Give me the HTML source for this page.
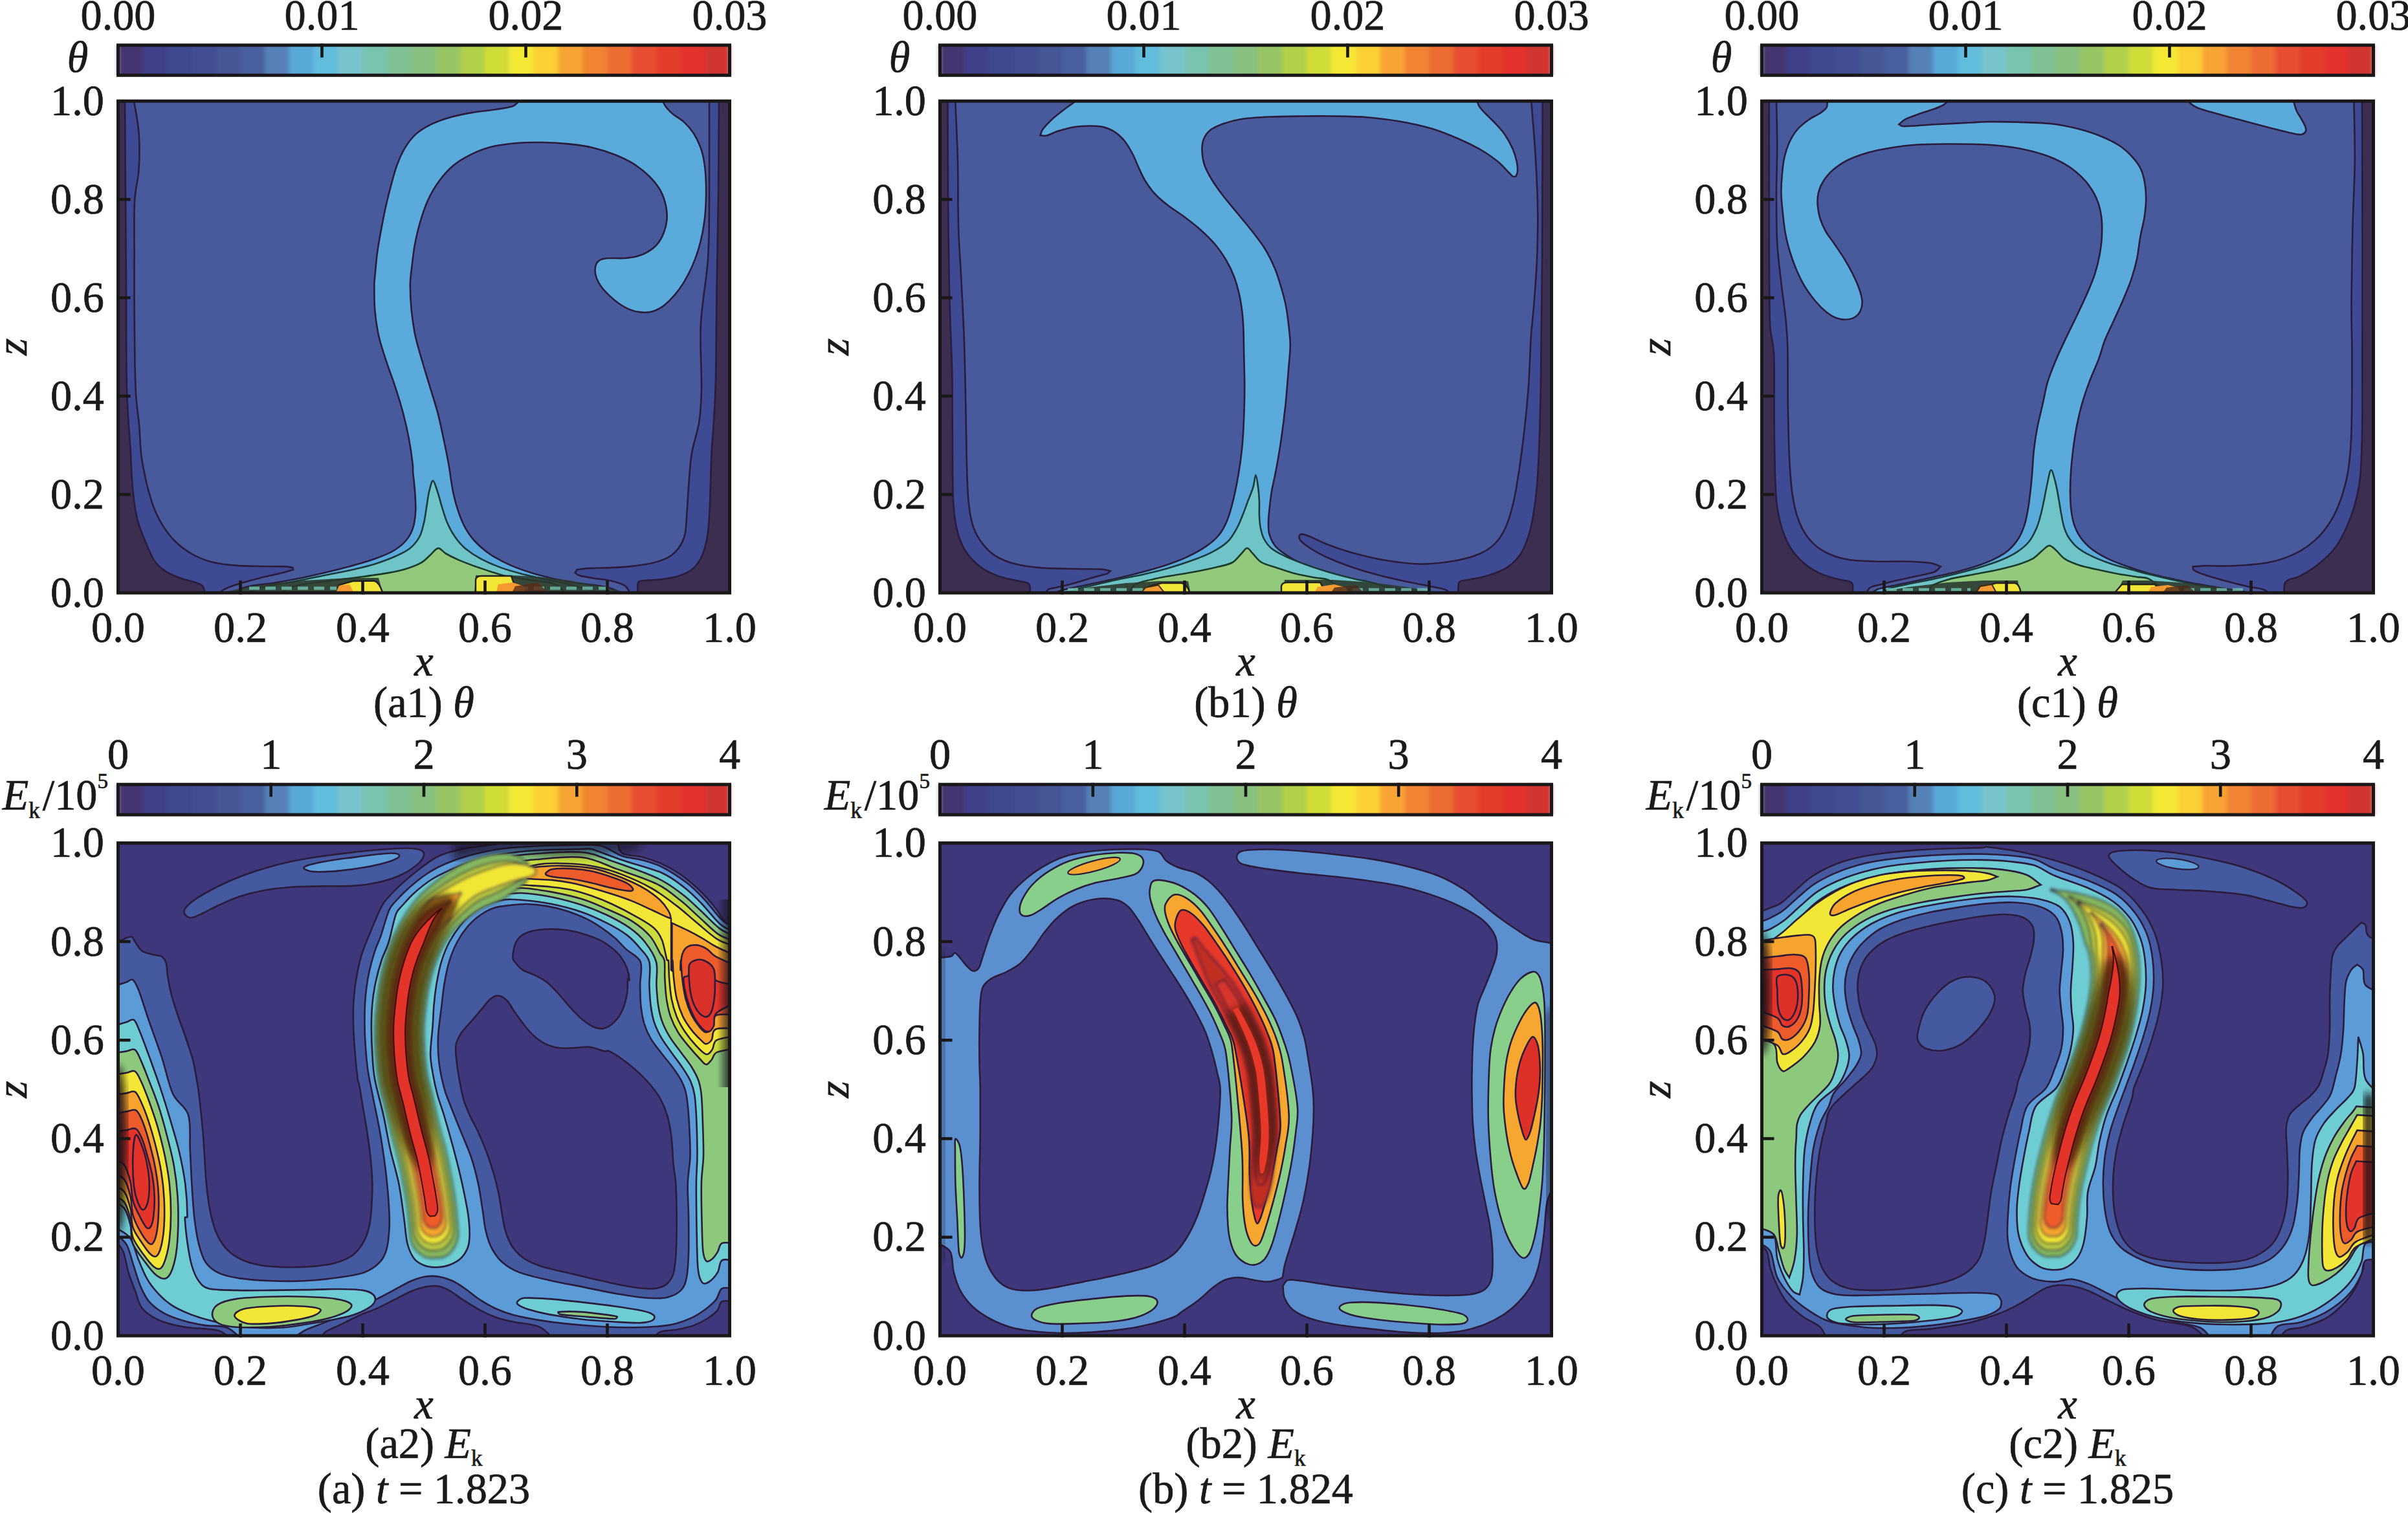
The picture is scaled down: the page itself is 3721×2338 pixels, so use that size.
<!DOCTYPE html><html><head><meta charset="utf-8"><title>figure</title><style>html,body{margin:0;padding:0;background:#fff}svg{display:block}text{font-family:"Liberation Serif",serif;fill:#1a1a1a;stroke:#1a1a1a;stroke-width:.7px}.i{font-style:italic}</style></head><body>
<svg xmlns="http://www.w3.org/2000/svg" width="3721" height="2338" viewBox="0 0 3721 2338">
<rect width="3721" height="2338" fill="#fff"/>
<defs>
<clipPath id="cp00"><rect x="182.5" y="156.2" width="945" height="759.9000000000001"/></clipPath>
<clipPath id="cp01"><rect x="1452.5" y="156.2" width="945" height="759.9000000000001"/></clipPath>
<clipPath id="cp02"><rect x="2722.5" y="156.2" width="945" height="759.9000000000001"/></clipPath>
<clipPath id="cp10"><rect x="182.5" y="1302.7" width="945" height="761.3999999999999"/></clipPath>
<clipPath id="cp11"><rect x="1452.5" y="1302.7" width="945" height="761.3999999999999"/></clipPath>
<clipPath id="cp12"><rect x="2722.5" y="1302.7" width="945" height="761.3999999999999"/></clipPath>
<filter id="bl" x="-5%" y="-5%" width="110%" height="110%"><feGaussianBlur stdDeviation="1.1"/></filter>
<filter id="cbb" x="-2%" y="-20%" width="104%" height="140%"><feGaussianBlur stdDeviation="3 0"/></filter><filter id="bl3" x="-10%" y="-5%" width="120%" height="110%"><feGaussianBlur stdDeviation="6"/></filter><filter id="bl2" x="-5%" y="-5%" width="110%" height="110%"><feGaussianBlur stdDeviation="2"/></filter><linearGradient id="wsh" x1="0" x2="1" y1="0" y2="0"><stop offset="0" stop-color="#15101a" stop-opacity=".9"/><stop offset="1" stop-color="#15101a" stop-opacity="0"/></linearGradient><linearGradient id="wshr" x1="1" x2="0" y1="0" y2="0"><stop offset="0" stop-color="#15101a" stop-opacity=".9"/><stop offset="1" stop-color="#15101a" stop-opacity="0"/></linearGradient>
</defs>
<g filter="url(#cbb)">
<rect x="182.20" y="69.8" width="38.40" height="46.5" fill="#44356f"/>
<rect x="220.00" y="69.8" width="38.40" height="46.5" fill="#3f4088"/>
<rect x="257.80" y="69.8" width="38.40" height="46.5" fill="#404a90"/>
<rect x="295.60" y="69.8" width="38.40" height="46.5" fill="#424e93"/>
<rect x="333.40" y="69.8" width="38.40" height="46.5" fill="#455496"/>
<rect x="371.20" y="69.8" width="38.40" height="46.5" fill="#4a5e9f"/>
<rect x="409.00" y="69.8" width="38.40" height="46.5" fill="#5580b8"/>
<rect x="446.80" y="69.8" width="38.40" height="46.5" fill="#58a8d8"/>
<rect x="484.60" y="69.8" width="38.40" height="46.5" fill="#62bcdc"/>
<rect x="522.40" y="69.8" width="38.40" height="46.5" fill="#78c4cc"/>
<rect x="560.20" y="69.8" width="38.40" height="46.5" fill="#78c4b0"/>
<rect x="598.00" y="69.8" width="38.40" height="46.5" fill="#80c094"/>
<rect x="635.80" y="69.8" width="38.40" height="46.5" fill="#88c080"/>
<rect x="673.60" y="69.8" width="38.40" height="46.5" fill="#98c464"/>
<rect x="711.40" y="69.8" width="38.40" height="46.5" fill="#b0d048"/>
<rect x="749.20" y="69.8" width="38.40" height="46.5" fill="#d0dc38"/>
<rect x="787.00" y="69.8" width="38.40" height="46.5" fill="#f4e834"/>
<rect x="824.80" y="69.8" width="38.40" height="46.5" fill="#fcd034"/>
<rect x="862.60" y="69.8" width="38.40" height="46.5" fill="#f8a434"/>
<rect x="900.40" y="69.8" width="38.40" height="46.5" fill="#f08430"/>
<rect x="938.20" y="69.8" width="38.40" height="46.5" fill="#ec6c30"/>
<rect x="976.00" y="69.8" width="38.40" height="46.5" fill="#e85030"/>
<rect x="1013.80" y="69.8" width="38.40" height="46.5" fill="#e43c2c"/>
<rect x="1051.60" y="69.8" width="38.40" height="46.5" fill="#e4322e"/>
<rect x="1089.40" y="69.8" width="38.40" height="46.5" fill="#d03430"/>
</g>
<rect x="182.5" y="69.8" width="945" height="46.5" fill="none" stroke="#1a1718" stroke-width="5"/>
<rect x="495.2" y="67.3" width="4.6" height="21.5" fill="#1a1718"/>
<rect x="810.2" y="67.3" width="4.6" height="21.5" fill="#1a1718"/>
<g clip-path="url(#cp00)"><rect x="180" y="153.7" width="950" height="770" fill="#3c2e50"/><path d="M193 150C193.3 200 193.7 250 194 300C194.3 350 194.7 400 195 450C195.3 500 194.8 558.3 196 600C197.2 641.7 200.6 676.7 201.9 700C202.9 717.9 202.9 726.6 203.9 739.9C204.9 753.2 206.1 767.8 207.9 779.7C209.7 791.7 211.9 801.7 214.9 811.6C217.9 821.6 222 830.6 225.8 839.5C229.7 848.5 233.2 858.5 237.8 865.4C242.5 872.4 247.4 876.9 253.7 881.4C260.1 885.9 268 889.4 275.7 892.3C283.3 895.3 293.3 897 299.6 899.3C305.9 901.6 310.5 902 313.5 906.3C316.6 910.6 316.5 918.8 318 925C540.5 925 762.9 925 985.4 925C985.4 917.9 985.1 908 985.4 903.6C985.6 901.1 985.8 899.6 987.6 898.5C989.4 897.4 992.4 897.4 996.3 897C1001.4 896.5 1009.7 896.7 1018.1 895.6C1026.6 894.5 1038.7 893 1047.2 890.5C1055.7 887.9 1063.2 884.7 1069 880.3C1074.9 875.9 1078.7 870.1 1082.1 864.3C1085.5 858.5 1087.5 852.2 1089.4 845.4C1091.3 838.6 1092.5 833.3 1093.8 823.6C1095 813.9 1095.9 800.6 1096.7 787.2C1097.4 773.9 1097.6 758.2 1098.1 743.6C1098.6 729.1 1098.6 719.6 1099.6 700C1100.8 676.1 1104.3 641.7 1105.6 600C1106.9 558.3 1106.8 500 1107.5 450C1108.2 400 1109.4 350 1110 300C1110.6 250 1110.7 200 1111 150C805 150 499 150 193 150Z" fill="#3f4a95" stroke="#2a1c3a" stroke-width="2.6" /><path d="M206 150C208.8 168.3 213.1 186.3 214.5 205C215.9 223.7 215.6 244.2 214.5 262C213.4 279.8 209.1 289.3 208 312C206.8 335 207.6 370.5 207.5 400C207.4 429.5 207.3 455.3 207.7 489C208 522.7 208.3 573.7 209.6 602C210.7 627.6 213.8 642.4 215.2 658.7C216.6 675 216.6 688.1 217.9 700C219.1 711.9 220.9 719.9 222.9 729.9C224.8 739.9 227 749.8 229.8 759.8C232.7 769.8 235.8 780.4 239.8 789.7C243.8 799 248.4 807.6 253.7 815.6C259.1 823.6 264.7 830.9 271.7 837.5C278.7 844.2 287 850.5 295.6 855.5C304.2 860.5 312.9 864.4 323.5 867.4C334.1 870.4 346.8 872.1 359.4 873.4C372 874.7 386 874.7 399.3 875C412.5 875.3 430.3 875.1 439.1 875.4C445 875.6 447.8 876.5 452.1 877C452.4 878.1 452.7 879.3 453.1 880.4C448.4 881.7 445.5 882.8 439.1 884.4C431.8 886.2 419.2 888.9 409.2 891.3C399.3 893.8 387.6 897 379.3 899.3C371 901.6 365 903.3 359.4 905.3C353.7 907.3 348.8 909.5 345.4 911.3C342.4 913 341.5 914.6 339.5 916.3C551.1 916.9 762.8 917.5 974.5 918.1C972.1 914.2 970.4 909.4 967.2 906.5C964.1 903.6 960.5 902.4 955.6 900.7C950.8 899 944.7 897.5 938.2 896.3C931.6 895.1 923.6 894.6 916.4 893.4C909.1 892.2 899.1 890.4 894.5 889C891.5 888.1 890.7 886.3 888.7 885C889.7 883.4 890.7 881.9 891.6 880.3C897.4 879.6 901.3 878.6 909.1 878.1C916.8 877.6 928.5 877.8 938.2 877.4C947.9 877 957.6 876.8 967.2 875.9C976.9 875.1 987.8 873.8 996.3 872.3C1004.8 870.9 1011.4 869.5 1018.1 867.2C1024.9 864.9 1031.5 862.6 1037 858.5C1042.6 854.4 1048 848.3 1051.6 842.5C1055.2 836.7 1057.2 832.6 1058.9 823.6C1060.6 814.4 1060.8 800.6 1061.8 787.2C1062.7 773.9 1063.5 758.2 1064.7 743.6C1065.9 729.1 1066.4 715.4 1069 700C1071.7 684.6 1078 667.7 1080.5 651C1083 634.3 1083.6 623 1084 600C1084.4 574.8 1081.3 533.3 1083 500C1084.7 466.7 1091.8 433.3 1094 400C1096.2 366.7 1095.7 341.7 1096 300C1096.3 258.3 1096 200 1096 150C799.3 150 502.7 150 206 150Z" fill="#48599c" stroke="#2a1c3a" stroke-width="2.6" /><path d="M801.3 157.2C798 159.7 796.8 162.8 791.6 164.5C785.6 166.5 775.5 167.7 765.1 169.3C754.6 170.9 740.5 172.1 728.9 174.1C717.2 176.1 705.6 178.3 695.1 181.4C684.6 184.4 675 187.8 666.2 192.2C657.3 196.6 648.9 201.7 642 207.9C635.2 214.1 630 221.6 625.1 229.6C620.3 237.7 616.5 246.9 613.1 256.2C609.7 265.4 607.4 274.6 604.6 285.1C601.8 295.6 598.8 307.2 596.2 318.9C593.6 330.5 591.2 343 589 355.1C586.7 367.1 584.5 379.2 582.9 391.3C581.3 403.3 580.1 419.3 579.3 427.4C578.8 433.1 578.3 434.3 578.3 440C578.3 448.7 578.2 466.4 579.3 479.7C580.5 492.9 582.3 506.1 585.3 519.3C588.2 532.5 592.9 545.8 597.2 559C601.5 572.2 606.7 585.4 611 598.6C615.3 611.9 619.5 625.1 622.9 638.3C626.4 651.5 629.4 664.7 631.9 678C634.3 691.2 636.8 709 637.8 717.6C638.5 723.1 637.8 724.4 638.2 729.9C638.8 736.9 640.5 749.8 641.2 759.8C641.8 769.8 642.7 780.4 642.2 789.7C641.7 799 640.7 808 638.2 815.6C635.7 823.2 632.4 829.6 627.2 835.5C622.1 841.5 615.3 846.8 607.3 851.5C599.3 856.1 590.7 859.5 579.4 863.4C568.1 867.4 552.8 871.7 539.5 875.4C526.2 879.1 512.9 882.2 499.7 885.4C486.4 888.5 473.1 891.7 459.8 894.3C446.5 897 433.4 899.1 419.9 901.3C406.5 903.5 391.5 903.6 379 907.5C366.5 911.4 356.3 919.2 345 925C555 925 765 925 975 925C963.3 919.3 955.8 912.3 940 908C924.2 903.7 898.5 902.8 880 899.3C861.4 895.9 843.8 891.7 828.5 887.4C813.3 883 800.3 878.4 788.7 873.4C777.1 868.4 767.7 863.4 758.8 857.5C749.8 851.5 741.5 844.5 734.9 837.5C728.2 830.6 723.4 823.6 718.9 815.6C714.4 807.6 711.1 799 708 789.7C704.8 780.4 702.4 771.8 700 759.8C697.5 747.8 695.8 731.3 693.3 717.6C690.9 704 688.2 691.2 685.4 678C682.6 664.7 680 651.5 676.5 638.3C673 625.1 668.6 611.9 664.6 598.6C660.6 585.4 656.5 572.2 652.7 559C648.9 545.8 644.6 532.5 641.8 519.3C639 506.1 637.2 492.9 635.8 479.7C634.5 466.4 633.8 450.7 633.8 440C633.9 429.3 634.8 425.5 636 415.4C637.2 405.2 638.6 391.3 640.8 379.2C643 367.1 645.8 354.7 649.3 343C652.7 331.3 656.5 319.7 661.3 309.2C666.2 298.8 671.8 289.1 678.2 280.3C684.6 271.4 691.9 263 699.9 256.2C708 249.3 716.8 244.1 726.5 239.3C736.1 234.4 746.2 230.2 757.8 227.2C769.5 224.2 783.2 222.4 796.4 221.2C809.7 220 823.8 219.8 837.4 220C851.1 220.2 865.2 221 878.5 222.4C891.7 223.8 905 225.6 917.1 228.4C929.1 231.2 940.4 235 950.8 239.3C961.3 243.5 970.9 248.1 979.8 253.7C988.6 259.4 997.1 266.2 1003.9 273C1010.7 279.9 1016.6 287.1 1020.8 294.8C1025 302.4 1027.6 311.2 1029.2 318.9C1030.8 326.5 1031 333.8 1030.4 340.6C1029.8 347.4 1028 353.9 1025.6 359.9C1023.2 365.9 1020 372 1016 376.8C1012 381.6 1006.7 385.6 1001.5 388.8C996.3 392.1 990.6 394.4 984.6 396.1C978.6 397.8 972.5 398.5 965.3 399C958.1 399.5 947.2 398.7 941.2 399C935.7 399.3 932.3 399.6 929.1 400.9C925.9 402.2 923.5 404.1 921.9 406.9C920.3 409.8 919.5 414 919.5 417.8C919.5 421.6 920.3 425.6 921.9 429.9C923.5 434.1 925.9 438.7 929.1 443.1C932.3 447.5 936.8 452.2 941.2 456.4C945.6 460.6 950.4 464.8 955.7 468.5C960.9 472.1 966.9 475.8 972.5 478.1C978.2 480.4 983.8 481.8 989.4 482.4C995.1 483.1 1001.1 482.9 1006.3 481.7C1011.5 480.6 1016 478.7 1020.8 475.7C1025.6 472.7 1030.4 468.5 1035.3 463.6C1040.1 458.8 1045.1 453.2 1049.7 446.7C1054.4 440.3 1059 432.7 1063 425C1067 417.4 1070.7 409.3 1073.9 400.9C1077.1 392.5 1079.9 384 1082.3 374.4C1084.7 364.7 1086.9 353.5 1088.3 343C1089.8 332.5 1090.4 322.1 1090.8 311.6C1091.2 301.2 1091.2 290.3 1090.8 280.3C1090.4 270.2 1089.8 260.2 1088.3 251.3C1086.9 242.5 1085.1 234.8 1082.3 227.2C1079.5 219.6 1075.7 211.9 1071.5 205.5C1067.2 199.1 1062.2 193.4 1057 188.6C1051.8 183.8 1044.5 180.2 1040.1 176.5C1035.7 172.9 1033.1 170.1 1030.4 166.9C1027.8 163.7 1026.4 160.5 1024.4 157.2C950 157.2 875.6 157.2 801.3 157.2Z" fill="#5aabdc" stroke="#2a1c3a" stroke-width="2.6" /><path d="M669.1 742.9C666.9 742.9 664.8 753 663.1 759.8C661.4 766.6 660.4 775.7 659.1 783.7C657.8 791.7 657 800 655.1 807.6C653.3 815.3 651.8 822.9 648.2 829.6C644.5 836.2 639.4 842.5 633.2 847.5C627.1 852.5 620.3 855.5 611.3 859.5C602.3 863.4 591.3 867.8 579.4 871.4C567.4 875.1 552.8 878.4 539.5 881.4C526.2 884.4 514.6 886.4 499.7 889.4C484.7 892.3 466.4 896.2 449.8 899.3C433.2 902.5 413.3 904 400 908.3C386.7 912.6 380 919.4 370 925C566.7 925 763.3 925 960 925C933.3 917.8 898.6 908.1 880 903.3C865.9 899.7 860.4 899 848.5 896.3C836.6 893.7 820.9 890.5 808.6 887.4C796.3 884.2 785.7 881.4 774.7 877.4C763.8 873.4 752.1 868.4 742.8 863.4C733.5 858.5 725.6 853.1 718.9 847.5C712.3 841.9 707.6 836.2 703 829.6C698.3 822.9 694.3 815.3 691 807.6C687.7 800 685.5 791.7 683 783.7C680.5 775.7 678.4 766.6 676.1 759.8C673.7 753 671.2 742.9 669.1 742.9Z" fill="#6ec4c6" stroke="#1c3a3a" stroke-width="2.6" /><path d="M677.1 847.1C673.1 847.4 669.4 853.7 665.1 857.5C660.8 861.2 657.1 865.9 651.1 869.4C645.2 872.9 637.9 875.7 629.2 878.4C620.6 881.1 610.9 883.2 599.3 885.4C587.7 887.5 572.7 889.5 559.5 891.3C546.2 893.2 532.9 894.7 519.6 896.3C506.3 898 491.4 899.5 479.7 901.3C468.1 903.1 459.8 903.3 449.8 907.3C439.9 911.2 429.9 919.1 420 925C573.3 925 726.7 925 880 925C872.8 917.8 868.7 908.1 858.4 903.3C848.2 898.5 831.9 898.7 818.6 896.3C805.3 894 788.7 891.5 778.7 889.4C769.6 887.4 766.1 885.7 758.8 883.4C751.5 881.1 743.2 878.4 734.9 875.4C726.6 872.4 716.6 868.8 708.9 865.4C701.3 862.1 694.3 858.5 689 855.5C683.7 852.4 681 846.8 677.1 847.1Z" fill="#92c97c" stroke="#1c3a2a" stroke-width="2.6" /><path d="M330 918L400 904L470 897L540 893L585 893L592 918Z" fill="#2b382f" opacity=".9"/><path d="M385 909H520" stroke="#6fbfae" stroke-width="5" stroke-dasharray="16 9" fill="none" opacity=".85"/><path d="M975 918L930 906L880 897L830 891L790 889L735 889L733 918Z" fill="#2b382f" opacity=".9"/><path d="M800 909H945" stroke="#6fbfae" stroke-width="5" stroke-dasharray="16 9" fill="none" opacity=".8"/><path d="M520 918L524 904L545 898L578 897.5Q586 899 592 918Z" fill="#f2e636" stroke="#222" stroke-width="2.4"/><path d="M518 918L524 905L540 903L548 918Z" fill="#f59a30"/><path d="M735 918V896Q736 890 744 890L790 890L800 918Z" fill="#f2e636" stroke="#222" stroke-width="2.4"/><path d="M766 918L770 903L792 900L810 906L812 918Z" fill="#f59a30"/><path d="M790 918L796 906L830 900L850 918Z" fill="#5a2a18" opacity=".8"/></g>
<rect x="182.5" y="156.2" width="945" height="759.9000000000001" fill="none" stroke="#1a1718" stroke-width="5"/>
<rect x="369.2" y="897.1" width="4.6" height="21.5" fill="#1a1718"/>
<rect x="180" y="761.8" width="21.5" height="4.6" fill="#1a1718"/>
<rect x="558.2" y="897.1" width="4.6" height="21.5" fill="#1a1718"/>
<rect x="180" y="609.8" width="21.5" height="4.6" fill="#1a1718"/>
<rect x="747.2" y="897.1" width="4.6" height="21.5" fill="#1a1718"/>
<rect x="180" y="457.9" width="21.5" height="4.6" fill="#1a1718"/>
<rect x="936.2" y="897.1" width="4.6" height="21.5" fill="#1a1718"/>
<rect x="180" y="305.9" width="21.5" height="4.6" fill="#1a1718"/>
<text x="187.2" transform="scale(0.975 1)" y="991.6" font-size="68" text-anchor="middle">0.0</text>
<text x="165.1" transform="scale(0.975 1)" y="937.8" font-size="68" text-anchor="end">0.0</text>
<text x="381.0" transform="scale(0.975 1)" y="991.6" font-size="68" text-anchor="middle">0.2</text>
<text x="165.1" transform="scale(0.975 1)" y="785.8" font-size="68" text-anchor="end">0.2</text>
<text x="574.9" transform="scale(0.975 1)" y="991.6" font-size="68" text-anchor="middle">0.4</text>
<text x="165.1" transform="scale(0.975 1)" y="633.8" font-size="68" text-anchor="end">0.4</text>
<text x="768.7" transform="scale(0.975 1)" y="991.6" font-size="68" text-anchor="middle">0.6</text>
<text x="165.1" transform="scale(0.975 1)" y="481.9" font-size="68" text-anchor="end">0.6</text>
<text x="962.6" transform="scale(0.975 1)" y="991.6" font-size="68" text-anchor="middle">0.8</text>
<text x="165.1" transform="scale(0.975 1)" y="329.9" font-size="68" text-anchor="end">0.8</text>
<text x="1156.4" transform="scale(0.975 1)" y="991.6" font-size="68" text-anchor="middle">1.0</text>
<text x="165.1" transform="scale(0.975 1)" y="177.9" font-size="68" text-anchor="end">1.0</text>
<text x="187.2" transform="scale(0.975 1)" y="45.5" font-size="68" text-anchor="middle">0.00</text>
<text x="510.3" transform="scale(0.975 1)" y="45.5" font-size="68" text-anchor="middle">0.01</text>
<text x="833.3" transform="scale(0.975 1)" y="45.5" font-size="68" text-anchor="middle">0.02</text>
<text x="1156.4" transform="scale(0.975 1)" y="45.5" font-size="68" text-anchor="middle">0.03</text>
<text class="i" x="123.1" transform="scale(0.975 1)" y="111.0" font-size="68" text-anchor="middle">θ</text>
<text class="i" x="671.8" transform="scale(0.975 1)" y="1043.9" font-size="68" text-anchor="middle">x</text>
<text class="i" transform="translate(41.0,536.1) rotate(-90)" font-size="68" text-anchor="middle">z</text>
<text x="671.8" transform="scale(0.975 1)" y="1107.8" font-size="68" text-anchor="middle">(a1) <tspan class="i">θ</tspan></text>
<g filter="url(#cbb)">
<rect x="1452.20" y="69.8" width="38.40" height="46.5" fill="#44356f"/>
<rect x="1490.00" y="69.8" width="38.40" height="46.5" fill="#3f4088"/>
<rect x="1527.80" y="69.8" width="38.40" height="46.5" fill="#404a90"/>
<rect x="1565.60" y="69.8" width="38.40" height="46.5" fill="#424e93"/>
<rect x="1603.40" y="69.8" width="38.40" height="46.5" fill="#455496"/>
<rect x="1641.20" y="69.8" width="38.40" height="46.5" fill="#4a5e9f"/>
<rect x="1679.00" y="69.8" width="38.40" height="46.5" fill="#5580b8"/>
<rect x="1716.80" y="69.8" width="38.40" height="46.5" fill="#58a8d8"/>
<rect x="1754.60" y="69.8" width="38.40" height="46.5" fill="#62bcdc"/>
<rect x="1792.40" y="69.8" width="38.40" height="46.5" fill="#78c4cc"/>
<rect x="1830.20" y="69.8" width="38.40" height="46.5" fill="#78c4b0"/>
<rect x="1868.00" y="69.8" width="38.40" height="46.5" fill="#80c094"/>
<rect x="1905.80" y="69.8" width="38.40" height="46.5" fill="#88c080"/>
<rect x="1943.60" y="69.8" width="38.40" height="46.5" fill="#98c464"/>
<rect x="1981.40" y="69.8" width="38.40" height="46.5" fill="#b0d048"/>
<rect x="2019.20" y="69.8" width="38.40" height="46.5" fill="#d0dc38"/>
<rect x="2057.00" y="69.8" width="38.40" height="46.5" fill="#f4e834"/>
<rect x="2094.80" y="69.8" width="38.40" height="46.5" fill="#fcd034"/>
<rect x="2132.60" y="69.8" width="38.40" height="46.5" fill="#f8a434"/>
<rect x="2170.40" y="69.8" width="38.40" height="46.5" fill="#f08430"/>
<rect x="2208.20" y="69.8" width="38.40" height="46.5" fill="#ec6c30"/>
<rect x="2246.00" y="69.8" width="38.40" height="46.5" fill="#e85030"/>
<rect x="2283.80" y="69.8" width="38.40" height="46.5" fill="#e43c2c"/>
<rect x="2321.60" y="69.8" width="38.40" height="46.5" fill="#e4322e"/>
<rect x="2359.40" y="69.8" width="38.40" height="46.5" fill="#d03430"/>
</g>
<rect x="1452.5" y="69.8" width="945" height="46.5" fill="none" stroke="#1a1718" stroke-width="5"/>
<rect x="1765.2" y="67.3" width="4.6" height="21.5" fill="#1a1718"/>
<rect x="2080.2" y="67.3" width="4.6" height="21.5" fill="#1a1718"/>
<g clip-path="url(#cp01)"><rect x="1450" y="153.7" width="950" height="770" fill="#3c2e50"/><path d="M1464.5 150C1464.7 200 1464.6 250 1465 300C1465.4 350 1466 404.5 1467 450C1468 495.5 1470.4 539.2 1471.2 572.9C1471.9 606.6 1471.5 621.3 1471.7 652.2C1471.9 683 1471.9 733.7 1472.5 757.9C1472.9 775.8 1473.6 785.7 1475.1 797.6C1476.7 809.5 1478.4 819.6 1481.7 829.3C1485 839 1489.2 847.8 1494.9 855.8C1500.7 863.7 1508.2 871.2 1516.1 876.9C1524 882.6 1533.7 886.8 1542.5 890.1C1551.3 893.4 1561.5 895 1569 896.7C1576.5 898.5 1583.7 899.2 1587.5 900.7C1590.2 901.8 1590.9 903.1 1591.4 906C1592.1 909.7 1591.4 917.5 1591.4 923.2C1812.1 923.2 2032.8 923.2 2253.4 923.2C2253.4 917.5 2253 910.1 2253.4 906C2253.8 902.5 2253.2 900.4 2256.1 898.6C2258.9 896.8 2264 896.8 2270.6 895.4C2277.4 894 2287.3 893.2 2297 890.1C2306.7 887.1 2320 882.6 2328.8 876.9C2337.6 871.2 2344.2 864.6 2349.9 855.8C2355.6 847 2359.6 835.9 2363.1 824C2366.7 812.1 2368.9 799.8 2371.1 784.4C2373.3 769 2375 755.4 2376.4 731.5C2377.9 705.1 2379.4 661 2380.3 625.8C2381.2 590.5 2381.2 557.6 2381.6 520C2382.1 482.4 2382.7 454 2383 400C2383.3 338.3 2383.5 233.3 2383.7 150C2077.3 150 1770.9 150 1464.5 150Z" fill="#3f4a95" stroke="#2a1c3a" stroke-width="2.6" /><path d="M1476 150C1477.3 183.3 1479.2 216.7 1480 250C1480.8 283.3 1480.2 320.8 1481 350C1481.8 379.2 1483.6 396.7 1485 425C1486.4 453.3 1488.4 486.5 1489.7 520C1490.9 553.5 1491.6 594.9 1492.3 625.8C1493 656.6 1493 680.8 1493.6 705.1C1494.3 729.3 1494.7 753.5 1496.3 771.2C1497.8 788.8 1499.6 799.8 1502.9 810.8C1506.2 821.8 1510.4 829.3 1516.1 837.3C1521.8 845.2 1528.4 852.7 1537.2 858.4C1546.1 864.1 1557.1 868.5 1569 871.6C1580.9 874.8 1593.2 876.2 1608.6 877.4C1624.1 878.7 1646.1 878.7 1661.5 879C1676.9 879.4 1692.1 879 1701.2 879.6C1707.8 879.9 1710.9 881.3 1715.7 882.2C1714.4 883.5 1713.1 884.8 1711.7 886.2C1703.8 888.4 1696.3 890.4 1687.9 892.8C1679.6 895.2 1670.3 898.3 1661.5 900.7C1652.7 903.1 1642.1 905.6 1635.1 907.3C1628 909.1 1622.7 908.6 1619.2 911.3C1615.7 913.9 1615.7 919.2 1613.9 923.2C1821.4 923.2 2028.8 923.2 2236.2 923.2C2236.2 919.7 2240.2 915.2 2236.2 912.6C2231.8 909.7 2220.8 908.4 2209.8 906C2198.8 903.6 2183.4 900.9 2170.1 898.1C2156.9 895.2 2143.7 892.3 2130.5 888.8C2117.3 885.3 2102.7 880.9 2090.8 876.9C2078.9 873 2069.2 869.4 2059.1 865C2049 860.6 2037.9 855.1 2030 850.5C2022.1 845.9 2015.3 840.8 2011.5 837.3C2008.6 834.5 2007.5 831.3 2007.5 829.3C2007.5 827.3 2009 825.4 2011.5 825.4C2014.4 825.4 2019 827 2024.7 829.3C2031.3 832 2040.1 837 2051.2 841.2C2062.2 845.4 2075.4 850.3 2090.8 854.4C2106.2 858.6 2126.1 863.5 2143.7 866.3C2161.3 869.2 2178.9 871.6 2196.6 871.6C2214.2 871.6 2234.5 869 2249.5 866.3C2264.4 863.7 2276.3 860.2 2286.5 855.8C2296.6 851.4 2303.6 846.5 2310.3 839.9C2316.9 833.3 2321.7 825.4 2326.1 816.1C2330.5 806.9 2333.6 796.3 2336.7 784.4C2339.8 772.5 2341.8 762.4 2344.6 744.7C2347.5 727.1 2351 702.9 2353.9 678.6C2356.7 654.4 2359.8 625.8 2361.8 599.3C2363.8 572.9 2364.4 540.7 2365.8 520C2367.1 499.7 2368.5 495 2370 475C2371.5 455 2374 425 2375 400C2376 375 2376.7 352.1 2376.2 325C2375.8 297.9 2374.2 265.6 2372.5 237.5C2370.8 209.4 2368.3 183.3 2366.2 156.2C2069.5 154.2 1772.8 152.1 1476 150Z" fill="#48599c" stroke="#2a1c3a" stroke-width="2.6" /><path d="M1662.5 156.2C1656.7 160.4 1651.2 164 1645 168.8C1638.8 173.5 1630.6 179.8 1625 185C1619.4 190.2 1614.2 196 1611.2 200C1608.6 203.6 1608.8 206.2 1607.5 209.2C1610.8 209.3 1613.1 210.6 1617.5 209.5C1622.1 208.4 1627.9 204.7 1635 202.5C1642.1 200.3 1651.7 197.6 1660 196.2C1668.3 194.9 1677.5 194.5 1685 194.5C1692.5 194.5 1698.8 194.7 1705 196.2C1711.2 197.8 1717.1 200.2 1722.5 203.8C1727.9 207.3 1732.9 211.9 1737.5 217.5C1742.1 223.1 1746.2 230.4 1750 237.5C1753.8 244.6 1756.7 252.9 1760 260C1763.3 267.1 1765.8 273.3 1770 280C1774.2 286.7 1779.2 293.8 1785 300C1790.8 306.2 1797.5 311.7 1805 317.5C1812.5 323.3 1821.7 328.8 1830 335C1838.3 341.2 1847.1 347.9 1855 355C1862.9 362.1 1870.8 369.6 1877.5 377.5C1884.2 385.4 1890.1 394.2 1895 402.5C1899.9 410.8 1903.7 418.8 1907 427.5C1910.3 436.2 1912.9 445.8 1915 455C1917.1 464.2 1918.4 473.3 1919.5 482.5C1920.6 491.7 1921.1 499.3 1921.5 510C1921.9 520.7 1921.9 531.6 1922.2 546.4C1922.5 561.3 1923.3 581.7 1923.2 599.3C1923.2 616.9 1922.6 636.8 1921.9 652.2C1921.3 667.6 1920.6 678.6 1919.3 691.8C1918 705.1 1916.2 718.3 1914 731.5C1911.8 744.7 1908.9 759.3 1906.1 771.2C1903.2 783.1 1900.6 793.6 1896.8 802.9C1893.1 812.1 1889.3 819.6 1883.6 826.7C1877.9 833.7 1870.8 839.5 1862.4 845.2C1854.1 850.9 1843.9 856.2 1833.4 861.1C1822.8 865.9 1810.9 870.3 1799 874.3C1787.1 878.2 1774.3 881.5 1762 884.8C1749.6 888.2 1737.3 891.2 1725 894.1C1712.6 897 1699.4 899.6 1687.9 902C1676.5 904.5 1665 906.7 1656.2 908.6C1647.4 910.6 1641.2 911.5 1635.1 913.9C1628.9 916.4 1624.5 920.1 1619.2 923.2C1816.9 923.2 2014.7 923.2 2212.4 923.2C2207.1 920.5 2203.6 917.2 2196.6 915.3C2189.5 913.3 2181.2 913 2170.1 911.3C2159.1 909.5 2143.7 907.1 2130.5 904.7C2117.3 902.3 2104 899.8 2090.8 896.7C2077.6 893.7 2063.1 889.9 2051.2 886.2C2039.3 882.4 2029.1 878.5 2019.4 874.3C2009.7 870.1 2000.9 865.9 1993 861.1C1985.1 856.2 1977 850.9 1971.8 845.2C1966.6 839.5 1963.8 832.9 1961.8 826.7C1959.8 820.5 1960 815.2 1960 808.2C1960 801.1 1960.9 792.8 1961.8 784.4C1962.7 776 1963.6 767.6 1965.2 757.9C1966.9 748.3 1969.4 739.4 1971.8 726.2C1974.3 713 1977.4 695.4 1979.8 678.6C1982.2 661.9 1984.5 643.4 1986.4 625.8C1988.2 608.1 1989.7 588.3 1990.9 572.9C1992.1 557.5 1993.8 545.4 1993.8 533.2C1993.8 521.1 1992.1 510.1 1991 500C1989.9 489.9 1988.8 481.7 1987 472.5C1985.2 463.3 1982.8 454.6 1980 445C1977.2 435.4 1974.2 425 1970 415C1965.8 405 1960.8 394.6 1955 385C1949.2 375.4 1942.1 366.7 1935 357.5C1927.9 348.3 1920 339.2 1912.5 330C1905 320.8 1896.7 311.2 1890 302.5C1883.3 293.8 1877.3 285.4 1872.5 277.5C1867.7 269.6 1863.8 262.5 1861.2 255C1858.8 247.5 1857.7 239.2 1857.5 232.5C1857.3 225.8 1857.9 220.2 1860 215C1862.1 209.8 1865 205.2 1870 201.2C1875 197.3 1881.7 194.2 1890 191.2C1898.3 188.3 1907.9 185.5 1920 183.8C1932.1 182 1947.1 181.2 1962.5 180.5C1977.9 179.8 1995.8 179.7 2012.5 179.5C2029.2 179.3 2045.8 179.2 2062.5 179.5C2079.2 179.8 2095.8 179.9 2112.5 181.2C2129.2 182.6 2145.8 184.6 2162.5 187.5C2179.2 190.4 2197.1 194.2 2212.5 198.8C2227.9 203.3 2242.1 209.4 2255 215C2267.9 220.6 2280 226.7 2290 232.5C2300 238.3 2308.3 244.6 2315 250C2321.7 255.4 2326.2 261.2 2330 265C2333.4 268.4 2335.4 271.2 2337.5 272.5C2339.4 273.7 2340.8 272.5 2342.5 272.5C2343.3 270 2344.8 268.6 2345 265C2345.2 261.2 2345 255.8 2343.8 250C2342.5 244.2 2340.6 237.1 2337.5 230C2334.4 222.9 2329.6 214.2 2325 207.5C2320.4 200.8 2315 195.4 2310 190C2305 184.6 2299 179.2 2295 175C2291 170.8 2288.3 168.1 2286.2 165C2284.2 161.9 2283.8 159.2 2282.5 156.2C2075.8 156.2 1869.2 156.2 1662.5 156.2Z" fill="#5aabdc" stroke="#2a1c3a" stroke-width="2.6" /><path d="M1940.4 734.1C1939.2 734.1 1938.4 746 1936.5 752.7C1934.5 759.3 1931.2 766.8 1928.5 773.8C1925.9 780.9 1923.5 787.9 1920.6 795C1917.7 802 1915.3 809.1 1911.3 816.1C1907.4 823.2 1903.2 831.1 1896.8 837.3C1890.4 843.4 1882.3 848.3 1873 853.1C1863.8 858 1852.7 862.2 1841.3 866.3C1829.8 870.5 1816.6 874.7 1804.3 878.2C1791.9 881.8 1780 884.6 1767.3 887.5C1754.5 890.4 1740.8 892.6 1727.6 895.4C1714.4 898.3 1699 902 1687.9 904.7C1676.9 907.3 1668.6 908.2 1661.5 911.3C1654.5 914.4 1650.9 919.2 1645.6 923.2C1820.5 923.2 1995.3 923.2 2170.1 923.2C2156.9 916.6 2143.7 908.2 2130.5 903.4C2117.3 898.5 2104 897.4 2090.8 894.1C2077.6 890.8 2063.1 887.1 2051.2 883.5C2039.3 880 2029.8 876.7 2019.4 873C2009.1 869.2 1998.1 865.2 1989 861.1C1980 856.9 1971.3 852.7 1965.2 847.8C1959.2 843 1955.8 837.7 1952.8 832C1949.9 826.2 1948.7 819.6 1947.5 813.5C1946.4 807.3 1946.2 801.6 1945.9 795C1945.7 788.3 1946.2 780.9 1945.9 773.8C1945.6 766.8 1945 759.3 1944.1 752.7C1943.2 746 1941.7 734.1 1940.4 734.1Z" fill="#6ec4c6" stroke="#1c3a3a" stroke-width="2.6" /><path d="M1927.2 847C1924.2 847 1921.7 852.1 1918 855.8C1914.2 859.4 1910.5 865.7 1904.7 869C1899 872.3 1893.3 873.2 1883.6 875.6C1873.9 878 1859.4 881.1 1846.6 883.5C1833.8 885.9 1817.9 888.2 1806.9 890.1C1795.9 892.1 1789.3 893.2 1780.5 895.4C1771.7 897.6 1760.6 898.7 1754 903.4C1747.4 908 1745.2 916.6 1740.8 923.2C1857.5 923.2 1974.2 923.2 2090.8 923.2C2078.5 914.4 2063.5 901.8 2053.8 896.7C2045.2 892.3 2041.5 894.5 2032.7 892.8C2023.8 891 2011.1 888.8 2000.9 886.2C1990.8 883.5 1980.4 879.8 1971.8 876.9C1963.3 874.1 1955.3 872.5 1949.4 869C1943.4 865.5 1939.9 859.4 1936.2 855.8C1932.5 852.1 1930.2 847 1927.2 847Z" fill="#92c97c" stroke="#1c3a2a" stroke-width="2.6" /><path d="M1619 918L1680 908L1740 901L1791 898L1836 898L1840 918Z" fill="#2b382f" opacity=".9"/><path d="M1650 911H1770" stroke="#6fbfae" stroke-width="4.5" stroke-dasharray="16 9" fill="none" opacity=".85"/><path d="M2225 918L2180 908L2120 900L2060 896L2030 896L1985 896L1983 918Z" fill="#2b382f" opacity=".9"/><path d="M2090 911H2215" stroke="#6fbfae" stroke-width="4.5" stroke-dasharray="16 9" fill="none" opacity=".8"/><path d="M1770 918L1776 906L1795 901L1826 901Q1835 903 1839 918Z" fill="#f2e636" stroke="#222" stroke-width="2.4"/><path d="M1762 918L1770 908L1790 904L1801 918Z" fill="#f59a30" stroke="#3a2a18" stroke-width="2"/><path d="M1980 918V906Q1981 900 1989 900L2040 900L2050 918Z" fill="#f2e636" stroke="#222" stroke-width="2.4"/><path d="M2030 918L2036 907L2062 903L2080 908L2085 918Z" fill="#f59a30"/><path d="M2055 918L2062 908L2095 904L2110 918Z" fill="#4a2a18" opacity=".8"/></g>
<rect x="1452.5" y="156.2" width="945" height="759.9000000000001" fill="none" stroke="#1a1718" stroke-width="5"/>
<rect x="1639.2" y="897.1" width="4.6" height="21.5" fill="#1a1718"/>
<rect x="1450" y="761.8" width="21.5" height="4.6" fill="#1a1718"/>
<rect x="1828.2" y="897.1" width="4.6" height="21.5" fill="#1a1718"/>
<rect x="1450" y="609.8" width="21.5" height="4.6" fill="#1a1718"/>
<rect x="2017.2" y="897.1" width="4.6" height="21.5" fill="#1a1718"/>
<rect x="1450" y="457.9" width="21.5" height="4.6" fill="#1a1718"/>
<rect x="2206.2" y="897.1" width="4.6" height="21.5" fill="#1a1718"/>
<rect x="1450" y="305.9" width="21.5" height="4.6" fill="#1a1718"/>
<text x="1489.7" transform="scale(0.975 1)" y="991.6" font-size="68" text-anchor="middle">0.0</text>
<text x="1467.7" transform="scale(0.975 1)" y="937.8" font-size="68" text-anchor="end">0.0</text>
<text x="1683.6" transform="scale(0.975 1)" y="991.6" font-size="68" text-anchor="middle">0.2</text>
<text x="1467.7" transform="scale(0.975 1)" y="785.8" font-size="68" text-anchor="end">0.2</text>
<text x="1877.4" transform="scale(0.975 1)" y="991.6" font-size="68" text-anchor="middle">0.4</text>
<text x="1467.7" transform="scale(0.975 1)" y="633.8" font-size="68" text-anchor="end">0.4</text>
<text x="2071.3" transform="scale(0.975 1)" y="991.6" font-size="68" text-anchor="middle">0.6</text>
<text x="1467.7" transform="scale(0.975 1)" y="481.9" font-size="68" text-anchor="end">0.6</text>
<text x="2265.1" transform="scale(0.975 1)" y="991.6" font-size="68" text-anchor="middle">0.8</text>
<text x="1467.7" transform="scale(0.975 1)" y="329.9" font-size="68" text-anchor="end">0.8</text>
<text x="2459.0" transform="scale(0.975 1)" y="991.6" font-size="68" text-anchor="middle">1.0</text>
<text x="1467.7" transform="scale(0.975 1)" y="177.9" font-size="68" text-anchor="end">1.0</text>
<text x="1489.7" transform="scale(0.975 1)" y="45.5" font-size="68" text-anchor="middle">0.00</text>
<text x="1812.8" transform="scale(0.975 1)" y="45.5" font-size="68" text-anchor="middle">0.01</text>
<text x="2135.9" transform="scale(0.975 1)" y="45.5" font-size="68" text-anchor="middle">0.02</text>
<text x="2459.0" transform="scale(0.975 1)" y="45.5" font-size="68" text-anchor="middle">0.03</text>
<text class="i" x="1425.6" transform="scale(0.975 1)" y="111.0" font-size="68" text-anchor="middle">θ</text>
<text class="i" x="1974.4" transform="scale(0.975 1)" y="1043.9" font-size="68" text-anchor="middle">x</text>
<text class="i" transform="translate(1311.0,536.1) rotate(-90)" font-size="68" text-anchor="middle">z</text>
<text x="1974.4" transform="scale(0.975 1)" y="1107.8" font-size="68" text-anchor="middle">(b1) <tspan class="i">θ</tspan></text>
<g filter="url(#cbb)">
<rect x="2722.20" y="69.8" width="38.40" height="46.5" fill="#44356f"/>
<rect x="2760.00" y="69.8" width="38.40" height="46.5" fill="#3f4088"/>
<rect x="2797.80" y="69.8" width="38.40" height="46.5" fill="#404a90"/>
<rect x="2835.60" y="69.8" width="38.40" height="46.5" fill="#424e93"/>
<rect x="2873.40" y="69.8" width="38.40" height="46.5" fill="#455496"/>
<rect x="2911.20" y="69.8" width="38.40" height="46.5" fill="#4a5e9f"/>
<rect x="2949.00" y="69.8" width="38.40" height="46.5" fill="#5580b8"/>
<rect x="2986.80" y="69.8" width="38.40" height="46.5" fill="#58a8d8"/>
<rect x="3024.60" y="69.8" width="38.40" height="46.5" fill="#62bcdc"/>
<rect x="3062.40" y="69.8" width="38.40" height="46.5" fill="#78c4cc"/>
<rect x="3100.20" y="69.8" width="38.40" height="46.5" fill="#78c4b0"/>
<rect x="3138.00" y="69.8" width="38.40" height="46.5" fill="#80c094"/>
<rect x="3175.80" y="69.8" width="38.40" height="46.5" fill="#88c080"/>
<rect x="3213.60" y="69.8" width="38.40" height="46.5" fill="#98c464"/>
<rect x="3251.40" y="69.8" width="38.40" height="46.5" fill="#b0d048"/>
<rect x="3289.20" y="69.8" width="38.40" height="46.5" fill="#d0dc38"/>
<rect x="3327.00" y="69.8" width="38.40" height="46.5" fill="#f4e834"/>
<rect x="3364.80" y="69.8" width="38.40" height="46.5" fill="#fcd034"/>
<rect x="3402.60" y="69.8" width="38.40" height="46.5" fill="#f8a434"/>
<rect x="3440.40" y="69.8" width="38.40" height="46.5" fill="#f08430"/>
<rect x="3478.20" y="69.8" width="38.40" height="46.5" fill="#ec6c30"/>
<rect x="3516.00" y="69.8" width="38.40" height="46.5" fill="#e85030"/>
<rect x="3553.80" y="69.8" width="38.40" height="46.5" fill="#e43c2c"/>
<rect x="3591.60" y="69.8" width="38.40" height="46.5" fill="#e4322e"/>
<rect x="3629.40" y="69.8" width="38.40" height="46.5" fill="#d03430"/>
</g>
<rect x="2722.5" y="69.8" width="945" height="46.5" fill="none" stroke="#1a1718" stroke-width="5"/>
<rect x="3035.2" y="67.3" width="4.6" height="21.5" fill="#1a1718"/>
<rect x="3350.2" y="67.3" width="4.6" height="21.5" fill="#1a1718"/>
<g clip-path="url(#cp02)"><rect x="2720" y="153.7" width="950" height="770" fill="#3c2e50"/><path d="M2733.8 155C2733.8 220 2733.5 292.5 2733.8 350C2734 407.5 2733.8 467.3 2735 500C2735.8 521.1 2740.2 525.4 2741.2 546.4C2742.3 571.8 2741.3 619.1 2741.7 652.2C2742 685.2 2742.5 722.7 2743.3 744.7C2743.9 762.6 2744.6 772 2746.4 784.4C2748.3 796.7 2750.8 808.2 2754.4 818.8C2757.9 829.3 2762.3 839.5 2767.6 847.8C2772.9 856.2 2779 862.8 2786.1 869C2793.1 875.2 2801.5 880.7 2809.9 884.8C2818.3 889 2828.4 891.8 2836.3 894.1C2844.3 896.4 2853.1 897.1 2857.5 898.6C2860.5 899.7 2862.1 900.2 2862.8 903.4C2863.6 907.5 2862.8 916.6 2862.8 923.2C3085.2 923.2 3307.6 923.2 3530 923.2C3530 916.6 3529.1 907.8 3530 903.4C3530.8 899.6 3532 898.6 3535.3 896.7C3539.7 894.3 3548.5 893 3556.5 888.8C3564.4 884.6 3574.1 878.9 3582.9 871.6C3591.7 864.4 3601.8 855.3 3609.3 845.2C3616.8 835.1 3622.6 823.2 3627.8 810.8C3633.1 798.5 3637.8 784.4 3641.1 771.2C3644.4 757.9 3646.3 749.5 3647.7 731.5C3649.2 711.7 3649.9 683 3650.3 652.2C3650.8 621.3 3650.3 571.8 3650.3 546.4C3650.3 525.5 3650.5 520.9 3650.5 500C3650.5 467.3 3650.6 407.5 3650.5 350C3650.4 292.5 3650.2 220 3650 155C3344.6 155 3039.2 155 2733.8 155Z" fill="#3f4a95" stroke="#2a1c3a" stroke-width="2.6" /><path d="M2745 155C2745.4 178.3 2746.2 200.8 2746.2 225C2746.2 249.2 2745 275 2745 300C2745 325 2745 352.1 2746.2 375C2747.5 397.9 2750.4 418.8 2752.5 437.5C2754.6 456.2 2757.1 471.1 2758.8 487.5C2760.4 503.9 2761.7 514.1 2762.3 535.9C2763 558.9 2762.4 597.6 2762.8 625.8C2763.3 654 2763.9 683 2764.9 705.1C2766 727.1 2767.1 743.4 2768.9 757.9C2770.7 772.5 2772.7 782.2 2775.5 792.3C2778.4 802.4 2781.7 810.8 2786.1 818.8C2790.5 826.7 2795.3 833.7 2802 839.9C2808.6 846.1 2816.5 851.6 2825.8 855.8C2835 860 2844.3 863 2857.5 865C2870.7 867 2889.2 867.2 2905.1 867.7C2920.9 868.1 2939.4 867.2 2952.7 867.7C2965.9 868.1 2976.7 869 2984.4 870.3C2991.2 871.5 2994.1 873.8 2998.9 875.6C2995.8 878.2 2994.7 881.5 2989.7 883.5C2983.7 885.9 2972.9 887.9 2963.2 890.1C2953.5 892.3 2941.2 894.5 2931.5 896.7C2921.8 898.9 2912.1 901.4 2905.1 903.4C2898 905.3 2893.2 905.3 2889.2 908.6C2885.2 911.9 2883.9 918.3 2881.3 923.2C3092.2 923.2 3303.2 923.2 3514.2 923.2C3508.9 919.2 3505.3 914.2 3498.3 911.3C3491.2 908.4 3481.6 908.2 3471.9 906C3462.2 903.8 3450.7 900.9 3440.1 898.1C3429.6 895.2 3416.8 891.7 3408.4 888.8C3400 885.9 3393.2 883.1 3389.9 880.9C3387.9 879.5 3389 877.4 3388.6 875.6C3395.2 875.2 3399.5 874.5 3408.4 874.3C3419.2 874.1 3437.1 875.2 3453.4 874.3C3469.7 873.4 3490.8 872.1 3506.2 869C3521.7 865.9 3534 861.5 3545.9 855.8C3557.8 850 3568.4 843 3577.6 834.6C3586.9 826.2 3594.8 816.1 3601.4 805.5C3608 795 3612.9 783.5 3617.3 771.2C3621.7 758.8 3625.2 746.9 3627.8 731.5C3630.5 716.1 3632 700.7 3633.1 678.6C3634.2 656.6 3634.2 623.1 3634.5 599.3C3634.7 575.5 3634.6 552.4 3634.5 535.9C3634.3 519.7 3633.9 514.3 3633.8 500C3633.6 485.7 3633.5 472.5 3633.8 450C3634 425 3634.7 383.3 3635.5 350C3636.3 316.7 3638.4 282.5 3638.8 250C3639.1 217.5 3637.9 186.7 3637.5 155C3340 155 3042.5 155 2745 155Z" fill="#48599c" stroke="#2a1c3a" stroke-width="2.6" /><path d="M2823.8 155C2823.3 158.8 2824.4 162.9 2822.5 166.2C2820.6 169.6 2817.1 171.9 2812.5 175C2807.9 178.1 2800.8 180.8 2795 185C2789.2 189.2 2782.5 194.2 2777.5 200C2772.5 205.8 2768.3 212.9 2765 220C2761.7 227.1 2759.4 234.2 2757.5 242.5C2755.6 250.8 2754.6 260.4 2753.8 270C2752.9 279.6 2752.3 290 2752.5 300C2752.7 310 2754 320 2755 330C2756 340 2756.9 350 2758.8 360C2760.6 370 2763.3 380.4 2766.2 390C2769.2 399.6 2772.5 408.8 2776.2 417.5C2780 426.2 2784 434.6 2788.8 442.5C2793.5 450.4 2799.4 458.3 2805 465C2810.6 471.7 2817.1 478.1 2822.5 482.5C2827.9 486.9 2832.5 489.4 2837.5 491.2C2842.5 493.1 2847.7 494 2852.5 493.8C2857.3 493.5 2862.5 492.3 2866.2 490C2870 487.7 2873.1 484.2 2875 480C2876.9 475.8 2877.9 470.8 2877.5 465C2877.1 459.2 2875 452.1 2872.5 445C2870 437.9 2866.2 430 2862.5 422.5C2858.8 415 2854.6 407.5 2850 400C2845.4 392.5 2839.8 384.6 2835 377.5C2830.2 370.4 2825 364.2 2821.2 357.5C2817.5 350.8 2814.6 344.2 2812.5 337.5C2810.4 330.8 2809.2 324.2 2808.8 317.5C2808.3 310.8 2808.5 303.8 2810 297.5C2811.5 291.2 2813.8 285.8 2817.5 280C2821.2 274.2 2826.2 267.9 2832.5 262.5C2838.8 257.1 2846.2 251.9 2855 247.5C2863.8 243.1 2874.2 239.4 2885 236.2C2895.8 233.1 2907.5 230.8 2920 228.8C2932.5 226.7 2945.4 224.8 2960 223.8C2974.6 222.7 2991.2 222.6 3007.5 222.5C3023.8 222.4 3042.1 222.4 3057.5 223C3072.9 223.6 3086.2 224.5 3100 226.2C3113.8 228 3127.5 230.5 3140 233.8C3152.5 237 3164.6 240.9 3175 245.5C3185.4 250.1 3194.4 255.3 3202.5 261.2C3210.6 267.2 3217.6 273.8 3223.8 281.2C3229.9 288.8 3235.6 297.5 3239.5 306.2C3243.4 315 3245.6 324.2 3247 333.8C3248.4 343.3 3248.4 353.8 3248 363.8C3247.6 373.8 3246.3 383.8 3244.5 393.8C3242.7 403.8 3240.3 413.5 3237 423.8C3233.7 434 3229 444.6 3224.5 455C3220 465.4 3215.7 474.3 3210 486.2C3204.3 498.2 3196 514.8 3190.3 526.9C3184.6 539 3180.4 548 3176 558.6C3171.6 569.2 3167.4 579.2 3164.1 590.4C3160.8 601.6 3158.9 614.1 3156.2 625.8C3153.6 637.4 3150.5 648.7 3148.3 660.1C3146.1 671.6 3144.3 683 3143 694.5C3141.7 705.9 3141.2 718.3 3140.4 728.9C3139.5 739.4 3138.8 748.3 3137.7 757.9C3136.6 767.6 3135.3 778.2 3133.8 787C3132.2 795.8 3130.9 803.3 3128.5 810.8C3126 818.3 3123.4 825.4 3119.2 832C3115 838.6 3109.5 845.2 3103.4 850.5C3097.2 855.8 3090.1 859.7 3082.2 863.7C3074.3 867.7 3065.5 871 3055.8 874.3C3046.1 877.6 3035.1 880.7 3024 883.5C3013 886.4 3001.6 888.8 2989.7 891.5C2977.8 894.1 2964.1 897 2952.7 899.4C2941.2 901.8 2929.7 904 2920.9 906C2912.1 908 2905.9 908.4 2899.8 911.3C2893.6 914.2 2889.2 919.2 2883.9 923.2C3085.2 923.2 3286.5 923.2 3487.7 923.2C3482.4 920.5 3479.6 917.4 3471.9 915.3C3463.9 913 3452 911.9 3440.1 910C3428.2 908 3413.7 905.8 3400.5 903.4C3387.3 900.9 3374 898.3 3360.8 895.4C3347.6 892.6 3333.9 889.7 3321.2 886.2C3308.4 882.6 3295.2 878.2 3284.1 874.3C3273.1 870.3 3263.9 866.8 3255.1 862.4C3246.3 858 3238.1 853.3 3231.3 847.8C3224.4 842.3 3218.6 835.9 3214.1 829.3C3209.6 822.7 3206.6 815.7 3204.3 808.2C3202 800.7 3201 792.8 3200.1 784.4C3199.2 776 3199 767.2 3199 757.9C3199 748.7 3199.3 739.4 3200.1 728.9C3200.8 718.3 3202.1 705.9 3203.5 694.5C3205 683 3206.6 671.6 3208.8 660.1C3211 648.7 3213.5 637.2 3216.7 625.8C3219.9 614.3 3223.7 603.3 3228.1 591.4C3232.5 579.5 3239.2 565.1 3243.2 554.4C3247.2 543.6 3248.2 536.8 3252.1 526.9C3256 517 3261.6 505.8 3266.4 495.2C3271.2 484.6 3276.2 474.1 3280.7 463.5C3285.2 452.9 3289.8 442.3 3293.4 431.7C3297 421.1 3299.8 411.1 3302.1 400C3304.4 388.9 3305.6 375.8 3307.5 365C3309.4 354.2 3312.3 345 3313.8 335C3315.2 325 3316.2 314.2 3316.2 305C3316.2 295.8 3315.2 287.5 3313.8 280C3312.3 272.5 3310.6 266.2 3307.5 260C3304.4 253.8 3300.4 248.3 3295 242.5C3289.6 236.7 3283.3 230.4 3275 225C3266.7 219.6 3255.8 214.4 3245 210C3234.2 205.6 3222.5 201.9 3210 198.8C3197.5 195.6 3185 192.9 3170 191.2C3155 189.6 3136.7 189.2 3120 188.8C3103.3 188.2 3082.5 188.1 3070 188.2C3058.7 188.4 3056.2 188.9 3045 189.5C3032.5 190.1 3009.6 191.2 2995 192C2980.4 192.8 2966.7 194 2957.5 194.5C2949.6 194.9 2943.8 195.4 2940 195C2937.2 194.7 2936.3 193 2934.5 192C2938 189.2 2939.9 186.4 2945 183.8C2950.1 181.1 2957.9 178.8 2965 176.2C2972.1 173.8 2981.2 171 2987.5 168.8C2993.8 166.5 2998.5 164.8 3002.5 162.5C3006.5 160.2 3008.3 157.5 3011.2 155C2948.8 155 2886.2 155 2823.8 155Z" fill="#5aabdc" stroke="#2a1c3a" stroke-width="2.6" /><path d="M3378.8 155C3384.2 158.8 3386.8 162.8 3395 166.2C3404 170 3420 174 3432.5 177.5C3445 181 3457.5 184.2 3470 187.5C3482.5 190.8 3495.8 194.5 3507.5 197.5C3519.2 200.5 3532.1 203.8 3540 205.5C3546.7 207 3551.2 208.3 3555 208C3558.8 207.7 3561.2 205.7 3562.5 203.8C3563.8 201.8 3563.5 199.5 3562.5 196.2C3561.5 192.9 3558.5 187.9 3556.2 183.8C3554 179.6 3550.8 176 3548.8 171.2C3546.7 166.5 3545.4 160.4 3543.8 155C3488.8 155 3433.8 155 3378.8 155Z" fill="#5aabdc" stroke="#2a1c3a" stroke-width="2.6" /><path d="M3169.5 726.2C3167.5 726.2 3165.9 737.2 3164.2 744.7C3162.4 752.2 3160.6 762.8 3158.9 771.2C3157.1 779.5 3155.6 787.5 3153.6 795C3151.6 802.4 3150.1 809.1 3147 816.1C3143.9 823.2 3140.1 831.1 3135.1 837.3C3130 843.4 3124.1 848.3 3116.6 853.1C3109.1 858 3099.8 862.4 3090.1 866.3C3080.4 870.3 3069.4 873.6 3058.4 876.9C3047.4 880.2 3036.4 883.1 3024 886.2C3011.7 889.3 2997.6 892.6 2984.4 895.4C2971.2 898.3 2955.7 900.9 2944.7 903.4C2933.7 905.8 2924.9 906.7 2918.3 910C2911.7 913.3 2909.5 918.8 2905.1 923.2C3087.8 923.2 3270.6 923.2 3453.4 923.2C3444.5 918.8 3435.7 913 3426.9 910C3418.1 906.9 3411.5 906.9 3400.5 904.7C3389.5 902.5 3374 899.6 3360.8 896.7C3347.6 893.9 3332.8 890.4 3321.2 887.5C3309.5 884.6 3301.3 882.4 3291 879.6C3280.7 876.7 3269.4 873.8 3259.3 870.3C3249.2 866.8 3238.6 862.6 3230.2 858.4C3221.8 854.2 3214.8 850 3209.1 845.2C3203.3 840.3 3199.2 834.6 3195.8 829.3C3192.5 824 3191 819.2 3189.2 813.5C3187.5 807.7 3186.6 802 3185.3 795C3183.9 787.9 3182.8 779.5 3181.3 771.2C3179.8 762.8 3178 752.2 3176 744.7C3174 737.2 3171.4 726.2 3169.5 726.2Z" fill="#6ec4c6" stroke="#1c3a3a" stroke-width="2.6" /><path d="M3166.8 843.1C3163.3 843.1 3160.6 847 3156.2 850.5C3151.8 853.9 3147 860 3140.4 863.7C3133.8 867.4 3125.8 870.1 3116.6 873C3107.3 875.8 3095.9 878.5 3084.8 880.9C3073.8 883.3 3062.8 885.1 3050.5 887.5C3038.1 889.9 3021.8 892.3 3010.8 895.4C2999.8 898.5 2989.7 901.4 2984.4 906C2979.1 910.6 2980.9 917.5 2979.1 923.2C3106.3 923.2 3233.6 923.2 3360.8 923.2C3347.6 913.8 3331 900.2 3321.2 894.9C3313.3 890.7 3310.1 892.9 3301.6 891.5C3293.1 890 3280.4 888.2 3269.9 886.2C3259.3 884.2 3247.8 881.8 3238.1 879.6C3228.5 877.4 3219.6 875.6 3211.7 873C3203.8 870.3 3196.3 867.4 3190.6 863.7C3184.8 860 3181.3 853.9 3177.3 850.5C3173.4 847 3170.3 843.1 3166.8 843.1Z" fill="#92c97c" stroke="#1c3a2a" stroke-width="2.6" /><path d="M2885 918L2950 907L3010 900L3066 897L3118 897L3122 918Z" fill="#2b382f" opacity=".9"/><path d="M2915 911H3045" stroke="#6fbfae" stroke-width="4.5" stroke-dasharray="16 9" fill="none" opacity=".85"/><path d="M3480 918L3440 909L3380 901L3320 897L3280 897L3270 918Z" fill="#2b382f" opacity=".9"/><path d="M3350 911H3470" stroke="#6fbfae" stroke-width="4.5" stroke-dasharray="16 9" fill="none" opacity=".8"/><path d="M3062 918L3068 906L3084 901L3114 901Q3121 903 3123 918Z" fill="#f2e636" stroke="#222" stroke-width="2.4"/><path d="M3052 918L3060 906L3078 903L3086 918Z" fill="#f59a30" stroke="#3a2a18" stroke-width="2"/><path d="M3266 918L3279 903L3330 903L3340 918Z" fill="#f2e636" stroke="#222" stroke-width="2.4"/><path d="M3318 918L3324 907L3350 904L3366 908L3370 918Z" fill="#f59a30"/><path d="M3340 918L3348 908L3380 904L3395 918Z" fill="#4a2a18" opacity=".8"/></g>
<rect x="2722.5" y="156.2" width="945" height="759.9000000000001" fill="none" stroke="#1a1718" stroke-width="5"/>
<rect x="2909.2" y="897.1" width="4.6" height="21.5" fill="#1a1718"/>
<rect x="2720" y="761.8" width="21.5" height="4.6" fill="#1a1718"/>
<rect x="3098.2" y="897.1" width="4.6" height="21.5" fill="#1a1718"/>
<rect x="2720" y="609.8" width="21.5" height="4.6" fill="#1a1718"/>
<rect x="3287.2" y="897.1" width="4.6" height="21.5" fill="#1a1718"/>
<rect x="2720" y="457.9" width="21.5" height="4.6" fill="#1a1718"/>
<rect x="3476.2" y="897.1" width="4.6" height="21.5" fill="#1a1718"/>
<rect x="2720" y="305.9" width="21.5" height="4.6" fill="#1a1718"/>
<text x="2792.3" transform="scale(0.975 1)" y="991.6" font-size="68" text-anchor="middle">0.0</text>
<text x="2770.3" transform="scale(0.975 1)" y="937.8" font-size="68" text-anchor="end">0.0</text>
<text x="2986.2" transform="scale(0.975 1)" y="991.6" font-size="68" text-anchor="middle">0.2</text>
<text x="2770.3" transform="scale(0.975 1)" y="785.8" font-size="68" text-anchor="end">0.2</text>
<text x="3180.0" transform="scale(0.975 1)" y="991.6" font-size="68" text-anchor="middle">0.4</text>
<text x="2770.3" transform="scale(0.975 1)" y="633.8" font-size="68" text-anchor="end">0.4</text>
<text x="3373.8" transform="scale(0.975 1)" y="991.6" font-size="68" text-anchor="middle">0.6</text>
<text x="2770.3" transform="scale(0.975 1)" y="481.9" font-size="68" text-anchor="end">0.6</text>
<text x="3567.7" transform="scale(0.975 1)" y="991.6" font-size="68" text-anchor="middle">0.8</text>
<text x="2770.3" transform="scale(0.975 1)" y="329.9" font-size="68" text-anchor="end">0.8</text>
<text x="3761.5" transform="scale(0.975 1)" y="991.6" font-size="68" text-anchor="middle">1.0</text>
<text x="2770.3" transform="scale(0.975 1)" y="177.9" font-size="68" text-anchor="end">1.0</text>
<text x="2792.3" transform="scale(0.975 1)" y="45.5" font-size="68" text-anchor="middle">0.00</text>
<text x="3115.4" transform="scale(0.975 1)" y="45.5" font-size="68" text-anchor="middle">0.01</text>
<text x="3438.5" transform="scale(0.975 1)" y="45.5" font-size="68" text-anchor="middle">0.02</text>
<text x="3761.5" transform="scale(0.975 1)" y="45.5" font-size="68" text-anchor="middle">0.03</text>
<text class="i" x="2728.2" transform="scale(0.975 1)" y="111.0" font-size="68" text-anchor="middle">θ</text>
<text class="i" x="3276.9" transform="scale(0.975 1)" y="1043.9" font-size="68" text-anchor="middle">x</text>
<text class="i" transform="translate(2581.0,536.1) rotate(-90)" font-size="68" text-anchor="middle">z</text>
<text x="3276.9" transform="scale(0.975 1)" y="1107.8" font-size="68" text-anchor="middle">(c1) <tspan class="i">θ</tspan></text>
<g filter="url(#cbb)">
<rect x="182.20" y="1212.2" width="38.40" height="46.8" fill="#44356f"/>
<rect x="220.00" y="1212.2" width="38.40" height="46.8" fill="#3f4088"/>
<rect x="257.80" y="1212.2" width="38.40" height="46.8" fill="#404a90"/>
<rect x="295.60" y="1212.2" width="38.40" height="46.8" fill="#424e93"/>
<rect x="333.40" y="1212.2" width="38.40" height="46.8" fill="#455496"/>
<rect x="371.20" y="1212.2" width="38.40" height="46.8" fill="#4a5e9f"/>
<rect x="409.00" y="1212.2" width="38.40" height="46.8" fill="#5580b8"/>
<rect x="446.80" y="1212.2" width="38.40" height="46.8" fill="#58a8d8"/>
<rect x="484.60" y="1212.2" width="38.40" height="46.8" fill="#62bcdc"/>
<rect x="522.40" y="1212.2" width="38.40" height="46.8" fill="#78c4cc"/>
<rect x="560.20" y="1212.2" width="38.40" height="46.8" fill="#78c4b0"/>
<rect x="598.00" y="1212.2" width="38.40" height="46.8" fill="#80c094"/>
<rect x="635.80" y="1212.2" width="38.40" height="46.8" fill="#88c080"/>
<rect x="673.60" y="1212.2" width="38.40" height="46.8" fill="#98c464"/>
<rect x="711.40" y="1212.2" width="38.40" height="46.8" fill="#b0d048"/>
<rect x="749.20" y="1212.2" width="38.40" height="46.8" fill="#d0dc38"/>
<rect x="787.00" y="1212.2" width="38.40" height="46.8" fill="#f4e834"/>
<rect x="824.80" y="1212.2" width="38.40" height="46.8" fill="#fcd034"/>
<rect x="862.60" y="1212.2" width="38.40" height="46.8" fill="#f8a434"/>
<rect x="900.40" y="1212.2" width="38.40" height="46.8" fill="#f08430"/>
<rect x="938.20" y="1212.2" width="38.40" height="46.8" fill="#ec6c30"/>
<rect x="976.00" y="1212.2" width="38.40" height="46.8" fill="#e85030"/>
<rect x="1013.80" y="1212.2" width="38.40" height="46.8" fill="#e43c2c"/>
<rect x="1051.60" y="1212.2" width="38.40" height="46.8" fill="#e4322e"/>
<rect x="1089.40" y="1212.2" width="38.40" height="46.8" fill="#d03430"/>
</g>
<rect x="182.5" y="1212.2" width="945" height="46.799999999999955" fill="none" stroke="#1a1718" stroke-width="5"/>
<rect x="416.4" y="1209.7" width="4.6" height="21.5" fill="#1a1718"/>
<rect x="652.7" y="1209.7" width="4.6" height="21.5" fill="#1a1718"/>
<rect x="889.0" y="1209.7" width="4.6" height="21.5" fill="#1a1718"/>
<g clip-path="url(#cp10)"><rect x="180" y="1300.2" width="950" height="775" fill="#3f377b"/><path d="M180 1456.6C185.3 1454.2 191.9 1450.7 195.9 1449.2C199.3 1448 201.5 1446.7 203.8 1447.9C206.1 1449.1 207 1453 209.6 1456.6C212.3 1460.3 215.3 1466.8 219.7 1469.8C224 1472.9 230.5 1473.7 235.5 1475.1C240.6 1476.5 246.5 1476.1 250.1 1478.3C253.6 1480.5 255.1 1483.2 256.7 1488.4C258.2 1493.6 258 1501.6 259.3 1509.5C260.6 1517.4 262.4 1527.1 264.6 1535.9C266.8 1544.8 269.7 1553.6 272.5 1562.4C275.4 1571.2 278.7 1580 281.8 1588.8C284.9 1597.6 288.2 1606.4 291 1615.3C293.9 1624.1 296.4 1630.4 299 1641.7C301.5 1653 304.6 1671.9 306.4 1683.2C308.1 1694.5 308.4 1698.6 309.5 1709.7C310.7 1720.7 312.4 1736.1 313.5 1749.3C314.6 1762.5 315.3 1775.8 316.2 1789C317 1802.2 317.5 1815.4 318.8 1828.6C320.1 1841.8 321.7 1855.9 324.1 1868.3C326.5 1880.6 329.2 1892.5 333.3 1902.7C337.5 1912.8 342.6 1921.8 349.2 1929.1C355.8 1936.4 363.7 1941.9 373 1946.3C382.3 1950.7 392.8 1953.6 404.7 1955.5C416.6 1957.5 431.2 1958 444.4 1958.2C457.6 1958.4 471.7 1958 484 1956.9C496.4 1955.8 508.3 1954.4 518.4 1951.6C528.5 1948.7 537.8 1944.7 544.8 1939.7C551.9 1934.6 556.5 1928.2 560.7 1921.2C564.9 1914.1 567.8 1906.2 570 1897.4C572.2 1888.6 573 1879.7 573.9 1868.3C574.8 1856.8 575.5 1841.8 575.3 1828.6C575 1815.4 573.9 1802.2 572.6 1789C571.3 1775.8 569.3 1762.5 567.3 1749.3C565.3 1736.1 562.7 1721.6 560.7 1709.7C558.7 1697.8 556.7 1684.9 555.4 1677.9C554.6 1673.4 553.4 1672.7 552.8 1668.1C551.7 1659.9 549.9 1641.7 548.8 1628.5C547.7 1615.3 546.6 1601.6 546.2 1588.8C545.7 1576 545.5 1564.1 546.2 1551.8C546.8 1539.5 548.2 1527.1 550.1 1514.8C552.1 1502.5 554.8 1489.2 558.1 1477.8C561.4 1466.3 564.6 1459 570 1446.1C575.3 1433.1 585 1409.9 590 1400C593.4 1393.3 595 1392.2 600 1386.7C605.4 1380.8 613.7 1372.1 622.3 1364.4C630.9 1356.7 642 1347.4 651.6 1340.3C661.2 1333.2 668.6 1326.9 680 1322C691.4 1317.1 705 1314 720 1311C735 1308 754.2 1306.5 770 1304C785.8 1301.5 800 1298.7 815 1296C861.1 1296.2 907.2 1296.3 953.3 1296.5C955.9 1303.7 954.6 1313.5 961.1 1318.1C967.5 1322.7 981.7 1321.5 992 1324.3C1002.3 1327.1 1013.2 1330.7 1023 1335.1C1032.8 1339.5 1042.3 1344.9 1050.8 1350.6C1059.3 1356.3 1067 1363 1074 1369.2C1081 1375.3 1086.9 1381.5 1092.6 1387.7C1098.2 1393.9 1103.4 1400.1 1108 1406.3C1112.7 1412.5 1116 1419.7 1120.4 1424.8C1124.8 1430 1129.7 1433.1 1134.3 1437.2C1134.7 1628.5 1135.1 1819.8 1135.4 2011.1C1128.8 2011.1 1120 2008.9 1115.6 2011.1C1111.2 2013.3 1112.7 2019.9 1109 2024.3C1105.3 2028.7 1099.3 2033.5 1093.1 2037.5C1087 2041.5 1079.9 2045.2 1072 2048.1C1064.1 2050.9 1054.4 2052.9 1045.5 2054.7C1036.7 2056.4 1025.7 2055.3 1019.1 2058.6C1012.5 2061.9 1010.3 2069.2 1005.9 2074.5C957.4 2074.5 908.9 2074.5 860.5 2074.5C851.7 2066.6 845.1 2056 834 2050.7C823 2045.4 805.4 2045.2 794.4 2042.8C783.4 2040.4 776.8 2039.3 767.9 2036.2C759.1 2033.1 750.3 2028.9 741.5 2024.3C732.7 2019.6 723 2013.5 715.1 2008.4C707.1 2003.3 700.5 1997.4 693.9 1993.9C687.3 1990.3 681.6 1988.1 675.4 1987.3C669.2 1986.4 663.5 1987.3 656.9 1988.6C650.3 1989.9 643.7 1991.9 635.8 1995.2C627.8 1998.5 618.1 2004 609.3 2008.4C600.5 2012.8 591.7 2017.7 582.9 2021.6C574.1 2025.6 566.3 2027.8 556.4 2032.2C546.6 2036.6 532.7 2043.7 523.7 2048.1C514.7 2052.5 507.8 2054.2 502.5 2058.6C497.3 2063 495.5 2069.2 492 2074.5C447.9 2074.5 403.8 2074.5 359.8 2074.5C352.7 2068.5 350.5 2060.3 338.6 2056.5C326.3 2052.6 301.2 2053.4 285.8 2050.7C270.3 2048 257.1 2045 246.1 2040.1C235.1 2035.3 225.8 2029.1 219.7 2021.6C213.5 2014.1 212.6 2004.4 209.1 1995.2C205.6 1985.9 201.6 1976.2 198.5 1966.1C195.4 1956 193.7 1942.3 190.6 1934.4C187.5 1926.5 183.5 1923.8 180 1918.5C180 1764.6 180 1610.6 180 1456.6Z" fill="#4459a0" stroke="#2a1c3a" stroke-width="2.6" /><path d="M284.4 1409C284.4 1412.8 289.1 1417.9 293.7 1418.3C298.3 1418.7 304.7 1415 312.2 1411.7C319.7 1408.4 328.9 1402.9 338.6 1398.5C348.3 1394.1 358.9 1389 370.4 1385.2C381.8 1381.5 394.1 1378.4 407.4 1376C420.6 1373.6 434.7 1371.8 449.7 1370.7C464.7 1369.6 481.4 1369.7 497.3 1369.4C513.1 1369.1 530.7 1369.7 544.8 1368.9C558.9 1368 570 1366.7 581.9 1364.1C593.8 1361.5 606.1 1357.9 616.2 1353.5C626.4 1349.1 636.3 1342.7 642.7 1337.7C649.1 1332.6 653.2 1327.1 654.6 1323.1C655.9 1319.2 654.7 1315.9 650.6 1313.9C646.4 1311.8 639.1 1310.9 629.5 1310.7C619.8 1310.5 605.7 1311.6 592.4 1312.5C579.2 1313.5 566 1314.7 550.1 1316.5C534.3 1318.3 514.9 1320.5 497.3 1323.1C479.6 1325.8 461.1 1328.6 444.4 1332.4C427.6 1336.1 411.8 1340.7 396.8 1345.6C381.8 1350.4 367.7 1355.7 354.5 1361.5C341.3 1367.2 327.6 1374.2 317.5 1380C307.3 1385.7 299.2 1391 293.7 1395.8C288.2 1400.6 284.4 1405.3 284.4 1409Z" fill="#4459a0" stroke="#2a1c3a" stroke-width="2.6" /><path d="M469.5 1341.6C470.4 1343.4 477.1 1346.4 484 1346.9C493.1 1347.6 510.5 1346.7 523.7 1345.6C536.9 1344.5 551 1342.5 563.4 1340.3C575.7 1338.1 588.9 1335 597.7 1332.4C606.4 1329.8 613.6 1326.6 616.2 1324.4C618.3 1322.7 616.2 1319.7 613.6 1319.2C609.6 1318.3 601.9 1318.4 592.4 1319.2C581.9 1320 563.8 1322.7 550.1 1324.4C536.5 1326.2 522.4 1327.7 510.5 1329.7C498.6 1331.7 485.6 1334.4 478.8 1336.3C474.1 1337.7 468.6 1339.9 469.5 1341.6Z" fill="#5b9bd8" stroke="#2a1c3a" stroke-width="2.6" /><path d="M180 1522.8C185.3 1521 191.6 1518.9 195.9 1517.4C200.1 1516 202.2 1511.9 205.4 1514.3C208.6 1516.7 211.6 1523.4 214.9 1531.7C219.1 1542.6 224.9 1562.4 230.8 1579.3C236.6 1596.2 243.7 1614.7 249.8 1633.2C255.9 1651.8 260.4 1675.4 267.2 1690.4C274.1 1705.3 286.6 1708.6 291 1722.9C295.4 1737.1 292.8 1758.1 293.7 1775.8C294.6 1793.4 295.2 1811 296.3 1828.6C297.4 1846.3 298.5 1866.1 300.3 1881.5C302.1 1896.9 304 1909.7 306.9 1921.2C309.8 1932.6 312.2 1942.5 317.5 1950.2C322.8 1958 329.8 1963.2 338.6 1967.4C347.4 1971.6 357.1 1973.4 370.4 1975.4C383.6 1977.3 401.2 1978.7 417.9 1979.3C434.7 1980 453.2 1980.2 470.8 1979.3C488.4 1978.4 508.3 1976.2 523.7 1974C539.1 1971.8 552.8 1970.1 563.4 1966.1C573.9 1962.1 581.4 1956.4 587.1 1950.2C592.9 1944.1 595.3 1938.3 597.7 1929.1C600.1 1919.8 601.2 1907.1 601.7 1894.7C602.1 1882.4 601.5 1870.5 600.4 1855.1C599.3 1839.6 597.3 1819.8 595.1 1802.2C592.9 1784.6 590.2 1766.9 587.1 1749.3C584.1 1731.7 579.7 1712.2 576.6 1696.4C573.5 1680.7 570.6 1668.4 568.6 1654.9C566.7 1641.4 565.6 1628 564.7 1615.3C563.8 1602.5 563.4 1590.6 563.4 1578.2C563.4 1565.9 563.6 1553.6 564.7 1541.2C565.8 1528.9 567.5 1516.1 570 1504.2C572.4 1492.3 576.1 1479.5 579.2 1469.8C582.3 1460.2 584.8 1456.5 588.5 1446.1C592.1 1435.6 597.1 1416 601 1407C604.3 1399.3 606.8 1397.8 612 1392C617.2 1386.2 624 1379 632 1372C640 1365 650.7 1356.2 660 1350C669.3 1343.8 677.2 1339.7 688 1335C698.8 1330.3 711 1325.8 725 1322C739 1318.2 754.5 1314.4 772 1312C789.5 1309.6 808.7 1308.5 830 1307.5C851.3 1306.5 883.3 1306 900 1306C913.6 1306 920 1304.8 930.1 1307.6C940.3 1310.4 950.8 1319.2 961.1 1322.7C971.4 1326.3 981.7 1326.1 992 1328.9C1002.3 1331.8 1011.4 1333.8 1023 1339.8C1034.6 1345.7 1050.8 1356.3 1061.6 1364.5C1072.5 1372.8 1079.2 1380 1087.9 1389.3C1096.7 1398.5 1106.5 1412.7 1114.2 1420.2C1121.9 1427.7 1127.6 1429.5 1134.3 1434.1C1134.7 1619.8 1135.1 1805.5 1135.4 1991.2C1128.8 1991.2 1120.5 1988.4 1115.6 1991.2C1110.8 1994.1 1110.5 2003.1 1106.4 2008.4C1102.2 2013.7 1096.7 2018.3 1090.5 2023C1084.3 2027.6 1076.8 2032.5 1069.3 2036.2C1061.8 2039.8 1053.9 2042.7 1045.5 2044.9C1037.2 2047.1 1030.1 2048.3 1019.1 2049.4C1008.1 2050.4 994.9 2051.2 979.5 2051.2C964 2051.3 944.2 2050.6 926.6 2049.7C908.9 2048.7 889.1 2047 873.7 2045.4C858.3 2043.8 847.3 2042.3 834 2040.1C820.8 2037.9 805.4 2035.1 794.4 2032.2C783.4 2029.3 776.8 2026.9 767.9 2023C759.1 2019 749.4 2013.5 741.5 2008.4C733.6 2003.3 727.4 1997.4 720.4 1992.5C713.3 1987.7 706.3 1982.6 699.2 1979.3C692.2 1976 685.1 1973.8 678.1 1972.7C671 1971.6 664 1971.6 656.9 1972.7C649.9 1973.8 643.7 1975.9 635.8 1979.3C627.8 1982.7 618.1 1988.4 609.3 1993.1C600.5 1997.7 591.7 2002.9 582.9 2007.1C574.1 2011.3 565.4 2014.2 556.4 2018.5C547.5 2022.7 538.8 2028.2 529 2032.7C519.1 2037.2 507 2041.5 497.3 2045.4C487.6 2049.3 479.6 2051.2 470.8 2056C462 2060.8 453.2 2068.3 444.4 2074.5C422.4 2074.5 400.3 2074.5 378.3 2074.5C369.5 2067 362 2056.4 351.8 2052C341.7 2047.6 328.5 2049.8 317.5 2048.1C306.5 2046.3 296.3 2044.5 285.8 2041.5C275.2 2038.4 263.3 2034.6 254 2029.6C244.8 2024.5 236.4 2018.1 230.2 2011.1C224.1 2004 221 1996.5 217 1987.3C213 1978 210 1966.1 206.4 1955.5C202.9 1945 200.3 1931.7 195.9 1923.8C191.5 1915.9 185.3 1913.2 180 1907.9C180 1779.6 180 1651.2 180 1522.8Z" fill="#5b9bd8" stroke="#2a1c3a" stroke-width="2.6" /><path d="M738.9 1828.6C736 1815.4 732.7 1802.2 728.3 1789C723.9 1775.8 717.7 1762.5 712.4 1749.3C707.1 1736.1 700.9 1721 696.6 1709.7C692.2 1698.3 689.3 1692.7 686.3 1681.4C683.3 1670 679.9 1654.9 678.4 1641.7C676.8 1628.5 676.4 1616.8 677 1602C677.7 1587.3 680.9 1567.2 682.5 1553.4C684.1 1539.6 684.8 1530.5 686.8 1519C688.8 1507.6 691.2 1495.3 694.5 1484.7C697.8 1474.1 701.8 1464.3 706.5 1455.5C711.3 1446.6 717 1438.3 722.9 1431.4C728.7 1424.5 735 1418.9 741.8 1414.2C748.5 1409.5 755.4 1405.6 763.3 1403C771.1 1400.5 780.6 1399.7 789 1398.7C797.5 1397.7 804.8 1396.8 814.1 1397C823.5 1397.2 834.8 1398.3 845.1 1400.1C855.4 1401.9 865.7 1404.5 876 1407.8C886.3 1411.2 897.9 1415.8 906.9 1420.2C916 1424.6 922.9 1429.2 930.1 1434.1C937.4 1439 944.1 1444.2 950.3 1449.6C956.4 1455 960.7 1460.5 967.3 1466.6C973.8 1472.7 986.1 1477.1 989.7 1486.3C993.3 1495.6 989 1511 989.1 1522.3C989.2 1533.6 989.3 1544.1 990.3 1554C991.4 1563.9 992.9 1573 995.4 1581.5C997.9 1590 1001 1597 1005.6 1604.8C1010.1 1612.5 1016.8 1620.6 1022.5 1628C1028.1 1635.4 1034.3 1642.1 1039.4 1649.2C1044.5 1656.2 1049.6 1663.3 1053.1 1670.3C1056.7 1677.4 1058.7 1681.5 1060.5 1691.5C1062.5 1702 1063.8 1717.9 1064.8 1733.8C1065.7 1749.6 1066.8 1770.8 1066.5 1786.6C1066.1 1802.4 1063.1 1812.8 1062.7 1828.6C1062.3 1844.4 1063.8 1863.9 1064.1 1881.5C1064.3 1899.1 1064.5 1919.4 1064.1 1934.4C1063.6 1949.4 1063.2 1961.7 1061.4 1971.4C1059.6 1981.1 1058.3 1987 1053.5 1992.5C1048.6 1998.1 1041.1 2002.2 1032.3 2004.4C1023.5 2006.6 1013.8 2006.6 1000.6 2005.8C987.4 2004.9 969.8 2002 953 1999.2C936.3 1996.3 917.8 1992.1 900.1 1988.6C882.5 1985.1 863.6 1981.8 847.3 1978C831 1974.3 814.2 1970.7 802.3 1966.1C790.4 1961.5 782.9 1956.4 775.9 1950.2C768.8 1944.1 764.2 1937 760 1929.1C755.8 1921.2 753.2 1912.8 750.8 1902.7C748.3 1892.5 747.5 1880.6 745.5 1868.3C743.5 1855.9 741.7 1841.8 738.9 1828.6Z" fill="#4459a0" stroke="#2a1c3a" stroke-width="2.6" /><path d="M792.5 1480.5C792.2 1475.9 793.5 1466.1 795.6 1460.4C797.6 1454.7 800.5 1450.1 804.9 1446.5C809.2 1442.9 814.9 1440.6 821.9 1438.8C828.8 1437 837.6 1435.9 846.6 1435.7C855.6 1435.4 866.7 1435.9 876 1437.2C885.3 1438.5 893.8 1440.8 902.3 1443.4C910.8 1446 919.8 1449.1 927.1 1452.7C934.3 1456.3 940.2 1460.7 945.6 1465.1C951 1469.4 955.7 1473.8 959.5 1479C963.4 1484.1 966.6 1490.1 968.8 1496C971 1501.9 972.5 1511.9 972.7 1514.6C972.8 1516.1 970.5 1510.6 970.2 1512.1C969.6 1515.7 970.2 1528 968.9 1535.9C967.6 1543.9 965.3 1552.7 962.3 1559.7C959.2 1566.8 955 1573.4 950.4 1578.2C945.7 1583.1 939.8 1587.3 934.5 1588.8C929.2 1590.4 924.4 1589.7 918.6 1587.5C912.9 1585.3 906.3 1580.7 900.1 1575.6C894 1570.5 887.8 1563.7 881.6 1557.1C875.5 1550.5 869.3 1542.6 863.1 1535.9C857 1529.3 850.8 1522.3 844.6 1517.4C838.4 1512.6 832.3 1509.9 826.1 1506.9C819.9 1503.8 812.4 1502 807.6 1498.9C802.8 1495.8 799.5 1491.4 797 1488.4C794.5 1485.3 792.7 1484.6 792.5 1480.5Z" fill="#3f377b" stroke="#2a1c3a" stroke-width="2.6" /><path d="M709.8 1668.1C708 1658.6 706.7 1650.5 705.8 1641.7C704.9 1632.9 703.4 1622.7 704.5 1615.3C705.6 1607.8 708.5 1602.9 712.4 1596.8C716.4 1590.6 723 1584.4 728.3 1578.2C733.6 1572.1 739.3 1565.5 744.1 1559.7C749 1554 753 1547.4 757.4 1543.9C761.8 1540.4 766.2 1538.1 770.6 1538.6C775 1539 779.8 1542.6 783.8 1546.5C787.8 1550.5 790.4 1556.7 794.4 1562.4C798.3 1568.1 802.8 1574.7 807.6 1580.9C812.4 1587.1 817.7 1594.1 823.5 1599.4C829.2 1604.7 835.4 1609.3 842 1612.6C848.6 1615.9 855.6 1618.1 863.1 1619.2C870.6 1620.3 879 1619.4 886.9 1619.2C894.8 1619 902.8 1617 910.7 1617.9C918.6 1618.8 929.6 1623.5 934.5 1624.5C936.9 1625 937.7 1622.8 940 1623.8C944.4 1625.8 954.1 1631.5 961.1 1636.5C968.2 1641.4 975.2 1647.1 982.3 1653.4C989.3 1659.7 997.1 1667.1 1003.4 1674.5C1009.8 1681.9 1015.8 1689.7 1020.4 1697.8C1024.9 1705.9 1028.1 1713.7 1030.9 1723.2C1033.7 1732.7 1035.7 1742.6 1037.3 1754.9C1038.9 1767.2 1039.3 1784.9 1040.4 1797.2C1041.6 1809.5 1043.4 1816.8 1044.2 1828.6C1045.1 1840.5 1045.3 1855.1 1045.5 1868.3C1045.8 1881.5 1045.8 1895.6 1045.5 1907.9C1045.3 1920.3 1045.1 1932.2 1044.2 1942.3C1043.3 1952.4 1042.7 1961.7 1040.3 1968.8C1037.8 1975.8 1034.5 1980.9 1029.7 1984.6C1024.8 1988.4 1018.7 1990.3 1011.2 1991.2C1003.7 1992.1 994.4 1991 984.7 1989.9C975 1988.8 964.9 1987 953 1984.6C941.1 1982.2 926.6 1978.4 913.4 1975.4C900.1 1972.3 886.5 1969.2 873.7 1966.1C860.9 1963 847.3 1960.4 836.7 1956.9C826.1 1953.3 817.7 1950 810.2 1945C802.8 1939.9 796.6 1933.5 791.7 1926.5C786.9 1919.4 783.8 1911 781.2 1902.7C778.5 1894.3 777.6 1885.9 775.9 1876.2C774.1 1866.5 772.8 1855.1 770.6 1844.5C768.4 1833.9 765.7 1823.3 762.7 1812.8C759.6 1802.2 756 1791.6 752.1 1781C748.1 1770.5 743.3 1759 738.9 1749.3C734.5 1739.6 729.4 1731.2 725.6 1722.9C721.9 1714.5 719 1708.2 716.4 1699.1C713.7 1690 711.5 1677.7 709.8 1668.1Z" fill="#3f377b" stroke="#2a1c3a" stroke-width="2.6" /><path d="M180 1584.1C185.3 1582.5 191.4 1580.6 195.9 1579.3C200.4 1578 203.5 1573.5 207 1576.1C210.4 1578.8 212.8 1586.3 216.5 1595.2C220.5 1604.7 225.7 1619.5 230.8 1633.2C235.8 1647 241.3 1661.8 246.6 1677.7C251.9 1693.5 257.5 1711.5 262.5 1728.4C267.5 1745.3 272.8 1762.3 276.8 1779.2C280.7 1796.1 284.2 1813 286.3 1829.9C288.4 1846.9 289.5 1872.1 289.5 1880.7C289.4 1882.4 285.7 1879.8 285.8 1881.5C285.8 1888.2 288 1908.8 289.7 1921.2C291.5 1933.5 293.5 1945.8 296.3 1955.5C299.2 1965.2 302.5 1973.4 306.9 1979.3C311.3 1985.3 314.1 1989.1 322.8 1991.2C332.5 1993.6 349.2 1993.4 365.1 1993.9C380.9 1994.3 400.3 1994 417.9 1993.9C435.6 1993.7 453.2 1993.4 470.8 1993.1C488.4 1992.8 508.7 1991.9 523.7 1992C538.7 1992.1 551.9 1992.5 560.7 1993.9C568.3 1995.1 573.5 1997.6 576.6 2000.5C579.7 2003.3 580.5 2007.5 579.2 2011.1C577.9 2014.6 574.4 2018.1 568.6 2021.6C562.9 2025.2 554.5 2029.1 544.8 2032.2C535.2 2035.3 522.8 2037.7 510.5 2040.1C498.1 2042.6 481.8 2045 470.8 2046.7C459.8 2048.5 455.4 2049.8 444.4 2050.7C433.4 2051.6 418.8 2052.5 404.7 2052C390.6 2051.6 373.4 2050 359.8 2048.1C346.1 2046.1 334.2 2043.2 322.8 2040.1C311.3 2037.1 300.7 2033.5 291 2029.6C281.3 2025.6 272.5 2021.6 264.6 2016.3C256.7 2011.1 249.6 2004.4 243.5 1997.8C237.3 1991.2 232.4 1985.1 227.6 1976.7C222.7 1968.3 218.8 1958.2 214.4 1947.6C210 1937 206.9 1921.6 201.2 1913.2C195.4 1904.9 187.1 1902.7 180 1897.4C180 1792.9 180 1688.5 180 1584.1Z" fill="#6ecdd2" stroke="#2a1c3a" stroke-width="2.6" /><path d="M674.4 1958.2C667.8 1958.4 661.6 1957.7 655.9 1955.5C650.2 1953.3 644.4 1950.7 640 1945C635.6 1939.2 632.1 1931.7 629.5 1921.2C626.8 1910.6 626.4 1896.9 624.2 1881.5C622 1866.1 619.8 1846.3 616.2 1828.6C612.7 1811 607 1793.4 603 1775.8C599 1758.1 596.4 1740.8 592.4 1722.9C588.5 1704.9 582.1 1683.9 579.2 1668.1C576.4 1652.4 576.1 1641.7 575.3 1628.5C574.4 1615.3 573.9 1601.6 573.9 1588.8C573.9 1576 574.2 1563.7 575.3 1551.8C576.4 1539.9 578.1 1528.9 580.5 1517.4C583 1506 586.5 1493.2 589.8 1483.1C593.1 1472.9 596.7 1468.5 600.4 1456.6C604.1 1444.8 608.4 1421.6 612 1412C614.6 1405.1 617.3 1404.3 622 1399C626.7 1393.7 632.5 1386.7 640 1380C647.5 1373.3 658 1364.8 667 1359C676 1353.2 683.7 1349.7 694 1345C704.3 1340.3 715.5 1335.2 729 1331C742.5 1326.8 758.2 1322.8 775 1320C791.8 1317.2 809.2 1315.3 830 1314C850.8 1312.7 885.9 1312.3 900 1312C906.6 1311.9 908.3 1310.5 914.7 1312.2C924.9 1315.1 943 1322.8 961.1 1328.9C979.1 1335.1 1006.7 1341.8 1023 1349C1039.2 1356.3 1048.2 1364.3 1058.5 1372.2C1068.8 1380.2 1075.8 1387.7 1084.8 1397C1093.8 1406.3 1104.4 1420.7 1112.7 1427.9C1120.9 1435.1 1127.1 1436.2 1134.3 1440.3C1134.7 1609.4 1135.1 1778.5 1135.4 1947.6C1128.8 1947.6 1120 1944.5 1115.6 1947.6C1111.2 1950.7 1112.3 1960.6 1109 1966.1C1105.7 1971.6 1099.7 1978 1095.8 1980.6C1091.8 1983.3 1088.1 1985.3 1085.2 1982C1082.3 1978.7 1079.7 1970.7 1078.6 1960.8C1077.2 1948.5 1077.2 1930 1076.7 1907.9C1076.3 1885.9 1075.8 1848.9 1075.9 1828.6C1076.1 1809.7 1077.4 1802.4 1077.4 1786.6C1077.5 1770.8 1077.1 1749.6 1076.4 1733.8C1075.7 1717.9 1074.8 1702 1073.2 1691.5C1071.7 1681.6 1070 1677.4 1066.9 1670.3C1063.7 1663.3 1059.1 1656.6 1054.2 1649.2C1049.3 1641.8 1042.7 1633.7 1037.3 1625.9C1031.8 1618.2 1025.8 1610.4 1021.4 1602.6C1017 1594.9 1013.5 1587.5 1010.8 1579.4C1008.2 1571.3 1006.8 1563.5 1005.6 1554C1004.3 1544.5 1003.8 1533.6 1003.4 1522.3C1003.1 1511 1005.9 1495.9 1003.4 1486.3C1001 1476.8 994.7 1472 988.9 1465.1C983.2 1458.2 977.3 1451.4 968.8 1444.9C960.3 1438.5 949.5 1432.3 937.9 1426.4C926.3 1420.5 913.4 1414.3 899.2 1409.4C885 1404.5 868.3 1400.1 852.8 1397C837.3 1393.9 818.5 1391.9 806.4 1390.8C794.8 1389.7 789.4 1389 780.4 1390.1C771.5 1391.3 761.3 1394.4 752.9 1397.9C744.6 1401.3 737.5 1405.5 730.6 1410.8C723.7 1416.1 717.7 1422.2 711.7 1429.7C705.7 1437.1 699.4 1446.3 694.5 1455.5C689.6 1464.6 685.8 1474.1 682.5 1484.7C679.2 1495.3 676.8 1507.6 674.8 1519C672.8 1530.5 671.5 1542.5 670.5 1553.4C669.5 1564.3 669.6 1571.8 668.7 1584.3C667.9 1596.9 665.1 1615.9 665.1 1628.5C665.2 1641.1 667.2 1649.4 669 1660C670.8 1670.6 673.2 1681.5 676 1692C678.8 1702.5 681.8 1709 686 1723C690.2 1737 696.3 1758.4 701 1776C705.7 1793.6 710.2 1811 714 1828.6C717.8 1846.2 722.2 1866.1 724 1881.5C725.8 1896.9 726.3 1911 724.6 1921.2C723 1931.3 718.9 1936.8 714.1 1942.3C709.2 1947.8 702.2 1951.6 695.5 1954.2C688.9 1956.9 681 1958 674.4 1958.2Z" fill="#6ecdd2" stroke="#2a1c3a" stroke-width="2.6" /><path d="M799.7 2011.1C801.2 2009.3 804.9 2006.2 810.2 2005.8C818.2 2005.1 832.3 2006 847.3 2007.1C862.2 2008.2 882.5 2010.4 900.1 2012.4C917.8 2014.4 937.6 2016.8 953 2019C968.4 2021.2 983.2 2023.4 992.7 2025.6C1000.7 2027.5 1007.2 2029.8 1009.9 2032.2C1012.5 2034.6 1011.6 2038.3 1008.5 2040.1C1005.2 2042.1 998.5 2043.7 990 2044.1C980.8 2044.5 968 2043.7 953 2042.8C938 2041.9 917.8 2040.8 900.1 2038.8C882.5 2036.8 861.4 2033.5 847.3 2030.9C833.2 2028.2 823.2 2025.4 815.5 2023C808.7 2020.8 803.6 2018.3 801 2016.3C799 2014.9 798.1 2012.8 799.7 2011.1Z" fill="#6ecdd2" stroke="#2a1c3a" stroke-width="2.6" /><path d="M863.1 2027.4C868.9 2026.8 885.2 2026.3 900.1 2027.4C915.1 2028.6 944.6 2032.6 953 2034.3C955 2034.7 952.4 2038 950.4 2038C941.6 2038 914.2 2035.5 900.1 2034.3C886 2033.2 871.9 2032.3 865.8 2031.1C863.8 2030.8 861.1 2027.7 863.1 2027.4Z" fill="#8dc97d" stroke="#2a1c3a" stroke-width="2.6" /><path d="M180 1626.9C185.3 1626.1 191.1 1625.2 195.9 1624.4C200.6 1623.6 204.9 1619.6 208.6 1622.1C212.3 1624.7 214.4 1631.4 218.1 1639.6C221.8 1647.8 226.3 1659.7 230.8 1671.3C235.3 1683 240.5 1695.6 245 1709.4C249.5 1723.1 253.8 1738.5 257.7 1753.8C261.7 1769.1 266 1785.5 268.8 1801.4C271.6 1817.3 273.5 1833.1 274.5 1849C275.6 1864.8 275.6 1881.8 275.2 1896.6C274.8 1911.4 273.9 1926.2 272 1937.8C270.2 1949.5 267 1960 264.1 1966.4C261.5 1971.9 258.5 1975.4 254.6 1975.9C250.6 1976.4 245.3 1973.8 240.3 1969.5C235.3 1965.3 230.2 1958.4 224.4 1950.5C218.6 1942.6 209.2 1931.5 205.4 1922C201.6 1912.4 203.7 1902.4 201.6 1893.4C199.5 1884.4 196.3 1873.8 192.7 1868C189.1 1862.2 184.2 1861.7 180 1858.5C180 1781.3 180 1704.1 180 1626.9Z" fill="#8dc97d" stroke="#2a1c3a" stroke-width="2.6" /><path d="M180 1660.2C185.3 1659.4 191.1 1658.5 195.9 1657.7C200.6 1656.9 204.9 1653.2 208.6 1655.5C212.3 1657.7 214.6 1663.8 218.1 1671.3C221.8 1679.3 226.5 1691.4 230.8 1703C235 1714.7 239.5 1727.4 243.5 1741.1C247.4 1754.9 251.5 1770.7 254.6 1785.5C257.6 1800.3 260.3 1815.1 261.9 1829.9C263.4 1844.8 264.1 1860.1 264.1 1874.4C264.1 1888.6 263.2 1904 261.9 1915.6C260.5 1927.2 258.4 1936.8 256.1 1944.2C253.9 1951.6 251.4 1957.9 248.2 1960C245 1962.1 241.1 1960.2 237.1 1956.9C232.6 1953.2 226.5 1945.2 221.2 1937.8C216 1930.4 208.7 1921.4 205.4 1912.4C202.1 1903.4 203.7 1892.9 201.6 1883.9C199.5 1874.9 196.3 1864.3 192.7 1858.5C189.1 1852.7 184.2 1852.2 180 1849C180 1786.1 180 1723.1 180 1660.2Z" fill="#f2e636" stroke="#2a1c3a" stroke-width="2.6" /><path d="M180 1691.6C185.3 1690.8 191.1 1689.8 195.9 1689.1C200.6 1688.3 204.9 1684.9 208.6 1687.2C212.3 1689.5 214.6 1695.6 218.1 1703C221.5 1710.4 225.5 1720.5 229.2 1731.6C232.9 1742.7 236.9 1756.5 240.3 1769.7C243.6 1782.9 246.9 1797.2 249.2 1810.9C251.4 1824.7 252.9 1838.4 253.6 1852.2C254.3 1865.9 254.3 1881.2 253.6 1893.4C252.9 1905.6 251.1 1917.2 249.2 1925.1C247.3 1932.8 244.7 1938.9 241.9 1941C239.1 1943.1 235.6 1940.9 232.3 1937.8C228.4 1934.1 222.6 1925.7 218.1 1918.8C213.6 1911.9 208.1 1905 205.4 1896.6C202.6 1888.1 203.7 1877 201.6 1868C199.5 1859 196.3 1848.5 192.7 1842.6C189.1 1836.8 184.2 1836.3 180 1833.1C180 1786 180 1738.8 180 1691.6Z" fill="#f6a42e" stroke="#2a1c3a" stroke-width="2.6" /><path d="M180 1720.2C185.3 1719.3 190.8 1718.4 195.9 1717.6C200.9 1716.9 206.2 1713.4 210.1 1715.7C214.1 1718.1 216.5 1724.2 219.7 1731.6C222.8 1739 226 1749 229.2 1760.2C232.3 1771.3 236.2 1785.5 238.7 1798.2C241.2 1810.9 243.3 1823.6 244.4 1836.3C245.5 1849 245.5 1862.7 245 1874.4C244.6 1886 243.5 1898.2 241.9 1906.1C240.4 1913.6 237.9 1919.8 235.5 1922C233.1 1924.1 230.2 1921.6 227.6 1918.8C224.2 1915.1 218.6 1906.6 214.9 1899.7C211.2 1892.9 207.6 1886 205.4 1877.5C203.2 1869.1 203.7 1858 201.6 1849C199.5 1840 196.3 1829.4 192.7 1823.6C189.1 1817.8 184.2 1817.3 180 1814.1C180 1782.8 180 1751.5 180 1720.2Z" fill="#ee5b2b" stroke="#2a1c3a" stroke-width="2.6" /><path d="M180 1748.7C185.3 1747.9 190.8 1746.9 195.9 1746.2C200.9 1745.5 206.2 1742 210.1 1744.3C214.1 1746.6 216.7 1753.3 219.7 1760.2C222.6 1767 224.9 1776 227.6 1785.5C230.2 1795.1 233.7 1806.7 235.5 1817.3C237.4 1827.8 238.4 1838.4 238.7 1849C239 1859.6 238.2 1872.8 237.1 1880.7C236.1 1888.1 234.2 1893.9 232.3 1896.6C230.7 1898.9 227.9 1898.7 226 1896.6C223.1 1893.4 218.3 1884.4 214.9 1877.5C211.5 1870.7 207.6 1863.8 205.4 1855.3C203.2 1846.9 203.7 1835.8 201.6 1826.8C199.5 1817.8 196.3 1807.2 192.7 1801.4C189.1 1795.6 184.2 1795.1 180 1791.9C180 1777.5 180 1763.1 180 1748.7Z" fill="#e4342a" stroke="#2a1c3a" stroke-width="2.6" /><path d="M210.1 1753.8C212.8 1752.2 218.2 1767.6 221.2 1776C224.3 1784.5 226.6 1795.1 228.2 1804.6C229.8 1814.1 230.8 1824.1 230.8 1833.1C230.8 1842.1 229.8 1852.4 228.2 1858.5C226.7 1864.2 223.7 1869.6 221.2 1869.6C218.8 1869.6 215.5 1864.2 213.3 1858.5C210.9 1852.4 208.2 1844.8 207 1833.1C205.6 1821 204.9 1798.8 205.4 1785.5C205.9 1772.3 207.5 1755.4 210.1 1753.8Z" fill="none" stroke="#2a1c3a" stroke-width="2.6" /><g filter="url(#bl3)" opacity=".85"><ellipse cx="183" cy="1775" rx="13" ry="130" fill="#120c18"/></g><path d="M328.1 2032.2C327.6 2027.4 329.8 2020.5 336 2016.3C342.2 2012.2 351.5 2009.2 365.1 2007.1C378.7 2005 400.3 2004.2 417.9 2003.7C435.6 2003.1 454.1 2003.1 470.8 2003.7C487.6 2004.2 506.5 2005.2 518.4 2007.1C529.6 2008.9 539.1 2011.9 542.2 2015C545.3 2018.1 541.3 2022.6 536.9 2025.6C531.6 2029.1 521.5 2033.1 510.5 2036.2C499.5 2039.3 486.2 2041.8 470.8 2044.1C455.4 2046.4 435.6 2049.1 417.9 2050.2C400.3 2051.3 378.3 2051.5 365.1 2050.7C353 2050 344.8 2048.5 338.6 2045.4C332.5 2042.3 328.5 2037.1 328.1 2032.2Z" fill="#8dc97d" stroke="#2a1c3a" stroke-width="2.6" /><path d="M362.4 2033.5C361.5 2029.9 368.3 2024.9 375.6 2023C384.9 2020.4 403 2019.2 417.9 2018.5C432.9 2017.7 452.8 2017.7 465.5 2018.5C478.3 2019.2 491.1 2020.7 494.6 2023C498.1 2025.2 491.7 2030 486.7 2032.2C480.5 2035 469.1 2037.5 457.6 2039.6C446.1 2041.7 430.7 2044 417.9 2044.9C405.2 2045.8 390.2 2046.8 380.9 2044.9C371.7 2043 363.3 2037.2 362.4 2033.5Z" fill="#f2e636" stroke="#2a1c3a" stroke-width="2.6" /><path d="M760 1340C765 1335.3 766.2 1328.7 775 1326C786.7 1322.5 809.2 1320.5 830 1319C850.8 1317.5 880.7 1315.1 900 1317C919.3 1318.9 926.4 1323.9 945.6 1330.5C964.8 1337.1 997.2 1348.3 1015.2 1356.8C1033.3 1365.3 1042.8 1373.3 1053.9 1381.5C1065 1389.8 1072.2 1397.5 1081.7 1406.3C1091.3 1415 1102.4 1427.4 1111.1 1434.1C1119.9 1440.8 1126.6 1442.4 1134.3 1446.5C1134.7 1604.7 1135.1 1762.9 1135.4 1921.2C1128.8 1921.2 1120 1919 1115.6 1921.2C1111.2 1923.4 1111.4 1930.4 1109 1934.4C1106.6 1938.3 1103.9 1942.5 1101.1 1945C1098.2 1947.4 1094.2 1950.7 1091.8 1948.9C1089.4 1947.2 1087.4 1941.3 1086.5 1934.4C1085.3 1925.3 1085.1 1912.4 1084.7 1894.7C1084.2 1877.1 1083.5 1846.6 1083.9 1828.6C1084.3 1810.6 1086.6 1802.4 1087 1786.6C1087.3 1770.8 1086.4 1749.6 1085.9 1733.8C1085.4 1717.9 1084.9 1702 1083.8 1691.5C1082.8 1681.8 1082 1677.4 1079.6 1670.3C1077.1 1663.3 1073.6 1656.6 1069 1649.2C1064.4 1641.8 1057.7 1633.7 1052.1 1625.9C1046.4 1618.2 1039.9 1610.4 1035.2 1602.6C1030.4 1594.9 1026.5 1587.5 1023.5 1579.4C1020.5 1571.3 1018.7 1563.5 1017.2 1554C1015.7 1544.5 1015 1533.6 1014.4 1522.3C1013.9 1511 1017 1497.4 1014 1486.3C1011 1475.3 1003.4 1464.5 996.7 1455.8C989.9 1447.1 983.3 1441.1 973.5 1434.1C963.7 1427.2 950.3 1419.9 937.9 1414C925.5 1408.1 913.4 1403.2 899.2 1398.5C885 1393.9 868.3 1389.3 852.8 1386.2C837.3 1383.1 819.9 1380.5 806.4 1380C792.9 1379.5 779.6 1382.2 771.9 1383.3C766.3 1384.1 763.8 1385.6 759.8 1386.7C759.9 1371.1 759.9 1355.6 760 1340Z" fill="#8dc97d" stroke="#2a1c3a" stroke-width="2.6" /><path d="M770 1350C776.7 1344.7 780 1337.7 790 1334C800 1330.3 811.9 1329.5 830 1328C848.3 1326.5 879.4 1322.5 900 1325C920.6 1327.5 934.1 1336 953.3 1342.9C972.6 1349.7 999 1358.1 1015.2 1366.1C1031.5 1374.1 1040.2 1382.6 1050.8 1390.8C1061.4 1399.1 1068.8 1406.8 1078.6 1415.6C1088.4 1424.3 1100.3 1437 1109.6 1443.4C1118.9 1449.8 1126.1 1450.6 1134.3 1454.2C1140 1508.6 1145.7 1563 1151.5 1617.4C1137 1620.3 1116.7 1622.6 1108.1 1625.9C1102.1 1628.2 1102.5 1634.4 1099.7 1637.5C1096.8 1640.7 1094.2 1645.1 1091.2 1644.9C1088.2 1644.8 1085.6 1640.6 1081.7 1636.5C1077.3 1631.9 1070.4 1624.3 1064.8 1617.4C1059.1 1610.6 1052.6 1603 1047.8 1595.2C1043.1 1587.5 1039.2 1579.6 1036.2 1570.9C1033.2 1562.3 1031.4 1553.3 1029.9 1543.4C1028.4 1533.6 1027.9 1521.6 1027.3 1511.7C1026.8 1501.9 1027.9 1490.7 1026.7 1484.2C1025.6 1478.3 1022.9 1478 1019.9 1472.8C1016.1 1466.5 1011.6 1454.7 1004.4 1446.5C997.2 1438.2 987.6 1430.3 976.6 1423.3C965.5 1416.3 950.8 1410.4 937.9 1404.7C925 1399.1 913.4 1393.6 899.2 1389.3C885 1384.9 868.3 1381.3 852.8 1378.4C837.3 1375.6 819.9 1372.6 806.4 1372.2C792.9 1371.9 783.4 1375 771.9 1376.4C771.2 1367.6 770.6 1358.8 770 1350Z" fill="#c9dc3e" stroke="#2a1c3a" stroke-width="2.6" /><path d="M780 1362C783.3 1357.7 786.9 1351.9 790 1349C793.1 1346.1 794.4 1345.6 798.7 1344.4C806.6 1342.1 823.2 1336.7 837.3 1335.1C851.5 1333.5 869.6 1334 883.7 1334.8C897.9 1335.6 909.5 1337 922.4 1339.8C935.3 1342.5 946.9 1345.8 961.1 1351.4C975.3 1356.9 993.3 1364.9 1007.5 1373C1021.7 1381.1 1034.8 1391.5 1046.2 1400.1C1057.5 1408.7 1065.2 1416.3 1075.5 1424.8C1085.9 1433.3 1098.2 1444.9 1108 1451.1C1117.8 1457.3 1125.6 1458.4 1134.3 1462C1140 1507.4 1145.7 1552.9 1151.5 1598.4C1137 1601.2 1116.6 1603 1108.1 1606.9C1101.3 1610 1103.5 1618 1100.7 1621.7C1097.9 1625.4 1095.4 1630.1 1091.2 1629.1C1087 1628 1080.8 1621.2 1075.3 1615.3C1069.9 1609.5 1063.4 1601.6 1058.4 1594.2C1053.5 1586.8 1049.2 1579.4 1045.7 1570.9C1042.3 1562.5 1039.6 1553.3 1037.7 1543.4C1035.8 1533.6 1034.9 1521.6 1034.1 1511.7C1033.3 1501.9 1033.6 1488.9 1033 1484.2C1032.9 1483.1 1031 1484.7 1030.7 1483.6C1029 1478.4 1026.3 1460.9 1023 1452.7C1019.6 1444.4 1017 1440 1010.6 1434.1C1004.1 1428.2 995.1 1423.3 984.3 1417.1C973.5 1410.9 957.2 1402.4 945.6 1397C934 1391.6 925 1388.2 914.7 1384.6C904.4 1381 894.1 1377.7 883.7 1375.3C873.4 1373 863.1 1371.9 852.8 1370.7C842.5 1369.5 832.2 1369 821.9 1368.4C811.6 1367.7 797.9 1367.2 790.9 1366.8C786.1 1366.6 783.7 1366.3 780.1 1366.1C780.1 1364.7 780 1363.4 780 1362Z" fill="#f2e636" stroke="#2a1c3a" stroke-width="2.6" /><path d="M797.1 1350.6C798.2 1348.5 801.2 1344.4 806.4 1342.9C813.1 1340.9 827 1339.8 837.3 1339C847.7 1338.2 855.4 1337.5 868.3 1337.9C881.2 1338.3 901.8 1339.5 914.7 1341.6C927.6 1343.7 935.3 1347 945.6 1350.6C955.9 1354.1 967.5 1358.8 976.6 1363C985.6 1367.1 992.5 1370.7 999.8 1375.3C1007 1380 1014.4 1385.7 1019.9 1390.8C1025.3 1396 1029.5 1401.8 1032.2 1406.3C1034.9 1410.8 1036.4 1416.1 1036.1 1417.9C1035.8 1419.7 1033 1418 1030.7 1417.1C1025.9 1415.2 1016.5 1410.4 1007.5 1406.3C998.5 1402.2 986.9 1396.5 976.6 1392.4C966.2 1388.2 955.9 1384.9 945.6 1381.5C935.3 1378.2 925 1375.1 914.7 1372.2C904.4 1369.4 894.1 1366.6 883.7 1364.5C873.4 1362.4 863.1 1360.9 852.8 1359.9C842.5 1358.8 830.6 1359.1 821.9 1358.3C813.1 1357.6 804.3 1356.5 800.2 1355.2C797.8 1354.5 796.1 1352.7 797.1 1350.6Z" fill="#f6a42e" stroke="#2a1c3a" stroke-width="2.6" /><path d="M843.5 1349C844.9 1347.5 847.9 1344 852.8 1343.2C859.5 1342.1 873.4 1341.9 883.7 1342.4C894.1 1342.9 904.4 1344.1 914.7 1346.3C925 1348.5 936.6 1352.4 945.6 1355.5C954.6 1358.6 963.4 1361.8 968.8 1364.8C973.9 1367.7 977.3 1371.8 978.1 1373.8C978.9 1375.8 976 1377 973.5 1376.9C968 1376.6 955.4 1374.3 945.6 1372.2C935.8 1370.2 925 1366.8 914.7 1364.5C904.4 1362.2 893.5 1359.9 883.7 1358.3C873.9 1356.8 862.5 1356.3 855.9 1355.2C850.6 1354.4 846.4 1353.2 844.3 1352.1C843 1351.5 842.5 1350.1 843.5 1349Z" fill="#ee5b2b" stroke="#2a1c3a" stroke-width="2.6" /><path d="M1038.4 1426.4C1046.2 1430 1053.9 1433.3 1061.6 1437.2C1069.4 1441.1 1077.6 1445.5 1084.8 1449.6C1092 1453.7 1096.7 1457.6 1104.9 1462C1113.2 1466.3 1124.5 1471.2 1134.3 1475.9C1140 1513.9 1145.7 1551.9 1151.5 1590C1136.7 1590 1115.7 1587.1 1107.1 1590C1099.2 1592.5 1102.3 1603 1099.7 1606.9C1097 1610.8 1093.8 1613 1091.2 1613.2C1088.6 1613.4 1086.8 1610.8 1083.8 1607.9C1080.1 1604.4 1073.7 1598.2 1069 1592.1C1064.2 1585.9 1059.1 1579 1055.2 1570.9C1051.4 1562.8 1048.1 1553.3 1045.7 1543.4C1043.4 1533.6 1042.1 1521.6 1041.1 1511.7C1040 1501.9 1039.8 1486.3 1039.4 1484.2C1038.9 1482.1 1038.5 1505.8 1038.4 1499.1C1038.3 1489.4 1038.4 1450.6 1038.4 1426.4Z" fill="#f6a42e" stroke="#2a1c3a" stroke-width="2.6" /><path d="M1037 1418V1500" stroke="#2a1c3a" stroke-width="2.4" fill="none"/><path d="M1051.6 1499.1C1051.9 1497.7 1052.2 1481.8 1053.9 1475.9C1055.6 1470 1057.8 1466.1 1061.6 1463.5C1065.5 1460.9 1071.9 1459.9 1077.1 1460.4C1082.2 1460.9 1087.9 1463.8 1092.6 1466.6C1097.2 1469.4 1098.6 1473.7 1104.9 1477.4C1111.9 1481.6 1124.5 1486.7 1134.3 1491.3C1140 1517.2 1145.7 1543 1151.5 1568.8C1136.7 1568.8 1115.5 1565.6 1107.1 1568.8C1098.6 1572 1103.4 1583.4 1100.7 1587.8C1098.1 1592.3 1094.4 1595.2 1091.2 1595.2C1088 1595.2 1085.2 1592 1081.7 1587.8C1078 1583.4 1072.7 1576.2 1069 1568.8C1065.3 1561.4 1061.9 1553 1059.5 1543.4C1057 1533.9 1055.4 1521.6 1054.2 1511.7C1053 1501.9 1052.5 1486.3 1052.1 1484.2C1051.6 1482.1 1051.3 1500.5 1051.6 1499.1Z" fill="#ee5b2b" stroke="#2a1c3a" stroke-width="2.6" /><path d="M1063.9 1506.8C1065.9 1503.4 1065.6 1495.2 1067.8 1491.3C1070 1487.5 1073.5 1484.6 1077.1 1483.6C1080.7 1482.6 1085.6 1483.4 1089.5 1485.2C1093.3 1487 1097.6 1489.5 1100.3 1494.4C1103 1499.3 1100 1509.9 1105.7 1514.6C1111.4 1519.2 1124.8 1519.7 1134.3 1522.3C1140 1529.3 1145.7 1536.4 1151.5 1543.4C1137 1550.5 1116.2 1557.5 1108.1 1564.6C1100.7 1571 1105.1 1580.8 1102.8 1585.7C1100.6 1590.6 1097.5 1593.8 1094.4 1594.2C1091.2 1594.5 1087.5 1591.9 1083.8 1587.8C1079.9 1583.6 1074.8 1576.2 1071.1 1568.8C1067.4 1561.4 1064.1 1553 1061.6 1543.4C1059.1 1533.9 1055.9 1517.8 1056.3 1511.7C1056.6 1507.6 1062 1510.2 1063.9 1506.8Z" fill="#e4342a" stroke="#2a1c3a" stroke-width="2.6" /><path d="M1064.8 1492.7C1063.7 1500.8 1065.1 1521.9 1066.9 1532.9C1068.6 1543.8 1071.8 1551.9 1075.3 1558.2C1078.9 1564.6 1084.3 1569.5 1088 1570.9C1091.7 1572.3 1095.1 1570.2 1097.5 1566.7C1100 1563.2 1101.6 1557.2 1102.8 1549.8C1104.1 1542.4 1104.9 1531.1 1104.9 1522.3C1104.9 1513.5 1105.6 1503.3 1102.8 1496.9C1100 1490.6 1093 1486.3 1088 1484.2C1083.1 1482.1 1077.1 1482.8 1073.2 1484.2C1069.3 1485.6 1065.5 1487.3 1064.8 1492.7Z" fill="#d9302a" stroke="#2a1c3a" stroke-width="2.6" /><rect x="1108" y="1390" width="18" height="290" fill="url(#wshr)" opacity=".8"/><g filter="url(#bl3)" opacity=".6"><path d="M700 1300H990V1312Q900 1328 800 1318Q740 1318 700 1330Z" fill="#120c18"/></g><g filter="url(#bl2)"><path d="M814.9 1333.5L808.4 1327.7L801.7 1324L794.9 1321.6L788.3 1320.2L781.8 1319.5L775.7 1319.4L769.8 1319.6L764.3 1320.2L759.2 1321L754.4 1321.9L750.1 1322.9L746.1 1323.8L742.3 1324.8L738.4 1326L734.5 1327.2L730.5 1328.7L726.5 1330.2L722.5 1331.9L718.3 1333.8L714.1 1335.9L709.7 1338.1L705.4 1340.5L700.8 1343.2L696.2 1346.2L691.5 1349.4L686.8 1352.7L682.2 1356.2L677.6 1359.6L673.2 1363.1L669 1366.6L664.9 1369.9L661.2 1373.1L657.7 1376.1L654.4 1379.1L651.4 1382L648.5 1384.9L645.9 1387.8L643.4 1390.7L641.2 1393.4L639.1 1396L637.3 1398.5L635.5 1400.9L633.7 1403.4L631.7 1406.2L629.7 1409.2L627.7 1412.2L625.7 1415.3L623.8 1418.4L622 1421.6L620.1 1424.8L618.3 1428.1L616.6 1431.4L614.9 1434.8L613.2 1438.2L611.5 1441.7L609.9 1445.2L608.3 1448.8L606.8 1452.5L605.3 1456.1L603.8 1459.8L602.4 1463.6L601 1467.4L599.7 1471.2L598.4 1475L597.2 1478.9L596 1482.8L594.9 1486.7L593.9 1490.6L592.9 1494.4L591.9 1498.3L591 1502.2L590.1 1506L589.3 1509.8L588.5 1513.7L587.8 1517.5L587.1 1521.3L586.4 1525.1L585.9 1528.9L585.3 1532.6L584.8 1536.4L584.3 1540.1L583.9 1543.8L583.4 1547.6L583 1551.4L582.6 1555.3L582.2 1559.2L581.8 1563.3L581.4 1567.4L581.1 1571.7L580.8 1576L580.5 1580.3L580.3 1584.7L580.2 1589.2L580.1 1593.6L580.1 1598.1L580.2 1602.5L580.3 1606.9L580.4 1611.3L580.6 1615.7L580.8 1620L581 1624.3L581.3 1628.6L581.6 1632.7L581.9 1636.9L582.3 1641.1L582.7 1645.3L583.1 1649.5L583.6 1653.8L584.1 1658L584.6 1662.1L585.2 1666.3L585.9 1670.4L586.6 1674.6L587.4 1678.7L588.2 1682.7L589.1 1686.4L590 1689.8L590.9 1693L591.7 1696.1L592.5 1699.1L593.4 1702.1L594.2 1705.3L595.1 1708.8L596 1712.8L597.1 1717.4L598.2 1722.2L599.4 1727.3L600.6 1732.6L601.9 1737.9L603.1 1743.2L604.4 1748.4L605.6 1753.5L606.8 1758.3L608 1763L609.2 1767.5L610.3 1771.8L611.5 1775.8L612.6 1779.7L613.6 1783.4L614.6 1787L615.5 1790.5L616.4 1794L617.2 1797.4L618 1801L618.9 1804.8L619.7 1808.6L620.5 1812.5L621.2 1816.4L622 1820.3L622.7 1824.2L623.4 1828L624.1 1831.7L624.8 1835.3L625.4 1838.8L626 1842.1L626.6 1845.3L627.1 1848.4L627.7 1851.5L628.1 1854.4L628.6 1857.2L629 1860L629.4 1862.7L629.8 1865.3L630.1 1867.8L630.4 1870.2L630.7 1872.6L630.9 1874.9L631.1 1877.3L631.4 1879.7L631.6 1882.2L631.8 1884.7L632 1887.4L632.2 1890L632.5 1892.6L632.7 1895.2L632.9 1897.8L633.1 1900.5L633.3 1903.2L633.5 1905.9L633.7 1908.5L634 1911.2L634.5 1913.7L635.1 1916.3L635.8 1918.7L636.6 1920.9L637.5 1923.1L638.5 1925.1L639.6 1927L640.9 1928.9L642.3 1930.7L643.8 1932.5L645.7 1934.3L647.8 1936.2L650.4 1938.1L653.6 1940.2L657.6 1942.2L663.7 1944.2L683.6 1943.2L689.4 1940.4L693.2 1937.8L696 1935.2L698.3 1932.6L700.2 1930.1L701.6 1927.7L702.9 1925.4L703.9 1923.1L704.8 1920.9L705.5 1918.8L706.1 1916.7L706.6 1914.6L707 1912.4L707.4 1910.2L707.6 1907.9L707.6 1905.4L707.5 1902.8L707.3 1900.2L707.1 1897.5L706.9 1894.7L706.7 1891.9L706.4 1889.1L706.2 1886.3L706 1883.6L705.7 1881L705.5 1878.4L705.3 1875.9L705.1 1873.2L704.8 1870.5L704.6 1867.7L704.3 1864.8L703.9 1861.7L703.5 1858.6L703.1 1855.4L702.7 1852.2L702.2 1849L701.7 1845.7L701.2 1842.5L700.6 1839.2L700.1 1835.8L699.5 1832.5L698.9 1829L698.2 1825.5L697.6 1821.9L696.9 1818.2L696.2 1814.4L695.4 1810.5L694.7 1806.4L693.9 1802.2L693 1797.9L692.1 1793.6L691.2 1789.3L690.3 1784.9L689.3 1780.5L688.2 1776.1L687.1 1771.9L686 1767.7L684.9 1763.7L683.8 1759.8L682.7 1755.9L681.7 1752.1L680.6 1748.2L679.6 1744.3L678.6 1740.3L677.5 1735.9L676.3 1731.2L675.1 1726.2L673.9 1721L672.7 1715.8L671.5 1710.6L670.3 1705.4L669.1 1700.5L668 1695.7L666.9 1691.2L665.9 1687L664.9 1683.1L663.9 1679.5L663 1676.4L662.2 1673.5L661.6 1671L660.9 1668.6L660.4 1666.4L659.9 1664L659.4 1661.4L658.9 1658.5L658.4 1655.3L657.9 1652.1L657.5 1648.7L657.1 1645.2L656.7 1641.7L656.3 1638.1L656 1634.5L655.7 1630.9L655.4 1627.3L655.1 1623.6L654.9 1619.9L654.7 1616.1L654.5 1612.4L654.4 1608.7L654.2 1605L654.2 1601.4L654.1 1597.8L654.1 1594.2L654.2 1590.8L654.3 1587.5L654.4 1584.1L654.6 1580.6L654.9 1577.2L655.2 1573.7L655.5 1570.1L655.8 1566.6L656.2 1563.1L656.6 1559.5L657 1556L657.4 1552.6L657.8 1549.3L658.2 1546.1L658.6 1542.9L659 1539.9L659.5 1536.9L660 1533.9L660.5 1531L661.1 1528L661.7 1525.1L662.4 1522L663.1 1518.9L663.8 1515.8L664.6 1512.7L665.4 1509.6L666.2 1506.6L667.1 1503.6L667.9 1500.7L668.8 1497.8L669.8 1495L670.7 1492.2L671.8 1489.3L672.8 1486.5L673.9 1483.7L675.1 1481L676.2 1478.2L677.4 1475.5L678.6 1472.9L679.8 1470.4L681.1 1467.9L682.3 1465.5L683.5 1463.2L684.8 1460.9L686 1458.7L687.3 1456.5L688.6 1454.4L689.9 1452.4L691.2 1450.4L692.5 1448.4L693.9 1446.4L695.4 1444.3L696.8 1442.4L698 1440.8L699 1439.5L700 1438.3L700.9 1437.2L702 1436.1L703.3 1434.8L704.9 1433.2L706.9 1431.4L709.5 1429.1L712.5 1426.6L715.8 1423.8L719.4 1421L723 1418.1L726.7 1415.3L730.3 1412.6L733.8 1410.1L736.9 1408L739.8 1406.2L742.3 1404.6L744.8 1403.3L747.2 1402L749.5 1400.9L751.9 1399.8L754.5 1398.8L757.2 1397.7L760.2 1396.5L763.4 1395.1L767.1 1393.6L771 1391.8L774.8 1389.9L778.2 1388L781.4 1386.1L784.5 1384.2L787.4 1382.2L790.4 1380.1L793.5 1377.9L796.7 1375.5L800.3 1372.8L804.4 1369.5L809.3 1365.4L814.8 1359.5Z" fill="#86b85e" stroke="#2a1c3a" stroke-width="2.2" stroke-linejoin="round" /><path d="M814.9 1338.5L808.6 1334.9L802.2 1332.7L795.9 1331.3L789.8 1330.5L784 1330.3L778.4 1330.5L773 1331L768 1331.8L763.2 1332.7L758.7 1333.7L754.5 1334.8L750.5 1335.9L746.7 1337L742.8 1338.1L739 1339.4L735.2 1340.8L731.4 1342.3L727.6 1343.8L723.7 1345.5L719.8 1347.3L715.7 1349.2L711.6 1351.3L707.3 1353.6L702.8 1356.2L698.1 1358.9L693.4 1361.8L688.7 1364.8L684 1367.9L679.4 1370.9L675 1373.9L670.8 1376.9L666.9 1379.7L663.3 1382.4L660 1385L656.9 1387.6L654 1390.2L651.4 1392.8L648.9 1395.3L646.7 1397.8L644.6 1400.2L642.7 1402.5L640.9 1404.8L639 1407.1L636.9 1409.8L634.9 1412.6L632.9 1415.5L630.9 1418.5L629 1421.5L627.2 1424.6L625.4 1427.8L623.6 1430.9L621.9 1434.2L620.2 1437.5L618.6 1440.8L617 1444.2L615.4 1447.7L613.8 1451.2L612.3 1454.8L610.9 1458.4L609.4 1462L608 1465.7L606.7 1469.4L605.4 1473.1L604.1 1476.9L602.9 1480.7L601.8 1484.5L600.7 1488.3L599.7 1492.1L598.7 1495.9L597.7 1499.7L596.8 1503.5L596 1507.3L595.1 1511L594.4 1514.8L593.7 1518.6L593 1522.4L592.4 1526.1L591.8 1529.8L591.3 1533.5L590.8 1537.2L590.3 1540.8L589.8 1544.6L589.4 1548.3L589 1552.1L588.6 1555.9L588.1 1559.8L587.8 1563.9L587.4 1567.9L587.1 1572.1L586.8 1576.3L586.5 1580.6L586.3 1584.9L586.2 1589.3L586.1 1593.7L586.1 1598L586.2 1602.4L586.3 1606.8L586.4 1611.1L586.6 1615.4L586.8 1619.7L587 1624L587.3 1628.2L587.6 1632.3L587.9 1636.4L588.3 1640.6L588.7 1644.7L589.1 1648.9L589.5 1653.1L590 1657.2L590.6 1661.3L591.2 1665.4L591.8 1669.5L592.5 1673.5L593.3 1677.5L594.1 1681.3L594.9 1684.9L595.8 1688.3L596.6 1691.5L597.5 1694.5L598.3 1697.5L599.2 1700.6L600 1703.8L600.9 1707.3L601.9 1711.4L602.9 1716L604.1 1720.9L605.3 1726L606.5 1731.2L607.7 1736.5L609 1741.8L610.2 1747L611.4 1752L612.6 1756.9L613.8 1761.5L615 1765.9L616.1 1770.2L617.2 1774.2L618.3 1778.1L619.4 1781.8L620.4 1785.5L621.3 1789L622.2 1792.5L623.1 1796L623.9 1799.7L624.7 1803.5L625.5 1807.4L626.3 1811.3L627.1 1815.2L627.9 1819.2L628.6 1823L629.3 1826.9L630 1830.6L630.7 1834.3L631.3 1837.7L631.9 1841.1L632.5 1844.3L633.1 1847.4L633.6 1850.5L634.1 1853.4L634.5 1856.3L635 1859.1L635.4 1861.8L635.7 1864.5L636.1 1867.1L636.4 1869.5L636.6 1872L636.9 1874.4L637.1 1876.8L637.3 1879.2L637.6 1881.7L637.8 1884.2L638 1886.9L638.2 1889.5L638.5 1892.1L638.7 1894.7L638.9 1897.4L639.1 1900L639.3 1902.7L639.7 1905.4L640.3 1908L641 1910.6L641.9 1913.1L643 1915.6L644.3 1917.9L645.7 1920.1L647.3 1922.2L649 1924.1L651 1925.9L653.3 1927.7L656.1 1929.4L659.7 1931.1L665.3 1932.8L680.5 1931.6L685.7 1929L689 1926.6L691.4 1924.2L693.4 1922L695 1919.8L696.4 1917.6L697.5 1915.4L698.5 1913.2L699.4 1910.9L700.1 1908.5L700.6 1906L701 1903.4L701.1 1900.7L701.1 1898L700.9 1895.2L700.7 1892.4L700.5 1889.6L700.2 1886.8L700 1884.1L699.8 1881.5L699.5 1878.9L699.3 1876.4L699.1 1873.7L698.9 1871L698.6 1868.3L698.3 1865.4L698 1862.4L697.6 1859.4L697.2 1856.2L696.7 1853L696.3 1849.8L695.8 1846.7L695.3 1843.4L694.7 1840.2L694.2 1836.9L693.6 1833.5L693 1830.1L692.3 1826.6L691.7 1823L691 1819.3L690.3 1815.5L689.5 1811.6L688.8 1807.5L688 1803.4L687.1 1799.1L686.3 1794.8L685.4 1790.5L684.4 1786.2L683.4 1781.9L682.4 1777.6L681.3 1773.4L680.2 1769.3L679.1 1765.3L678 1761.4L677 1757.5L675.9 1753.7L674.8 1749.8L673.8 1745.9L672.7 1741.8L671.6 1737.4L670.5 1732.6L669.3 1727.6L668.1 1722.4L666.9 1717.1L665.6 1711.9L664.5 1706.8L663.3 1701.8L662.2 1697.1L661.1 1692.7L660.1 1688.5L659.1 1684.6L658.1 1681.1L657.2 1678L656.5 1675.1L655.8 1672.5L655.1 1670.1L654.6 1667.7L654 1665.2L653.5 1662.5L653 1659.4L652.5 1656.2L652 1652.9L651.5 1649.4L651.1 1645.9L650.7 1642.3L650.4 1638.7L650 1635.1L649.7 1631.4L649.4 1627.7L649.2 1624L648.9 1620.2L648.7 1616.5L648.5 1612.7L648.4 1608.9L648.2 1605.2L648.2 1601.5L648.1 1597.8L648.1 1594.2L648.2 1590.7L648.3 1587.2L648.4 1583.8L648.6 1580.2L648.9 1576.7L649.2 1573.2L649.5 1569.6L649.8 1566L650.2 1562.4L650.6 1558.9L651 1555.3L651.4 1551.9L651.8 1548.5L652.2 1545.3L652.7 1542.1L653.1 1539L653.6 1535.9L654.1 1532.9L654.6 1529.9L655.2 1526.9L655.8 1523.8L656.5 1520.7L657.2 1517.5L658 1514.4L658.8 1511.2L659.6 1508.1L660.4 1505L661.3 1501.9L662.2 1498.9L663.1 1495.9L664.1 1493L665.1 1490.2L666.1 1487.3L667.2 1484.4L668.4 1481.5L669.5 1478.7L670.7 1475.8L672 1473.1L673.2 1470.4L674.4 1467.8L675.7 1465.2L676.9 1462.7L678.2 1460.3L679.5 1458L680.8 1455.7L682.1 1453.4L683.4 1451.2L684.7 1449L686 1446.9L687.3 1444.8L688.7 1442.7L690.1 1440.4L691.4 1438.4L692.5 1436.6L693.5 1435.1L694.5 1433.7L695.4 1432.3L696.5 1430.8L697.8 1429.2L699.4 1427.3L701.4 1425.1L703.8 1422.5L706.7 1419.6L709.8 1416.4L713.1 1413.2L716.6 1409.9L720.2 1406.6L723.7 1403.5L727.1 1400.6L730.4 1398L733.3 1395.8L736.1 1393.9L738.8 1392.1L741.5 1390.6L744.1 1389.2L746.8 1387.9L749.6 1386.7L752.5 1385.6L755.7 1384.3L759 1383L762.7 1381.4L766.6 1379.7L770.4 1377.9L774 1376.2L777.4 1374.4L780.8 1372.6L784.2 1370.8L787.7 1369L791.3 1367.1L795.1 1365.2L799.3 1363.1L803.9 1360.9L809.1 1358.2L814.8 1354.5Z" fill="#b9c940" stroke="#2a1c3a" stroke-width="2.2" stroke-linejoin="round" /><path d="M827.7 1343L821.3 1339.5L814.9 1337.4L808.6 1336L802.4 1335.2L796.3 1334.8L790.5 1334.9L785 1335.3L779.7 1336.1L774.7 1337.1L770 1338.3L765.6 1339.6L761.3 1341L757.3 1342.4L753.4 1343.8L749.6 1345.1L745.8 1346.5L742.1 1347.8L738.5 1349.2L734.8 1350.6L731.2 1352.1L727.5 1353.6L723.7 1355.2L719.9 1357L715.9 1358.9L711.8 1360.9L707.4 1363.3L702.9 1365.8L698.2 1368.4L693.5 1371.2L688.7 1374L684.1 1376.8L679.6 1379.6L675.3 1382.3L671.4 1384.9L667.8 1387.4L664.4 1389.8L661.4 1392.2L658.6 1394.6L656 1396.9L653.6 1399.3L651.4 1401.6L649.4 1403.8L647.4 1406L645.6 1408.2L643.7 1410.5L641.6 1413L639.5 1415.8L637.5 1418.6L635.6 1421.4L633.7 1424.4L631.9 1427.4L630.2 1430.4L628.5 1433.6L626.8 1436.7L625.1 1439.9L623.5 1443.2L622 1446.5L620.4 1449.9L618.9 1453.4L617.4 1456.9L616 1460.4L614.5 1464L613.2 1467.6L611.9 1471.2L610.6 1474.9L609.4 1478.6L608.2 1482.3L607.1 1486L606 1489.8L605 1493.5L604 1497.3L603.1 1501L602.2 1504.8L601.3 1508.5L600.5 1512.2L599.8 1515.9L599.1 1519.6L598.4 1523.3L597.8 1527L597.2 1530.6L596.7 1534.2L596.2 1537.9L595.7 1541.5L595.3 1545.2L594.9 1548.9L594.4 1552.7L594 1556.5L593.6 1560.4L593.2 1564.4L592.9 1568.4L592.5 1572.5L592.3 1576.7L592 1580.9L591.8 1585.2L591.7 1589.4L591.6 1593.7L591.6 1598L591.7 1602.3L591.8 1606.6L591.9 1610.9L592.1 1615.2L592.3 1619.4L592.5 1623.6L592.8 1627.8L593.1 1631.9L593.4 1636L593.7 1640.1L594.1 1644.2L594.5 1648.3L595 1652.4L595.5 1656.5L596 1660.6L596.6 1664.6L597.2 1668.6L597.9 1672.5L598.6 1676.4L599.4 1680.1L600.3 1683.6L601.1 1686.9L602 1690L602.8 1693L603.6 1696.1L604.5 1699.2L605.3 1702.4L606.2 1706L607.2 1710.2L608.3 1714.7L609.4 1719.6L610.6 1724.7L611.8 1730L613.1 1735.3L614.3 1740.5L615.5 1745.7L616.8 1750.7L617.9 1755.5L619.1 1760.1L620.3 1764.5L621.4 1768.7L622.5 1772.7L623.6 1776.6L624.7 1780.4L625.7 1784L626.6 1787.6L627.5 1791.2L628.4 1794.8L629.3 1798.5L630.1 1802.4L630.9 1806.3L631.7 1810.2L632.5 1814.2L633.3 1818.1L634 1822L634.7 1825.9L635.4 1829.6L636.1 1833.3L636.7 1836.7L637.3 1840.1L637.9 1843.3L638.5 1846.5L639 1849.6L639.5 1852.5L640 1855.4L640.4 1858.3L640.8 1861.1L641.2 1863.8L641.5 1866.4L641.8 1868.9L642.1 1871.4L642.4 1873.8L642.6 1876.3L642.8 1878.7L643 1881.2L643.2 1883.8L643.5 1886.4L643.7 1889L643.9 1891.6L644.2 1894.3L644.4 1896.9L644.8 1899.6L645.4 1902.3L646.3 1904.9L647.4 1907.5L648.8 1910L650.5 1912.5L652.5 1914.8L654.9 1917L657.8 1919L661.6 1920.8L668.2 1922.3L675.8 1921.6L682.1 1918.9L685.5 1916.5L687.9 1914.1L689.9 1911.7L691.6 1909.2L692.9 1906.6L693.9 1903.9L694.6 1901.2L695 1898.4L695.3 1895.7L695.2 1892.9L695 1890.1L694.7 1887.3L694.5 1884.6L694.3 1882L694.1 1879.4L693.8 1876.8L693.6 1874.2L693.4 1871.6L693.1 1868.8L692.8 1866L692.5 1863.1L692.1 1860L691.7 1856.9L691.3 1853.8L690.8 1850.7L690.3 1847.5L689.8 1844.3L689.3 1841.1L688.7 1837.8L688.2 1834.5L687.5 1831L686.9 1827.6L686.3 1824L685.6 1820.3L684.9 1816.5L684.1 1812.6L683.4 1808.5L682.6 1804.4L681.7 1800.2L680.9 1796L680 1791.7L679 1787.4L678.1 1783.2L677 1778.9L676 1774.8L674.9 1770.7L673.8 1766.8L672.7 1762.9L671.7 1759L670.6 1755.1L669.5 1751.2L668.5 1747.2L667.4 1743.1L666.3 1738.7L665.1 1733.9L664 1728.8L662.7 1723.6L661.5 1718.4L660.3 1713.2L659.1 1708L657.9 1703.1L656.8 1698.4L655.8 1694L654.7 1689.8L653.7 1686L652.8 1682.6L651.9 1679.4L651.2 1676.6L650.4 1673.9L649.8 1671.4L649.2 1668.9L648.6 1666.3L648.1 1663.5L647.6 1660.3L647 1657L646.6 1653.6L646.1 1650.1L645.7 1646.6L645.3 1642.9L644.9 1639.3L644.5 1635.6L644.2 1631.8L643.9 1628.1L643.7 1624.4L643.4 1620.6L643.2 1616.8L643 1612.9L642.9 1609.1L642.7 1605.3L642.7 1601.5L642.6 1597.8L642.6 1594.1L642.7 1590.6L642.8 1587L643 1583.5L643.2 1579.9L643.4 1576.3L643.7 1572.7L644 1569.1L644.4 1565.5L644.7 1561.9L645.1 1558.3L645.5 1554.7L645.9 1551.2L646.3 1547.9L646.8 1544.6L647.2 1541.3L647.7 1538.2L648.2 1535L648.7 1532L649.2 1528.9L649.8 1525.8L650.4 1522.7L651.1 1519.5L651.9 1516.3L652.6 1513.1L653.4 1509.9L654.3 1506.7L655.1 1503.5L656 1500.4L656.9 1497.3L657.9 1494.2L658.9 1491.3L659.9 1488.3L661 1485.3L662.1 1482.4L663.3 1479.4L664.5 1476.5L665.7 1473.7L666.9 1470.8L668.2 1468.1L669.5 1465.4L670.8 1462.7L672.1 1460.2L673.4 1457.7L674.7 1455.3L676.1 1452.9L677.4 1450.6L678.7 1448.3L680 1446L681.3 1443.8L682.6 1441.6L684 1439.3L685.4 1437L686.7 1434.9L687.8 1433L688.8 1431.3L689.8 1429.7L690.8 1428.1L691.9 1426.5L693.3 1424.6L694.9 1422.5L696.9 1420.1L699.3 1417.3L702.1 1414.2L705.2 1410.8L708.5 1407.3L711.9 1403.8L715.4 1400.3L718.9 1396.9L722.4 1393.8L725.7 1390.9L728.8 1388.5L731.8 1386.3L734.6 1384.4L737.5 1382.7L740.3 1381.1L743.2 1379.7L746.2 1378.4L749.3 1377.2L752.5 1375.9L756 1374.6L759.8 1373.3L763.7 1371.8L767.5 1370.3L771.3 1368.8L775.1 1367.4L778.8 1366.1L782.5 1364.8L786.4 1363.4L790.3 1362.1L794.5 1360.9L798.9 1359.6L803.7 1358.4L809.1 1357L814.8 1355.6L821 1353.7L827.4 1350.6Z" fill="#f2e636" stroke="#2a1c3a" stroke-width="2.2" stroke-linejoin="round" /><path d="M711.8 1378.6L707 1380.5L701.6 1381.9L695.8 1383L689.9 1384L684.1 1385.1L678.7 1386.3L673.9 1387.8L669.7 1389.6L666.2 1391.7L663.3 1394.2L660.8 1396.7L658.5 1399.2L656.4 1401.6L654.5 1404L652.6 1406.3L650.9 1408.6L649.3 1410.9L647.6 1413.3L645.7 1415.9L643.8 1418.6L642 1421.4L640.2 1424.3L638.4 1427.2L636.7 1430.1L635 1433.1L633.3 1436.2L631.7 1439.3L630.1 1442.4L628.5 1445.6L626.9 1448.9L625.4 1452.2L623.9 1455.6L622.5 1459L621.1 1462.5L619.7 1466L618.3 1469.5L617 1473.1L615.8 1476.6L614.6 1480.2L613.5 1483.9L612.4 1487.6L611.3 1491.2L610.3 1494.9L609.3 1498.6L608.4 1502.3L607.5 1506L606.7 1509.7L605.9 1513.3L605.2 1517L604.5 1520.6L603.8 1524.2L603.2 1527.8L602.7 1531.4L602.2 1535L601.7 1538.6L601.2 1542.2L600.8 1545.9L600.3 1549.5L599.9 1553.3L599.5 1557.1L599.1 1560.9L598.7 1564.9L598.4 1568.9L598 1572.9L597.8 1577L597.5 1581.2L597.3 1585.4L597.2 1589.6L597.1 1593.8L597.1 1598L597.2 1602.2L597.3 1606.5L597.4 1610.7L597.6 1614.9L597.8 1619.1L598 1623.3L598.3 1627.4L598.6 1631.5L598.9 1635.5L599.2 1639.6L599.6 1643.7L600 1647.7L600.5 1651.8L601 1655.8L601.5 1659.8L602 1663.8L602.7 1667.7L603.3 1671.6L604 1675.3L604.8 1678.9L605.6 1682.3L606.4 1685.5L607.3 1688.6L608.1 1691.6L608.9 1694.6L609.8 1697.7L610.7 1701.1L611.6 1704.7L612.6 1708.9L613.6 1713.5L614.8 1718.4L616 1723.5L617.2 1728.7L618.4 1734L619.7 1739.3L620.9 1744.4L622.1 1749.4L623.3 1754.2L624.4 1758.7L625.6 1763.1L626.7 1767.2L627.8 1771.3L628.9 1775.1L630 1778.9L631 1782.6L632 1786.2L632.9 1789.9L633.8 1793.5L634.6 1797.3L635.5 1801.2L636.3 1805.2L637.1 1809.1L637.9 1813.1L638.7 1817.1L639.4 1821L640.1 1824.9L640.8 1828.6L641.5 1832.3L642.2 1835.7L642.8 1839.1L643.3 1842.4L643.9 1845.6L644.4 1848.6L644.9 1851.6L645.4 1854.6L645.8 1857.5L646.3 1860.3L646.6 1863L647 1865.7L647.3 1868.3L647.6 1870.8L647.8 1873.3L648.1 1875.7L648.3 1878.2L648.5 1880.7L648.7 1883.3L649 1885.9L649.2 1888.5L649.4 1891.2L649.8 1893.8L650.5 1896.4L651.5 1899.1L652.9 1901.7L654.8 1904.2L657.3 1906.7L660.7 1909.1L666.8 1911.1L675.3 1910.5L680.9 1907.5L683.9 1904.7L686 1901.8L687.5 1899L688.5 1896.2L689.1 1893.4L689.3 1890.5L689.3 1887.8L689 1885L688.8 1882.4L688.6 1879.9L688.4 1877.3L688.1 1874.7L687.9 1872.1L687.6 1869.3L687.4 1866.6L687 1863.7L686.7 1860.7L686.3 1857.7L685.8 1854.6L685.4 1851.5L684.9 1848.4L684.4 1845.2L683.9 1842L683.3 1838.7L682.7 1835.4L682.1 1832L681.5 1828.5L680.8 1825L680.2 1821.3L679.5 1817.5L678.7 1813.6L678 1809.6L677.2 1805.5L676.3 1801.3L675.5 1797.1L674.6 1792.8L673.7 1788.6L672.7 1784.4L671.7 1780.2L670.7 1776.2L669.6 1772.2L668.5 1768.2L667.5 1764.4L666.4 1760.5L665.3 1756.6L664.2 1752.7L663.1 1748.6L662.1 1744.4L661 1740L659.8 1735.1L658.6 1730.1L657.4 1724.9L656.2 1719.6L654.9 1714.4L653.7 1709.3L652.6 1704.3L651.5 1699.7L650.4 1695.3L649.4 1691.2L648.4 1687.4L647.5 1684L646.6 1680.9L645.8 1678L645.1 1675.3L644.4 1672.7L643.8 1670.1L643.2 1667.4L642.7 1664.4L642.1 1661.2L641.6 1657.8L641.1 1654.4L640.6 1650.8L640.2 1647.2L639.8 1643.5L639.4 1639.8L639.1 1636L638.7 1632.3L638.4 1628.5L638.2 1624.7L637.9 1620.9L637.7 1617L637.5 1613.2L637.4 1609.3L637.3 1605.5L637.2 1601.6L637.1 1597.8L637.1 1594.1L637.2 1590.4L637.3 1586.8L637.5 1583.2L637.7 1579.6L637.9 1575.9L638.2 1572.2L638.5 1568.6L638.9 1564.9L639.3 1561.3L639.7 1557.7L640.1 1554.1L640.5 1550.6L640.9 1547.2L641.3 1543.8L641.8 1540.6L642.2 1537.4L642.7 1534.2L643.2 1531L643.8 1527.9L644.4 1524.7L645.1 1521.6L645.8 1518.3L646.5 1515L647.3 1511.8L648.1 1508.5L648.9 1505.2L649.8 1502L650.7 1498.8L651.7 1495.7L652.7 1492.6L653.7 1489.5L654.7 1486.5L655.8 1483.4L657 1480.4L658.2 1477.4L659.4 1474.4L660.6 1471.5L661.9 1468.6L663.2 1465.7L664.5 1463L665.8 1460.3L667.2 1457.7L668.5 1455.1L669.9 1452.6L671.3 1450.1L672.7 1447.8L674.1 1445.4L675.6 1443.1L677 1440.9L678.5 1438.7L680.1 1436.5L681.7 1434.3L683.1 1432.3L684.5 1430.5L685.7 1428.9L687 1427.4L688.3 1425.9L689.7 1424.3L691.4 1422.7L693.1 1420.6L694.9 1417.9L696.8 1414.4L698.7 1410.2L700.7 1405.3L702.7 1400.1L704.9 1394.7L707.3 1389.5L710.1 1384.8L713.4 1380.9Z" fill="#f6a42e" stroke="#2a1c3a" stroke-width="2.2" stroke-linejoin="round" /><path d="M695.6 1391.2L691.3 1393.8L686.9 1396L682.6 1397.9L678.6 1399.6L674.9 1401.1L671.6 1402.6L668.5 1404.1L665.7 1405.6L663.1 1407.3L660.7 1409L658.4 1410.7L656.3 1412.5L654.2 1414.5L652.2 1416.6L650.2 1419L648.4 1421.7L646.6 1424.4L644.8 1427.2L643.1 1430L641.4 1432.9L639.8 1435.8L638.1 1438.8L636.6 1441.8L635 1444.9L633.4 1448L631.9 1451.2L630.4 1454.4L629 1457.8L627.6 1461.1L626.2 1464.5L624.8 1468L623.5 1471.4L622.2 1474.9L621 1478.4L619.8 1481.9L618.7 1485.5L617.6 1489.1L616.6 1492.7L615.6 1496.3L614.7 1500L613.8 1503.6L612.9 1507.2L612.1 1510.8L611.3 1514.4L610.6 1518L609.9 1521.6L609.2 1525.2L608.7 1528.7L608.1 1532.2L607.6 1535.8L607.1 1539.3L606.7 1542.9L606.2 1546.5L605.8 1550.2L605.4 1553.9L605 1557.6L604.6 1561.5L604.2 1565.4L603.8 1569.3L603.5 1573.3L603.2 1577.4L603 1581.5L602.8 1585.6L602.7 1589.7L602.6 1593.8L602.6 1598L602.7 1602.2L602.8 1606.3L602.9 1610.5L603.1 1614.7L603.3 1618.9L603.5 1623L603.8 1627L604 1631.1L604.4 1635.1L604.7 1639.1L605.1 1643.1L605.5 1647.2L605.9 1651.2L606.4 1655.1L606.9 1659.1L607.5 1663L608.1 1666.8L608.7 1670.6L609.4 1674.2L610.2 1677.7L610.9 1681L611.7 1684.1L612.6 1687.1L613.4 1690.1L614.2 1693.2L615.1 1696.3L616 1699.7L616.9 1703.4L617.9 1707.6L619 1712.2L620.1 1717.1L621.3 1722.2L622.6 1727.5L623.8 1732.8L625 1738L626.2 1743.2L627.4 1748.1L628.6 1752.8L629.8 1757.3L630.9 1761.6L632 1765.8L633.1 1769.8L634.2 1773.7L635.3 1777.4L636.3 1781.2L637.3 1784.9L638.2 1788.5L639.1 1792.3L640 1796.1L640.9 1800.1L641.7 1804.1L642.5 1808.1L643.3 1812.1L644.1 1816.1L644.8 1820L645.5 1823.9L646.2 1827.6L646.9 1831.3L647.6 1834.8L648.2 1838.1L648.8 1841.4L649.3 1844.6L649.9 1847.7L650.4 1850.8L650.8 1853.7L651.3 1856.6L651.7 1859.5L652.1 1862.3L652.5 1865L652.8 1867.6L653 1870.2L653.3 1872.7L653.5 1875.2L653.8 1877.7L654 1880.3L654.2 1882.8L654.8 1885.4L655.6 1888L656.9 1890.5L658.7 1893.1L661.3 1895.6L666 1897.9L674.1 1897.3L678.3 1894.2L680.5 1891.3L681.8 1888.4L682.6 1885.6L683 1882.9L683.1 1880.4L682.9 1877.8L682.7 1875.2L682.4 1872.6L682.2 1869.9L681.9 1867.1L681.6 1864.3L681.2 1861.4L680.8 1858.4L680.4 1855.4L680 1852.3L679.5 1849.2L679 1846.1L678.4 1842.9L677.9 1839.7L677.3 1836.4L676.7 1833L676.1 1829.5L675.4 1826L674.8 1822.3L674.1 1818.6L673.3 1814.6L672.6 1810.6L671.8 1806.5L671 1802.4L670.1 1798.2L669.2 1794L668.3 1789.8L667.4 1785.7L666.4 1781.6L665.3 1777.5L664.3 1773.6L663.2 1769.7L662.2 1765.8L661.1 1762L660 1758.1L658.9 1754.1L657.8 1750L656.7 1745.8L655.6 1741.3L654.4 1736.4L653.2 1731.4L652 1726.1L650.8 1720.9L649.6 1715.7L648.4 1710.5L647.2 1705.6L646.1 1700.9L645.1 1696.6L644.1 1692.5L643.1 1688.9L642.2 1685.5L641.3 1682.4L640.5 1679.5L639.8 1676.7L639.1 1674L638.5 1671.3L637.9 1668.5L637.3 1665.4L636.7 1662.1L636.2 1658.7L635.7 1655.1L635.2 1651.5L634.7 1647.8L634.3 1644.1L633.9 1640.3L633.6 1636.5L633.3 1632.7L633 1628.9L632.7 1625.1L632.4 1621.2L632.2 1617.3L632 1613.4L631.9 1609.5L631.8 1605.6L631.7 1601.7L631.6 1597.9L631.6 1594.1L631.7 1590.3L631.8 1586.6L632 1582.9L632.2 1579.2L632.4 1575.5L632.7 1571.8L633.1 1568.1L633.4 1564.4L633.8 1560.7L634.2 1557.1L634.6 1553.5L635 1549.9L635.4 1546.5L635.9 1543.1L636.3 1539.8L636.8 1536.5L637.3 1533.3L637.8 1530.1L638.4 1526.9L639 1523.7L639.7 1520.4L640.4 1517.1L641.1 1513.8L641.9 1510.5L642.8 1507.1L643.6 1503.8L644.5 1500.5L645.5 1497.3L646.4 1494L647.4 1490.9L648.5 1487.7L649.5 1484.6L650.7 1481.5L651.9 1478.4L653.1 1475.3L654.3 1472.3L655.6 1469.3L656.9 1466.3L658.2 1463.4L659.6 1460.6L660.9 1457.8L662.3 1455.1L663.7 1452.5L665.1 1449.9L666.5 1447.4L668 1444.9L669.5 1442.5L671 1440.1L672.5 1437.8L674 1435.6L675.4 1433.2L676.7 1430.8L677.8 1428.4L678.7 1426.1L679.5 1423.9L680.3 1421.7L681.1 1419.4L682 1416.9L683.1 1414.2L684.4 1411.2L686.1 1407.9L688.1 1404.3L690.6 1400.4L693.5 1396.5L697 1392.9Z" fill="#ee5b2b" stroke="#2a1c3a" stroke-width="2.2" stroke-linejoin="round" /></g><g filter="url(#bl3)" opacity=".62"><path d="M694.9 1381.8L688.2 1381.9L682.4 1383L677.2 1384.5L672.5 1386.2L668.3 1388L664.5 1389.9L661.1 1391.9L657.9 1393.9L655 1396.1L652.3 1398.2L649.9 1400.3L647.6 1402.4L645.4 1404.5L643.3 1406.5L641.1 1408.7L638.8 1411.1L636.4 1413.7L634.2 1416.4L631.9 1419.1L629.7 1422L627.6 1424.9L625.5 1427.8L623.5 1430.9L621.5 1434L619.6 1437.2L617.7 1440.4L615.9 1443.7L614.1 1447.1L612.4 1450.6L610.8 1454.1L609.2 1457.7L607.6 1461.3L606.2 1465L604.8 1468.7L603.5 1472.5L602.2 1476.2L601 1480.1L599.9 1483.9L598.8 1487.7L597.7 1491.6L596.7 1495.4L595.8 1499.2L594.9 1503.1L594 1506.8L593.2 1510.6L592.4 1514.5L591.7 1518.3L591 1522L590.4 1525.8L589.8 1529.5L589.3 1533.2L588.8 1536.9L588.3 1540.6L587.8 1544.3L587.4 1548.1L587 1551.8L586.6 1555.7L586.2 1559.6L585.8 1563.7L585.4 1567.8L585.1 1572L584.8 1576.2L584.5 1580.5L584.3 1584.9L584.2 1589.3L584.1 1593.7L584.1 1598L584.2 1602.4L584.3 1606.8L584.4 1611.2L584.6 1615.5L584.8 1619.8L585 1624.1L585.3 1628.3L585.6 1632.5L585.9 1636.6L586.3 1640.8L586.7 1644.9L587.1 1649.1L587.6 1653.3L588.1 1657.5L588.6 1661.6L589.2 1665.7L589.9 1669.8L590.7 1673.8L591.5 1677.9L592.4 1681.7L593.4 1685.3L594.3 1688.7L595.3 1691.8L596.3 1694.9L597.2 1697.8L598.2 1700.8L599.3 1704L600.4 1707.5L601.7 1711.5L603.1 1716L604.6 1720.7L606.3 1725.7L608 1730.9L609.8 1736L611.7 1741.2L613.6 1746.2L615.5 1751L617.4 1755.7L619.3 1760.1L621.2 1764.2L623.1 1768.2L625.1 1772L627 1775.7L629 1779.2L631 1782.6L633 1786L635.2 1789.3L637.4 1792.7L639.8 1796.2L642.5 1799.7L645.6 1803.2L649.4 1806.7L664.1 1803.7L666.2 1799L667.6 1794.4L668.5 1789.8L669.1 1785.3L669.4 1780.8L669.6 1776.4L669.6 1772.2L669.5 1768L669.4 1763.8L669.1 1759.7L668.9 1755.6L668.6 1751.5L668.3 1747.3L667.9 1743L667.6 1738.3L667.1 1733.4L666.6 1728.2L666 1722.9L665.3 1717.5L664.6 1712.2L663.9 1706.9L663.2 1701.9L662.4 1697.1L661.6 1692.5L660.8 1688.3L660 1684.4L659.2 1680.8L658.5 1677.6L657.8 1674.8L657.2 1672.1L656.7 1669.7L656.2 1667.3L655.8 1664.9L655.3 1662.2L654.9 1659.1L654.4 1655.9L654 1652.6L653.5 1649.2L653.1 1645.7L652.7 1642.1L652.3 1638.5L652 1634.9L651.7 1631.2L651.4 1627.5L651.1 1623.8L650.9 1620.1L650.7 1616.4L650.5 1612.6L650.4 1608.8L650.2 1605.1L650.2 1601.4L650.1 1597.8L650.1 1594.2L650.2 1590.7L650.3 1587.3L650.4 1583.9L650.6 1580.4L650.9 1576.9L651.2 1573.3L651.5 1569.8L651.8 1566.2L652.2 1562.6L652.6 1559.1L653 1555.6L653.4 1552.1L653.8 1548.8L654.2 1545.5L654.6 1542.4L655.1 1539.3L655.6 1536.2L656.1 1533.2L656.6 1530.2L657.2 1527.3L657.8 1524.2L658.4 1521.1L659.2 1518L659.9 1514.8L660.7 1511.7L661.5 1508.6L662.3 1505.5L663.2 1502.5L664.1 1499.5L665 1496.6L666 1493.7L667 1490.8L668 1487.9L669 1485.1L670.1 1482.2L671.1 1479.3L672.2 1476.5L673.2 1473.7L674.3 1470.9L675.3 1468.2L676.3 1465.5L677.3 1462.9L678.4 1460.4L679.4 1457.9L680.4 1455.4L681.4 1453L682.4 1450.6L683.4 1448.2L684.4 1445.8L685.4 1443.5L686.5 1441.1L687.7 1438.7L688.7 1436.4L689.6 1434.4L690.3 1432.6L691 1430.8L691.8 1429L692.6 1427.1L693.6 1424.9L694.8 1422.4L696.4 1419.5L698.2 1416L700.3 1412L702.4 1407.4L704.3 1402.2L705.8 1395.9Z" fill="#1f0d06"  /></g><path d="M682 1403.4L679.2 1405.7L676.7 1407.8L674.4 1409.7L672.3 1411.6L670.4 1413.4L668.5 1415.2L666.7 1417L664.8 1418.8L662.9 1420.7L660.8 1422.8L658.7 1424.9L656.6 1427.2L654.4 1429.5L652.3 1431.8L650.3 1434.3L648.2 1436.8L646.2 1439.4L644.3 1442L642.4 1444.8L640.5 1447.6L638.8 1450.6L637.1 1453.6L635.5 1456.7L634 1459.9L632.6 1463.2L631.3 1466.6L629.9 1469.9L628.6 1473.3L627.4 1476.7L626.2 1480.2L625.1 1483.6L624 1487.1L622.9 1490.7L621.9 1494.2L620.9 1497.8L620 1501.3L619.1 1504.9L618.3 1508.5L617.4 1512L616.7 1515.6L616 1519.1L615.3 1522.6L614.7 1526.1L614.1 1529.6L613.5 1533L613 1536.5L612.6 1540L612.1 1543.6L611.7 1547.2L611.3 1550.8L610.8 1554.5L610.4 1558.2L610 1562L609.7 1565.9L609.3 1569.8L609 1573.7L608.7 1577.7L608.5 1581.7L608.3 1585.8L608.2 1589.8L608.1 1593.9L608.1 1598L608.2 1602.1L608.3 1606.2L608.4 1610.3L608.6 1614.5L608.8 1618.6L609 1622.6L609.2 1626.7L609.5 1630.7L609.8 1634.6L610.2 1638.6L610.5 1642.6L611 1646.6L611.4 1650.5L611.9 1654.5L612.4 1658.3L612.9 1662.2L613.5 1665.9L614.1 1669.6L614.8 1673.2L615.5 1676.5L616.3 1679.7L617.1 1682.7L617.9 1685.7L618.7 1688.6L619.5 1691.7L620.4 1694.9L621.3 1698.4L622.3 1702.1L623.3 1706.4L624.4 1711L625.5 1715.9L626.7 1721L627.9 1726.2L629.1 1731.5L630.4 1736.8L631.6 1741.9L632.8 1746.8L633.9 1751.5L635.1 1755.9L636.2 1760.2L637.3 1764.3L638.4 1768.3L639.5 1772.2L640.6 1776L641.6 1779.7L642.6 1783.5L643.6 1787.2L644.5 1791L645.4 1794.9L646.2 1798.9L647.1 1802.9L647.9 1807L648.7 1811L649.5 1815L650.2 1819L651 1822.9L651.7 1826.6L652.3 1830.3L653 1833.8L653.6 1837.2L654.2 1840.5L654.7 1843.7L655.3 1846.8L655.8 1849.9L656.3 1852.9L656.7 1855.8L657.1 1858.7L657.5 1861.6L657.9 1864.3L658.2 1867L658.6 1869.6L659.3 1872.1L660.4 1874.6L662 1877L664.6 1879.4L672.3 1878.7L674.5 1875.9L675.6 1873.2L676.1 1870.5L676.3 1867.7L676.1 1864.9L675.8 1862.1L675.4 1859.1L675 1856.2L674.5 1853.1L674 1850.1L673.5 1847L673 1843.8L672.5 1840.6L671.9 1837.3L671.3 1834L670.7 1830.5L670 1827L669.4 1823.3L668.6 1819.6L667.9 1815.7L667.2 1811.6L666.4 1807.6L665.6 1803.4L664.7 1799.3L663.8 1795.1L662.9 1791L662 1786.9L661 1782.9L660 1778.9L659 1775L657.9 1771.2L656.9 1767.3L655.8 1763.5L654.7 1759.5L653.6 1755.5L652.5 1751.4L651.4 1747.1L650.3 1742.6L649.1 1737.7L647.9 1732.6L646.7 1727.4L645.4 1722.1L644.2 1716.9L643 1711.8L641.9 1706.9L640.8 1702.2L639.7 1697.9L638.8 1693.9L637.8 1690.3L636.9 1686.9L636 1683.8L635.2 1680.9L634.5 1678.1L633.8 1675.3L633.1 1672.5L632.5 1669.6L631.9 1666.4L631.3 1663L630.7 1659.5L630.2 1655.9L629.7 1652.2L629.3 1648.5L628.9 1644.7L628.5 1640.9L628.1 1637L627.8 1633.2L627.5 1629.3L627.2 1625.5L627 1621.6L626.7 1617.6L626.5 1613.7L626.4 1609.7L626.3 1605.7L626.2 1601.8L626.1 1597.9L626.1 1594L626.2 1590.2L626.3 1586.4L626.5 1582.6L626.7 1578.9L627 1575.1L627.3 1571.3L627.6 1567.6L627.9 1563.8L628.3 1560.1L628.7 1556.5L629.1 1552.8L629.6 1549.3L630 1545.8L630.4 1542.4L630.9 1539L631.3 1535.7L631.9 1532.4L632.4 1529.2L633 1525.9L633.6 1522.6L634.3 1519.3L635 1515.9L635.8 1512.6L636.6 1509.2L637.4 1505.8L638.3 1502.4L639.2 1499L640.2 1495.7L641.2 1492.4L642.2 1489.2L643.3 1486L644.4 1482.8L645.5 1479.6L646.7 1476.4L648 1473.3L649.2 1470.2L650.5 1467.1L651.8 1464.1L653.1 1461L654.3 1458L655.4 1455.1L656.5 1452.1L657.6 1449.2L658.7 1446.3L659.8 1443.5L660.9 1440.6L662 1437.8L663.1 1435.1L664.3 1432.4L665.5 1429.7L666.8 1427L668.1 1424.5L669.3 1422.1L670.5 1419.9L671.7 1417.7L673 1415.6L674.5 1413.5L676.1 1411.3L678 1409L680.1 1406.7L682.7 1404.2Z" fill="#e4342a" stroke="#3a0d08" stroke-width="2.0" stroke-linejoin="round" /></g>
<rect x="182.5" y="1302.7" width="945" height="761.3999999999999" fill="none" stroke="#1a1718" stroke-width="5"/>
<rect x="369.2" y="2045.1" width="4.6" height="21.5" fill="#1a1718"/>
<rect x="180" y="1909.5" width="21.5" height="4.6" fill="#1a1718"/>
<rect x="558.2" y="2045.1" width="4.6" height="21.5" fill="#1a1718"/>
<rect x="180" y="1757.2" width="21.5" height="4.6" fill="#1a1718"/>
<rect x="747.2" y="2045.1" width="4.6" height="21.5" fill="#1a1718"/>
<rect x="180" y="1605.0" width="21.5" height="4.6" fill="#1a1718"/>
<rect x="936.2" y="2045.1" width="4.6" height="21.5" fill="#1a1718"/>
<rect x="180" y="1452.7" width="21.5" height="4.6" fill="#1a1718"/>
<text x="187.2" transform="scale(0.975 1)" y="2139.6" font-size="68" text-anchor="middle">0.0</text>
<text x="165.1" transform="scale(0.975 1)" y="2085.8" font-size="68" text-anchor="end">0.0</text>
<text x="381.0" transform="scale(0.975 1)" y="2139.6" font-size="68" text-anchor="middle">0.2</text>
<text x="165.1" transform="scale(0.975 1)" y="1933.5" font-size="68" text-anchor="end">0.2</text>
<text x="574.9" transform="scale(0.975 1)" y="2139.6" font-size="68" text-anchor="middle">0.4</text>
<text x="165.1" transform="scale(0.975 1)" y="1781.2" font-size="68" text-anchor="end">0.4</text>
<text x="768.7" transform="scale(0.975 1)" y="2139.6" font-size="68" text-anchor="middle">0.6</text>
<text x="165.1" transform="scale(0.975 1)" y="1629.0" font-size="68" text-anchor="end">0.6</text>
<text x="962.6" transform="scale(0.975 1)" y="2139.6" font-size="68" text-anchor="middle">0.8</text>
<text x="165.1" transform="scale(0.975 1)" y="1476.7" font-size="68" text-anchor="end">0.8</text>
<text x="1156.4" transform="scale(0.975 1)" y="2139.6" font-size="68" text-anchor="middle">1.0</text>
<text x="165.1" transform="scale(0.975 1)" y="1324.4" font-size="68" text-anchor="end">1.0</text>
<text x="187.2" transform="scale(0.975 1)" y="1188.5" font-size="68" text-anchor="middle">0</text>
<text x="429.5" transform="scale(0.975 1)" y="1188.5" font-size="68" text-anchor="middle">1</text>
<text x="671.8" transform="scale(0.975 1)" y="1188.5" font-size="68" text-anchor="middle">2</text>
<text x="914.1" transform="scale(0.975 1)" y="1188.5" font-size="68" text-anchor="middle">3</text>
<text x="1156.4" transform="scale(0.975 1)" y="1188.5" font-size="68" text-anchor="middle">4</text>
<text x="171.3" transform="scale(0.975 1)" y="1251.2" font-size="68" text-anchor="end"><tspan class="i">E</tspan><tspan font-size="36" dy="12.5">k</tspan><tspan dy="-12.5" dx="4">/10</tspan><tspan font-size="34" dy="-33">5</tspan></text>
<text class="i" x="671.8" transform="scale(0.975 1)" y="2191.9" font-size="68" text-anchor="middle">x</text>
<text class="i" transform="translate(41.0,1683.4) rotate(-90)" font-size="68" text-anchor="middle">z</text>
<text x="671.8" transform="scale(0.975 1)" y="2252.8" font-size="68" text-anchor="middle">(a2) <tspan class="i">E</tspan><tspan font-size="36" dy="12.5">k</tspan></text>
<text x="671.8" transform="scale(0.975 1)" y="2323.5" font-size="68" text-anchor="middle">(a) <tspan class="i">t</tspan> = 1.823</text>
<g filter="url(#cbb)">
<rect x="1452.20" y="1212.2" width="38.40" height="46.8" fill="#44356f"/>
<rect x="1490.00" y="1212.2" width="38.40" height="46.8" fill="#3f4088"/>
<rect x="1527.80" y="1212.2" width="38.40" height="46.8" fill="#404a90"/>
<rect x="1565.60" y="1212.2" width="38.40" height="46.8" fill="#424e93"/>
<rect x="1603.40" y="1212.2" width="38.40" height="46.8" fill="#455496"/>
<rect x="1641.20" y="1212.2" width="38.40" height="46.8" fill="#4a5e9f"/>
<rect x="1679.00" y="1212.2" width="38.40" height="46.8" fill="#5580b8"/>
<rect x="1716.80" y="1212.2" width="38.40" height="46.8" fill="#58a8d8"/>
<rect x="1754.60" y="1212.2" width="38.40" height="46.8" fill="#62bcdc"/>
<rect x="1792.40" y="1212.2" width="38.40" height="46.8" fill="#78c4cc"/>
<rect x="1830.20" y="1212.2" width="38.40" height="46.8" fill="#78c4b0"/>
<rect x="1868.00" y="1212.2" width="38.40" height="46.8" fill="#80c094"/>
<rect x="1905.80" y="1212.2" width="38.40" height="46.8" fill="#88c080"/>
<rect x="1943.60" y="1212.2" width="38.40" height="46.8" fill="#98c464"/>
<rect x="1981.40" y="1212.2" width="38.40" height="46.8" fill="#b0d048"/>
<rect x="2019.20" y="1212.2" width="38.40" height="46.8" fill="#d0dc38"/>
<rect x="2057.00" y="1212.2" width="38.40" height="46.8" fill="#f4e834"/>
<rect x="2094.80" y="1212.2" width="38.40" height="46.8" fill="#fcd034"/>
<rect x="2132.60" y="1212.2" width="38.40" height="46.8" fill="#f8a434"/>
<rect x="2170.40" y="1212.2" width="38.40" height="46.8" fill="#f08430"/>
<rect x="2208.20" y="1212.2" width="38.40" height="46.8" fill="#ec6c30"/>
<rect x="2246.00" y="1212.2" width="38.40" height="46.8" fill="#e85030"/>
<rect x="2283.80" y="1212.2" width="38.40" height="46.8" fill="#e43c2c"/>
<rect x="2321.60" y="1212.2" width="38.40" height="46.8" fill="#e4322e"/>
<rect x="2359.40" y="1212.2" width="38.40" height="46.8" fill="#d03430"/>
</g>
<rect x="1452.5" y="1212.2" width="945" height="46.799999999999955" fill="none" stroke="#1a1718" stroke-width="5"/>
<rect x="1686.5" y="1209.7" width="4.6" height="21.5" fill="#1a1718"/>
<rect x="1922.7" y="1209.7" width="4.6" height="21.5" fill="#1a1718"/>
<rect x="2158.9" y="1209.7" width="4.6" height="21.5" fill="#1a1718"/>
<g clip-path="url(#cp11)"><rect x="1450" y="1300.2" width="950" height="775" fill="#3f377b"/><path d="M1450 1480.4C1456.6 1479.5 1465.6 1479.1 1469.8 1477.8C1473 1476.8 1473.1 1472.5 1475.1 1472.5C1477.1 1472.5 1479.1 1475 1481.7 1477.8C1484.6 1480.9 1488.8 1487.3 1492.3 1491C1495.8 1494.7 1499.6 1499.4 1502.9 1500.3C1506.2 1501.1 1509.5 1500 1512.1 1496.3C1514.8 1492.5 1515.9 1486.1 1518.7 1477.8C1521.6 1469.4 1525.3 1456.6 1529.3 1446.1C1533.3 1435.5 1537.2 1424.9 1542.5 1414.3C1547.8 1403.8 1553.5 1392.3 1561 1382.6C1568.5 1372.9 1577.8 1364.1 1587.5 1356.2C1597.2 1348.2 1608.6 1340.7 1619.2 1335C1629.8 1329.3 1639.5 1325.1 1650.9 1321.8C1662.4 1318.5 1675.2 1316.7 1687.9 1315.2C1700.7 1313.6 1714.4 1313 1727.6 1312.5C1740.8 1312.1 1756.7 1311.9 1767.3 1312.5C1777.8 1313.2 1785.3 1313.6 1791.1 1316.5C1796.8 1319.4 1796.8 1325.8 1801.6 1329.7C1806.5 1333.7 1812.6 1337.2 1820.1 1340.3C1827.6 1343.4 1838.6 1344.7 1846.6 1348.2C1854.5 1351.8 1861.1 1356.2 1867.7 1361.5C1874.3 1366.7 1880.1 1372.9 1886.2 1380C1892.4 1387 1898.1 1394.5 1904.7 1403.8C1911.3 1413 1918.8 1424.5 1925.9 1435.5C1932.9 1446.5 1940 1458.4 1947 1469.8C1954.1 1481.3 1961.1 1492.3 1968.2 1504.2C1975.2 1516.1 1983.2 1529.8 1989.3 1541.2C1995.5 1552.7 2000.8 1562.4 2005.2 1573C2009.6 1583.5 2012.9 1593.2 2015.8 1604.7C2018.6 1616.1 2020.4 1629.5 2022.4 1641.7C2024.4 1653.9 2026.6 1666.6 2027.9 1677.9C2029.2 1689.3 2029.9 1697.8 2030 1709.7C2030.1 1721.6 2029.8 1733.9 2028.7 1749.3C2027.6 1764.7 2025.8 1784.6 2023.4 1802.2C2021 1819.8 2017.5 1839.6 2014.1 1855.1C2010.8 1870.5 2007.1 1882.4 2003.6 1894.7C2000 1907.1 1996.1 1919 1993 1929.1C1989.9 1939.2 1986.9 1948 1985.1 1955.5C1983.2 1963 1983 1967.9 1981.9 1974C1979.4 1975.1 1978 1976.2 1974.5 1977.2C1970.6 1978.3 1964.8 1980.5 1958.6 1980.6C1952.5 1980.8 1945 1979.1 1937.5 1978C1930 1976.9 1921.2 1974 1913.7 1974C1906.2 1974 1899.1 1975.4 1892.5 1978C1885.9 1980.6 1880.6 1984.8 1874 1989.9C1867.4 1995 1860.8 2002.2 1852.9 2008.4C1844.9 2014.6 1832.8 2022.5 1826.4 2026.9C1821.2 2030.5 1820.7 2032.5 1814.8 2034.8C1807.2 2037.9 1792.8 2042.3 1780.5 2045.4C1768.1 2048.5 1756.2 2051.2 1740.8 2053.4C1725.4 2055.6 1704.7 2057.5 1687.9 2058.6C1671.2 2059.7 1655.3 2060.2 1640.4 2060C1625.4 2059.7 1611.3 2058.9 1598.1 2057.3C1584.8 2055.8 1572.5 2054 1561 2050.7C1549.6 2047.4 1539 2042.8 1529.3 2037.5C1519.6 2032.2 1510.4 2026 1502.9 2019C1495.4 2011.9 1489.2 2004 1484.4 1995.2C1479.5 1986.4 1476.4 1976.2 1473.8 1966.1C1471.2 1956 1472.5 1941.9 1468.5 1934.4C1464.5 1926.9 1456.2 1925.6 1450 1921.2C1450 1774.3 1450 1627.3 1450 1480.4Z" fill="#5b8fd0" stroke="#2a1c3a" stroke-width="2.6" /><path d="M1513.5 1641.7C1513.2 1626 1513.2 1604.2 1513.5 1588.8C1513.7 1573.4 1513.9 1559.7 1514.8 1549.2C1515.7 1538.6 1515.9 1531.5 1518.7 1525.4C1521.6 1519.2 1525.8 1516.1 1532 1512.1C1538.1 1508.2 1548.3 1505.5 1555.8 1501.6C1563.2 1497.6 1570.3 1494.1 1576.9 1488.4C1583.5 1482.6 1589.2 1475.1 1595.4 1467.2C1601.6 1459.3 1607.3 1449.1 1613.9 1440.8C1620.5 1432.4 1627.1 1424 1635.1 1417C1643 1409.9 1651.8 1403.1 1661.5 1398.5C1671.2 1393.8 1682.7 1390.5 1693.2 1389.2C1703.8 1387.9 1716.6 1388.6 1725 1390.5C1733.3 1392.5 1737.7 1395.8 1743.5 1401.1C1749.2 1406.4 1753.2 1413 1759.3 1422.3C1765.5 1431.5 1773 1444.7 1780.5 1456.6C1788 1468.5 1796.3 1481.3 1804.3 1493.6C1812.2 1506 1821 1519.2 1828.1 1530.7C1835.1 1542.1 1840.8 1551.8 1846.6 1562.4C1852.3 1573 1858 1583.5 1862.4 1594.1C1866.8 1604.7 1869.9 1615.3 1873 1625.8C1876.1 1636.4 1878.8 1648 1880.9 1657.6C1883.1 1667.1 1885.3 1672.3 1885.7 1683.2C1886.1 1694.1 1884.6 1709.7 1883.6 1722.9C1882.6 1736.1 1881.4 1749.3 1879.6 1762.5C1877.9 1775.8 1875.9 1789 1873 1802.2C1870.1 1815.4 1866.4 1828.6 1862.4 1841.8C1858.5 1855.1 1854.1 1869.6 1849.2 1881.5C1844.4 1893.4 1839.1 1904 1833.4 1913.2C1827.6 1922.5 1822.3 1930.4 1814.8 1937C1807.4 1943.6 1798.5 1948.5 1788.4 1952.9C1778.3 1957.3 1766.4 1960.2 1754 1963.5C1741.7 1966.8 1727.6 1969.9 1714.4 1972.7C1701.2 1975.6 1687.9 1978 1674.7 1980.6C1661.5 1983.3 1647.8 1986.4 1635.1 1988.6C1622.3 1990.8 1609.5 1993.2 1598.1 1993.9C1586.6 1994.5 1575.1 1994.5 1566.3 1992.5C1557.5 1990.6 1551.3 1987.3 1545.2 1982C1539 1976.7 1533.5 1968.8 1529.3 1960.8C1525.1 1952.9 1522.5 1945.4 1520.1 1934.4C1517.6 1923.4 1515.9 1912.4 1514.8 1894.7C1513.7 1877.1 1513.5 1852.9 1513.5 1828.6C1513.5 1804.4 1514.6 1773.5 1514.8 1749.3C1515 1725.1 1515 1701.2 1514.8 1683.2C1514.6 1665.3 1513.7 1657.4 1513.5 1641.7Z" fill="#3f377b" stroke="#2a1c3a" stroke-width="2.6" /><path d="M1911 1324.4C1911 1321.1 1913.7 1316.5 1919 1315.2C1926.9 1313.2 1943.2 1312.5 1958.6 1312.5C1974.1 1312.5 1993.9 1313.9 2011.5 1315.2C2029.1 1316.5 2046.8 1318.5 2064.4 1320.5C2082 1322.5 2099.6 1324.2 2117.3 1327.1C2134.9 1329.9 2152.5 1333.3 2170.1 1337.7C2187.8 1342.1 2207.6 1347.4 2223 1353.5C2238.4 1359.7 2251.7 1367.6 2262.7 1374.7C2273.7 1381.7 2280.3 1388.8 2289.1 1395.8C2297.9 1402.9 2306.7 1410.4 2315.5 1417C2324.4 1423.6 2333.2 1429.8 2342 1435.5C2350.8 1441.2 2360.1 1447.8 2368.4 1451.3C2376.8 1454.9 2384.7 1454.9 2392.2 1456.6C2399.7 1458.4 2406.3 1460.2 2413.4 1461.9C2413.4 1580.6 2413.4 1699.3 2413.4 1818.1C2408.3 1825.1 2401.9 1832.2 2398 1839.2C2394.2 1846.3 2391.9 1850.4 2390.1 1860.4C2388 1871.8 2387.5 1893 2385.6 1907.9C2383.8 1922.9 2381.9 1937.9 2379 1950.2C2376.1 1962.6 2373.3 1972.3 2368.4 1982C2363.6 1991.7 2357 2000.5 2349.9 2008.4C2342.9 2016.3 2334.9 2023.4 2326.1 2029.6C2317.3 2035.7 2307.6 2041 2297 2045.4C2286.5 2049.8 2275 2053.6 2262.7 2056C2250.3 2058.4 2238.4 2059.5 2223 2060C2207.6 2060.4 2187.8 2059.7 2170.1 2058.6C2152.5 2057.5 2134.9 2055.3 2117.3 2053.4C2099.6 2051.4 2079.8 2049.4 2064.4 2046.7C2049 2044.1 2035.7 2041.2 2024.7 2037.5C2013.7 2033.7 2004.9 2029.6 1998.3 2024.3C1991.7 2019 1987.7 2011.9 1985.1 2005.8C1982.4 1999.6 1983.3 1993.4 1982.4 1987.3C1985.1 1984.2 1985.5 1979.3 1990.4 1978C1995.2 1976.7 2002 1978.1 2011.5 1979.3C2023.8 1980.9 2046.8 1984.8 2064.4 1987.3C2082 1989.7 2099.6 1991.9 2117.3 1993.9C2134.9 1995.9 2152.5 1997.8 2170.1 1999.2C2187.8 2000.5 2206.3 2001.6 2223 2001.8C2239.8 2002 2258.7 2002 2270.6 2000.5C2281.8 1999 2288.7 1997 2294.4 1992.5C2300.1 1988.1 2303 1983.4 2305 1974C2307 1964.3 2306.7 1947.6 2306.3 1934.4C2305.9 1921.2 2304.3 1907.9 2302.3 1894.7C2300.3 1881.5 2297 1868.3 2294.4 1855.1C2291.8 1841.8 2288.9 1828.6 2286.5 1815.4C2284 1802.2 2281.6 1789 2279.9 1775.8C2278.1 1762.5 2276.8 1749.3 2275.9 1736.1C2275 1722.9 2274.8 1710 2274.6 1696.4C2274.3 1682.9 2274.3 1668.4 2274.6 1654.9C2274.8 1641.4 2275.2 1627.2 2275.9 1615.3C2276.5 1603.4 2277.2 1594.1 2278.5 1583.5C2279.9 1573 2281.2 1561.5 2283.8 1551.8C2286.5 1542.1 2290.9 1534.2 2294.4 1525.4C2297.9 1516.6 2301.9 1507.7 2305 1498.9C2308.1 1490.1 2312 1481.3 2312.9 1472.5C2313.8 1463.7 2313.8 1454.4 2310.3 1446.1C2306.7 1437.7 2299.7 1429.3 2291.8 1422.3C2283.8 1415.2 2274.1 1409.7 2262.7 1403.8C2251.2 1397.8 2238.4 1392.1 2223 1386.6C2207.6 1381.1 2187.8 1374.9 2170.1 1370.7C2152.5 1366.5 2134.9 1364.1 2117.3 1361.5C2099.6 1358.8 2082 1356.8 2064.4 1354.8C2046.8 1352.9 2029.1 1351.5 2011.5 1349.6C1993.9 1347.6 1974.1 1345.4 1958.6 1342.9C1943.2 1340.5 1926.9 1338.1 1919 1335C1913.4 1332.9 1911 1327.7 1911 1324.4Z" fill="#5b8fd0" stroke="#2a1c3a" stroke-width="2.6" /><path d="M1575.6 1403.8C1576 1398.9 1578.4 1391.9 1582.2 1385.2C1585.9 1378.6 1591.4 1370.7 1598.1 1364.1C1604.7 1357.5 1613 1351.1 1621.8 1345.6C1630.7 1340.1 1639.9 1335 1650.9 1331C1661.9 1327.1 1675.2 1324 1687.9 1321.8C1700.7 1319.6 1716.6 1318.3 1727.6 1317.8C1738.6 1317.4 1747.7 1317.6 1754 1319.2C1760.3 1320.7 1764.2 1323.6 1765.9 1327.1C1767.7 1330.6 1766.6 1336.3 1764.6 1340.3C1762.6 1344.3 1760.1 1348 1754 1350.9C1747.9 1353.7 1737.7 1355.3 1727.6 1357.5C1717.5 1359.7 1704.2 1361.2 1693.2 1364.1C1682.2 1367 1671.2 1370.7 1661.5 1374.7C1651.8 1378.6 1643.4 1383 1635.1 1387.9C1626.7 1392.7 1618.3 1399.3 1611.3 1403.8C1604.2 1408.2 1598.1 1412.6 1592.8 1414.3C1587.5 1416.1 1582.4 1416.1 1579.5 1414.3C1576.7 1412.6 1575.1 1408.6 1575.6 1403.8Z" fill="#88cf8c" stroke="#2a1c3a" stroke-width="2.6" /><ellipse cx="1690.6" cy="1338.2" rx="41.8" ry="7.9" transform="rotate(-15.0 1690.6 1338.2)" fill="#f6a730" stroke="#2a1c3a" stroke-width="2.2" /><path d="M1476.4 1759.9C1477.6 1759 1481.7 1765 1483 1770.5C1484.8 1777.5 1485.9 1788.1 1487 1802.2C1488.1 1816.3 1489 1837.4 1489.7 1855.1C1490.3 1872.7 1491 1894.7 1491 1907.9C1491 1919.9 1490.5 1928.4 1489.7 1934.4C1489 1938.9 1487 1943.6 1485.7 1943.6C1484.4 1943.6 1482.2 1938.9 1481.7 1934.4C1480.6 1924 1480 1899.1 1479.1 1881.5C1478.2 1863.9 1477 1846.3 1476.4 1828.6C1475.9 1811 1475.9 1787.2 1475.9 1775.8C1475.9 1768.6 1475.2 1760.8 1476.4 1759.9Z" fill="#88cf8c" stroke="#2a1c3a" stroke-width="2.6" /><path d="M1594.1 2032.2C1594.5 2029.1 1597.6 2024.2 1603.3 2021.6C1610.2 2018.5 1621 2016.1 1635.1 2013.7C1649.2 2011.3 1670.3 2008.9 1687.9 2007.1C1705.6 2005.2 1726.3 2003.3 1740.8 2002.6C1755.4 2001.9 1767.3 2001.7 1775.2 2003.1C1782 2004.3 1787.5 2007.5 1788.4 2011.1C1789.3 2014.6 1786.1 2020.2 1780.5 2024.3C1774.7 2028.5 1765.1 2033.1 1754 2036.2C1743 2039.3 1729.8 2041.2 1714.4 2042.8C1699 2044.3 1676.9 2045 1661.5 2045.4C1646.1 2045.9 1632 2046.3 1621.8 2045.4C1612.1 2044.6 1605.3 2042.3 1600.7 2040.1C1596.5 2038.1 1593.6 2035.3 1594.1 2032.2Z" fill="#88cf8c" stroke="#2a1c3a" stroke-width="2.6" /><path d="M2069.7 2021.6C2068.8 2018.8 2074.4 2014.8 2080.2 2013.7C2088.2 2012.2 2102.3 2011.9 2117.3 2012.4C2132.2 2012.8 2152.5 2014.6 2170.1 2016.3C2187.8 2018.1 2208 2020.5 2223 2023C2238 2025.4 2252.5 2028.2 2260 2030.9C2264.8 2032.6 2268 2036.4 2268 2038.8C2268 2041.2 2264.6 2044.6 2260 2045.4C2252.5 2046.7 2238 2047.1 2223 2046.7C2208 2046.4 2187.8 2044.9 2170.1 2043.3C2152.5 2041.8 2131.4 2039.6 2117.3 2037.5C2103.2 2035.4 2093.5 2033.5 2085.5 2030.9C2077.7 2028.3 2070.6 2024.5 2069.7 2021.6Z" fill="#88cf8c" stroke="#2a1c3a" stroke-width="2.6" /><path d="M2368.4 1501.6C2363.8 1502.5 2355.6 1506.9 2349.9 1512.1C2344.2 1517.4 2338.9 1525.4 2334.1 1533.3C2329.2 1541.2 2324.8 1550.5 2320.8 1559.7C2316.9 1569 2313.1 1578.7 2310.3 1588.8C2307.4 1599 2305.2 1609.5 2303.6 1620.5C2302.1 1631.6 2301.6 1639.4 2301 1654.9C2300.3 1672 2299.5 1702.7 2299.7 1722.9C2299.9 1743 2301 1758.1 2302.3 1775.8C2303.6 1793.4 2305.4 1813.2 2307.6 1828.6C2309.8 1844.1 2312.5 1855.9 2315.5 1868.3C2318.6 1880.6 2322.2 1892.5 2326.1 1902.7C2330.1 1912.8 2334.9 1922.3 2339.3 1929.1C2343.7 1935.9 2348.6 1942.3 2352.6 1943.6C2356.5 1945 2360.2 1941.8 2363.1 1937C2366.2 1932 2368.6 1923.4 2371.1 1913.2C2373.5 1903.1 2375.7 1890.3 2377.7 1876.2C2379.7 1862.1 2381.6 1845.4 2383 1828.6C2384.3 1811.9 2384.9 1795.6 2385.6 1775.8C2386.3 1755.9 2386.6 1732 2386.9 1709.7C2387.2 1687.3 2387.4 1661.8 2387.5 1641.7C2387.5 1621.6 2387.6 1604.2 2387.5 1588.8C2387.3 1573.4 2387.1 1560.2 2386.4 1549.2C2385.7 1538.1 2384.4 1529.8 2383 1522.7C2381.5 1515.7 2380.1 1510.4 2377.7 1506.9C2375.3 1503.3 2373 1500.7 2368.4 1501.6Z" fill="#88cf8c" stroke="#2a1c3a" stroke-width="2.6" /><path d="M2371.1 1549.2C2367.8 1550 2362.3 1556.2 2357.8 1562.4C2353.4 1568.6 2348.6 1577.8 2344.6 1586.2C2340.7 1594.5 2336.9 1603.4 2334.1 1612.6C2331.2 1621.9 2329 1632.4 2327.4 1641.7C2325.9 1651 2325.5 1656.8 2324.8 1668.1C2324.1 1679.5 2323 1696.1 2323.5 1709.7C2323.9 1723.2 2325.7 1737 2327.4 1749.3C2329.2 1761.7 2331.4 1773.1 2334.1 1783.7C2336.7 1794.3 2340 1804 2343.3 1812.8C2346.6 1821.6 2350.8 1833.9 2353.9 1836.6C2357 1839.2 2359.8 1833.3 2361.8 1828.6C2364.2 1822.9 2366.2 1811.9 2368.4 1802.2C2370.6 1792.5 2373 1781.5 2375 1770.5C2377 1759.4 2379 1748.4 2380.3 1736.1C2381.6 1723.8 2382.4 1710 2383 1696.4C2383.5 1682.9 2383.6 1668.4 2383.8 1654.9C2383.9 1641.4 2384.1 1628 2383.8 1615.3C2383.4 1602.5 2382.7 1587.9 2381.6 1578.2C2380.6 1568.6 2379.4 1561.9 2377.7 1557.1C2376.1 1552.7 2374.4 1548.3 2371.1 1549.2Z" fill="#f6a730" stroke="#2a1c3a" stroke-width="2.6" /><path d="M2368.4 1602C2365.3 1602.5 2361.2 1611.3 2357.8 1617.9C2354.5 1624.5 2351 1633.3 2348.6 1641.7C2346.2 1650.1 2344.4 1659 2343.3 1668.1C2342.2 1677.3 2341.5 1687.3 2342 1696.4C2342.4 1705.6 2344.2 1714.1 2345.9 1722.9C2347.7 1731.7 2350.6 1742.9 2352.6 1749.3C2354.3 1754.9 2355.9 1761.2 2357.8 1761.2C2359.8 1761.2 2362.5 1755.1 2364.5 1749.3C2366.7 1742.9 2369.1 1731.7 2371.1 1722.9C2373 1714.1 2374.9 1705.6 2376.4 1696.4C2377.8 1687.3 2379 1677.3 2379.5 1668.1C2380.1 1659 2380.1 1650.5 2379.5 1641.7C2379 1632.9 2378.2 1621.9 2376.4 1615.3C2374.5 1608.6 2371.5 1601.6 2368.4 1602Z" fill="#dc3029" stroke="#2a1c3a" stroke-width="2.6" /><g filter="url(#bl3)" opacity=".7"><rect x="2390" y="1560" width="8" height="320" fill="#120c18"/></g><g filter="url(#bl3)" opacity=".4"><rect x="1452" y="1470" width="8" height="480" fill="#120c18"/></g><path d="M1776.5 1377.3C1777 1372.7 1777.6 1365.6 1780.5 1362.8C1783.3 1359.9 1787.7 1359.5 1793.7 1360.1C1800.3 1360.8 1811.3 1363 1820.1 1366.7C1828.9 1370.5 1838.6 1376.4 1846.6 1382.6C1854.5 1388.8 1860.7 1394.9 1867.7 1403.8C1874.8 1412.6 1881.8 1424.5 1888.9 1435.5C1895.9 1446.5 1903 1458.4 1910 1469.8C1917.1 1481.3 1924.1 1492.3 1931.2 1504.2C1938.2 1516.1 1945.7 1529.3 1952.3 1541.2C1958.9 1553.1 1965.5 1564.1 1970.8 1575.6C1976.1 1587.1 1980.3 1599 1984.1 1610C1987.8 1621 1990.3 1627.1 1993.3 1641.7C1996.8 1658.3 2003.4 1691.7 2004.9 1709.7C2006.4 1727.5 2003.8 1734.8 2002.3 1749.3C2000.7 1763.9 1998.3 1781.5 1995.6 1796.9C1993 1812.3 1989.7 1826.9 1986.4 1841.8C1983.1 1856.8 1979.3 1873.1 1975.8 1886.8C1972.3 1900.5 1968.8 1914.1 1965.2 1923.8C1961.7 1933.5 1958.8 1939.9 1954.7 1945C1950.5 1950 1945.2 1953.1 1940.1 1954.2C1935.1 1955.3 1929.5 1954.4 1924.3 1951.6C1919 1948.7 1912.6 1944.3 1908.4 1937C1904.2 1929.8 1901.1 1919.4 1899.1 1907.9C1897.2 1896.5 1896.7 1881.5 1896.5 1868.3C1896.3 1855.1 1897.2 1844.1 1897.8 1828.6C1898.5 1813.2 1899.6 1793.4 1900.5 1775.8C1901.3 1758.1 1904.1 1746.7 1903.1 1722.9C1902.1 1697.9 1897.4 1647.3 1894.2 1625.8C1891.9 1611 1887.6 1604.2 1883.6 1594.1C1879.6 1584 1875.2 1574.7 1870.4 1565C1865.5 1555.3 1860.2 1546.1 1854.5 1535.9C1848.8 1525.8 1842.2 1514.8 1836 1504.2C1829.8 1493.6 1823.7 1483.1 1817.5 1472.5C1811.3 1461.9 1804.3 1450.5 1799 1440.8C1793.7 1431.1 1789.3 1422.7 1785.8 1414.3C1782.2 1406 1779.4 1396.7 1777.8 1390.5C1776.4 1384.7 1776.1 1381.9 1776.5 1377.3Z" fill="#88cf8c" stroke="#2a1c3a" stroke-width="2.6" /><path d="M1801.6 1395.8C1804.1 1391.4 1809.6 1383.9 1814.8 1382.6C1820.1 1381.3 1826.7 1383.9 1833.4 1387.9C1840 1391.9 1847.5 1398.5 1854.5 1406.4C1861.6 1414.3 1868.6 1425.3 1875.7 1435.5C1882.7 1445.6 1889.8 1456.2 1896.8 1467.2C1903.9 1478.2 1910.9 1490.1 1918 1501.6C1925 1513 1932.5 1524.5 1939.1 1535.9C1945.7 1547.4 1952.1 1558.9 1957.6 1570.3C1963.1 1581.8 1968.2 1593.2 1972.2 1604.7C1976.1 1616.1 1978.8 1623.3 1981.4 1639.1C1984.7 1658.8 1990.8 1701 1991.7 1722.9C1992.5 1744.4 1988.6 1755.5 1986.4 1770.5C1984.2 1785.4 1981.5 1798.7 1978.5 1812.8C1975.4 1826.9 1971.4 1841.8 1967.9 1855.1C1964.4 1868.3 1960.6 1881.5 1957.3 1892.1C1954 1902.7 1950.9 1913 1948.1 1918.5C1945.9 1922.6 1942.8 1925.1 1940.1 1925.1C1937.5 1925.1 1934.3 1922.6 1932.2 1918.5C1929.5 1913.5 1926.2 1905.3 1924.3 1894.7C1922.3 1884.1 1921.1 1873 1920.3 1855.1C1919.4 1835.2 1921.5 1811.4 1919 1775.8C1916.2 1735.8 1908 1647.3 1903.4 1615.3C1901.3 1600.2 1896.1 1594.1 1891.5 1583.5C1886.9 1573 1881.4 1562.4 1875.7 1551.8C1869.9 1541.2 1863.3 1530.7 1857.1 1520.1C1851 1509.5 1844.8 1498.9 1838.6 1488.4C1832.5 1477.8 1825.4 1466.3 1820.1 1456.6C1814.8 1446.9 1810.2 1438.1 1806.9 1430.2C1803.6 1422.3 1801.2 1414.8 1800.3 1409C1799.4 1403.3 1799.2 1400.2 1801.6 1395.8Z" fill="#f6a730" stroke="#2a1c3a" stroke-width="2.6" /><path d="M1817.5 1419.6C1819 1414.8 1821.5 1407.7 1825.4 1406.4C1829.4 1405.1 1835.6 1407.7 1841.3 1411.7C1847 1415.7 1853.2 1422.3 1859.8 1430.2C1866.4 1438.1 1873.9 1449.1 1880.9 1459.3C1888 1469.4 1895 1480 1902.1 1491C1909.1 1502 1916.6 1513.9 1923.2 1525.4C1929.9 1536.8 1936 1548.3 1941.8 1559.7C1947.5 1571.2 1953.2 1582.7 1957.6 1594.1C1962 1605.6 1965.8 1612.5 1968.2 1628.5C1971.7 1652.1 1977.6 1711.5 1978.5 1736.1C1979.1 1754.1 1975.4 1762.1 1973.2 1775.8C1971 1789.4 1968.1 1804.8 1965.2 1818.1C1962.4 1831.3 1958.8 1844.5 1956 1855.1C1953.1 1865.6 1950.3 1875.6 1948.1 1881.5C1946.4 1886 1944.3 1890.8 1942.8 1890.8C1941.2 1890.8 1939.9 1885.9 1938.8 1881.5C1937.5 1876.4 1936 1870 1934.8 1860.4C1933.5 1849.3 1931.8 1833.9 1930.9 1815.4C1929.9 1796.9 1932.5 1778.9 1929 1749.3C1925.1 1716 1913.2 1642.9 1907.4 1615.3C1904.2 1600.1 1899 1594.1 1894.2 1583.5C1889.3 1573 1884 1562.4 1878.3 1551.8C1872.6 1541.2 1866 1530.7 1859.8 1520.1C1853.6 1509.5 1847 1498.5 1841.3 1488.4C1835.6 1478.2 1829.6 1468.1 1825.4 1459.3C1821.2 1450.5 1817.5 1442.1 1816.2 1435.5C1814.8 1428.9 1815.9 1424.5 1817.5 1419.6Z" fill="#e8382a" stroke="#2a1c3a" stroke-width="2.6" /><g filter="url(#bl2)"><path d="M1841.2 1452.3L1842.9 1456.2L1844.6 1460.2L1846.3 1464.2L1847.9 1468.2L1849.5 1472.2L1851 1476.1L1852.6 1480.1L1854.1 1484L1855.6 1487.8L1857.2 1491.7L1858.7 1495.5L1860.2 1499.2L1861.7 1503L1863.3 1506.7L1864.8 1510.5L1866.4 1514.2L1868.1 1518L1869.8 1521.7L1871.5 1525.4L1873.3 1529.1L1875.2 1532.7L1877 1536.2L1878.9 1539.7L1880.9 1543.1L1882.8 1546.4L1884.7 1549.7L1886.6 1553.1L1888.5 1556.4L1890.4 1559.8L1892.3 1563.1L1894.1 1566.5L1895.9 1569.8L1897.6 1573.2L1899.4 1576.5L1901.1 1579.9L1902.8 1583.2L1904.5 1586.6L1906.1 1590L1907.8 1593.4L1909.4 1596.7L1911 1600L1912.5 1603.3L1914 1606.5L1915.4 1609.8L1916.7 1612.9L1918 1616.1L1919.2 1619.3L1920.3 1622.5L1921.4 1625.7L1922.5 1628.9L1923.5 1632.2L1924.5 1635.4L1925.4 1638.6L1926.3 1641.8L1927.1 1645L1927.8 1648.2L1928.5 1651.3L1929.2 1654.1L1929.7 1656.8L1930.2 1659.3L1930.6 1661.9L1931 1664.7L1931.4 1667.8L1931.8 1671.4L1932.3 1675.6L1932.8 1680.4L1933.3 1686L1933.9 1692.4L1934.5 1699.3L1935.2 1706.6L1935.8 1714.2L1936.4 1721.8L1936.9 1729.3L1937.3 1736.6L1937.5 1743.3L1937.7 1749.5L1937.6 1755L1937.5 1760.3L1937.2 1765.4L1936.8 1770.4L1936.4 1775.2L1935.9 1780.1L1935.4 1785L1934.8 1790.1L1934.3 1795.3L1933.8 1800.6L1933.3 1806L1932.8 1811.6L1932.5 1817.2L1932.3 1823L1932.3 1828.7L1932.5 1834.3L1932.8 1839.7L1933.4 1844.8L1934.2 1849.7L1935.1 1854L1936.3 1857.9L1937.8 1861.4L1939.7 1864.5L1949.2 1865.4L1951.7 1862.7L1953.8 1859.7L1955.7 1856.1L1957.5 1852L1959.2 1847.5L1960.8 1842.6L1962.3 1837.4L1963.6 1831.9L1964.8 1826.3L1965.7 1820.5L1966.5 1814.8L1967.1 1809.2L1967.6 1803.8L1968.1 1798.7L1968.6 1793.7L1969.2 1788.7L1969.7 1783.7L1970.2 1778.5L1970.7 1773.1L1971.1 1767.6L1971.4 1761.7L1971.6 1755.6L1971.7 1749.2L1971.5 1742.3L1971.2 1734.9L1970.8 1727.3L1970.3 1719.4L1969.7 1711.5L1969.1 1703.8L1968.4 1696.3L1967.8 1689.2L1967.2 1682.8L1966.6 1677L1966.1 1672.1L1965.6 1667.6L1965.2 1663.7L1964.7 1660L1964.2 1656.6L1963.6 1653.4L1963.1 1650.3L1962.4 1647.1L1961.7 1643.9L1961 1640.5L1960.1 1636.8L1959.1 1633.2L1958.2 1629.5L1957.1 1625.8L1956 1622.2L1954.9 1618.5L1953.7 1614.8L1952.4 1611.2L1951.1 1607.5L1949.7 1603.8L1948.2 1600.1L1946.7 1596.4L1945.1 1592.8L1943.4 1589.1L1941.8 1585.5L1940.1 1582L1938.3 1578.4L1936.6 1574.9L1934.9 1571.5L1933.2 1568L1931.4 1564.5L1929.6 1560.9L1927.7 1557.4L1925.9 1553.9L1924 1550.4L1922.1 1546.8L1920.2 1543.3L1918.2 1539.8L1916.2 1536.3L1914.2 1532.7L1912.1 1529.1L1909.9 1525.6L1907.7 1522.1L1905.3 1518.7L1902.9 1515.4L1900.4 1512.1L1897.9 1508.9L1895.4 1505.7L1892.8 1502.6L1890.2 1499.5L1887.5 1496.4L1884.9 1493.3L1882.2 1490.3L1879.5 1487.2L1876.8 1484.2L1874.1 1481.2L1871.4 1478.2L1868.7 1475.1L1866 1472L1863.3 1468.9L1860.6 1465.6L1858 1462.3L1855.3 1459L1852.8 1455.6L1850.2 1452.1L1847.8 1448.5Z" fill="#c22f22" stroke="#2a1c3a" stroke-width="2.2" stroke-linejoin="round" /><path d="M1878.4 1521.1L1880.3 1524.8L1882.2 1528.3L1884 1531.9L1885.9 1535.5L1887.7 1539L1889.5 1542.5L1891.2 1546L1892.9 1549.5L1894.7 1553L1896.4 1556.5L1898.1 1559.9L1899.8 1563.4L1901.4 1566.9L1903.1 1570.3L1904.8 1573.7L1906.5 1577.1L1908.1 1580.5L1909.8 1583.9L1911.5 1587.4L1913.2 1590.7L1914.8 1594.1L1916.4 1597.5L1918 1600.8L1919.5 1604.1L1920.9 1607.4L1922.3 1610.7L1923.6 1613.9L1924.8 1617.2L1926 1620.5L1927.1 1623.8L1928.2 1627.1L1929.3 1630.4L1930.2 1633.7L1931.2 1637L1932.1 1640.3L1932.9 1643.5L1933.7 1646.8L1934.4 1650L1935 1652.9L1935.6 1655.6L1936.1 1658.3L1936.5 1661L1936.9 1663.9L1937.4 1667.1L1937.8 1670.7L1938.2 1674.9L1938.7 1679.8L1939.3 1685.4L1939.9 1691.8L1940.5 1698.8L1941.2 1706.1L1941.8 1713.7L1942.4 1721.4L1942.9 1729L1943.3 1736.3L1943.5 1743.1L1943.7 1749.4L1943.6 1755.1L1943.5 1760.6L1943.2 1765.8L1942.8 1770.8L1942.4 1775.8L1941.9 1780.7L1941.3 1785.7L1940.9 1790.7L1940.6 1795.9L1940.5 1801.2L1940.5 1806.7L1940.7 1812.3L1941.2 1818.1L1942.1 1824L1943.7 1829.8L1952.3 1830.7L1955 1825.3L1957 1819.7L1958.6 1814.1L1959.9 1808.5L1960.9 1803.1L1961.8 1798L1962.5 1793.1L1963.2 1788.1L1963.7 1783L1964.3 1777.9L1964.7 1772.6L1965.2 1767.2L1965.5 1761.5L1965.6 1755.5L1965.7 1749.2L1965.5 1742.5L1965.2 1735.2L1964.8 1727.6L1964.3 1719.8L1963.7 1712L1963.1 1704.3L1962.4 1696.8L1961.8 1689.8L1961.2 1683.3L1960.6 1677.6L1960.1 1672.7L1959.7 1668.3L1959.2 1664.4L1958.7 1660.8L1958.3 1657.6L1957.7 1654.4L1957.2 1651.4L1956.6 1648.4L1955.9 1645.2L1955.1 1641.8L1954.3 1638.3L1953.3 1634.7L1952.4 1631.1L1951.4 1627.5L1950.3 1623.9L1949.2 1620.3L1948 1616.8L1946.7 1613.2L1945.4 1609.6L1944.1 1606L1942.7 1602.4L1941.1 1598.8L1939.6 1595.2L1938 1591.6L1936.3 1588.1L1934.7 1584.6L1933 1581.1L1931.2 1577.6L1929.5 1574.1L1927.8 1570.7L1926 1567.2L1924.1 1563.7L1922.2 1560.3L1920.3 1556.9L1918.3 1553.4L1916.3 1550L1914.2 1546.6L1912.1 1543.2L1909.9 1539.8L1907.7 1536.5L1905.4 1533.1L1903.1 1529.7L1900.7 1526.4L1898.3 1523.1L1895.9 1519.8L1893.5 1516.5L1891.1 1513.2Z" fill="#d8352a" stroke="#2a1c3a" stroke-width="2.2" stroke-linejoin="round" /></g><g filter="url(#bl3)" opacity=".5"><path d="M1894.6 1566.2L1896 1569.7L1897.5 1573.2L1898.9 1576.7L1900.4 1580.2L1901.8 1583.7L1903.3 1587.2L1904.8 1590.7L1906.3 1594.1L1907.8 1597.5L1909.3 1600.8L1910.7 1604.1L1912.2 1607.4L1913.5 1610.5L1914.9 1613.7L1916.1 1616.8L1917.3 1620L1918.4 1623.2L1919.6 1626.4L1920.6 1629.6L1921.6 1632.7L1922.6 1635.9L1923.5 1639.1L1924.3 1642.3L1925.1 1645.4L1925.9 1648.7L1926.6 1651.7L1927.2 1654.5L1927.7 1657.1L1928.2 1659.6L1928.6 1662.2L1929 1665L1929.4 1668.1L1929.8 1671.6L1930.3 1675.8L1930.8 1680.6L1931.3 1686.2L1931.9 1692.6L1932.6 1699.5L1933.2 1706.8L1933.8 1714.3L1934.5 1721.9L1935.2 1729.4L1935.9 1736.6L1936.5 1743.4L1937 1749.5L1937.4 1755L1937.7 1760.3L1937.9 1765.4L1938 1770.5L1938.2 1775.4L1938.3 1780.4L1938.5 1785.4L1938.7 1790.5L1939.1 1795.8L1939.6 1801.2L1940.4 1806.7L1941.5 1812.4L1943.2 1818.3L1947.4 1824.5L1949.7 1824.7L1955 1819.5L1957.8 1814L1960 1808.5L1961.8 1803.2L1963.3 1798.2L1964.7 1793.3L1966.1 1788.4L1967.3 1783.4L1968.5 1778.3L1969.5 1773L1970.5 1767.5L1971.3 1761.7L1971.9 1755.6L1972.3 1749.2L1972.6 1742.3L1972.6 1734.9L1972.4 1727.2L1972.1 1719.3L1971.7 1711.4L1971.1 1703.6L1970.4 1696.1L1969.8 1689L1969.1 1682.6L1968.6 1676.8L1968.1 1671.8L1967.6 1667.4L1967.1 1663.4L1966.7 1659.7L1966.2 1656.3L1965.6 1653.1L1965 1649.9L1964.4 1646.7L1963.7 1643.5L1962.9 1640L1962 1636.4L1961.1 1632.7L1960.1 1629L1959 1625.3L1957.9 1621.6L1956.8 1617.9L1955.5 1614.2L1954.3 1610.5L1952.9 1606.8L1951.5 1603.1L1950.1 1599.4L1948.5 1595.7L1946.9 1592L1945.2 1588.3L1943.5 1584.7L1941.7 1581.2L1939.8 1577.7L1937.9 1574.3L1936 1570.9L1934.1 1567.5L1932.1 1564.1L1930 1560.7L1927.9 1557.3L1925.7 1554L1923.5 1550.6Z" fill="#1f0d06"  /></g><path d="M1905.3 1560.4L1907 1563.9L1908.7 1567.4L1910.4 1570.8L1912 1574.3L1913.6 1577.8L1915.3 1581.2L1916.9 1584.7L1918.5 1588.2L1920 1591.6L1921.6 1595L1923.1 1598.5L1924.5 1601.9L1925.9 1605.3L1927.3 1608.6L1928.5 1612L1929.7 1615.4L1930.9 1618.8L1932 1622.2L1933.1 1625.5L1934.1 1628.9L1935.1 1632.3L1936 1635.6L1936.9 1639L1937.8 1642.3L1938.6 1645.7L1939.3 1648.9L1939.9 1651.9L1940.5 1654.7L1941 1657.4L1941.5 1660.2L1941.9 1663.2L1942.3 1666.5L1942.8 1670.2L1943.2 1674.4L1943.7 1679.3L1944.3 1685L1944.9 1691.4L1945.5 1698.3L1946.1 1705.7L1946.8 1713.3L1947.3 1721L1947.8 1728.7L1948.3 1736L1948.5 1743L1948.7 1749.4L1948.6 1755.2L1948.5 1760.8L1948.2 1766.1L1947.8 1771.3L1947.4 1776.3L1946.9 1781.3L1946.5 1786.3L1946.3 1791.3L1946.2 1796.5L1946.3 1801.8L1946.7 1807.3L1947.7 1813L1951.6 1813.4L1953.8 1807.9L1955.1 1802.6L1956.2 1797.5L1957.2 1792.5L1958 1787.5L1958.7 1782.5L1959.3 1777.4L1959.8 1772.2L1960.2 1766.9L1960.5 1761.3L1960.6 1755.4L1960.7 1749.3L1960.5 1742.6L1960.2 1735.5L1959.8 1727.9L1959.3 1720.2L1958.7 1712.4L1958.1 1704.7L1957.5 1697.3L1956.8 1690.2L1956.2 1683.8L1955.7 1678.1L1955.2 1673.2L1954.7 1668.8L1954.2 1665L1953.8 1661.5L1953.3 1658.3L1952.8 1655.3L1952.3 1652.4L1951.7 1649.4L1951 1646.3L1950.2 1643L1949.4 1639.5L1948.5 1636L1947.5 1632.4L1946.5 1628.9L1945.4 1625.4L1944.3 1621.9L1943.1 1618.4L1941.8 1614.9L1940.5 1611.4L1939.1 1607.9L1937.7 1604.4L1936.1 1600.9L1934.5 1597.4L1932.9 1594L1931.2 1590.5L1929.4 1587.1L1927.7 1583.7L1925.9 1580.2L1924.1 1576.8L1922.3 1573.4L1920.4 1570L1918.6 1566.6L1916.7 1563.2L1914.7 1559.8L1912.8 1556.4Z" fill="#e8382a"  /></g>
<rect x="1452.5" y="1302.7" width="945" height="761.3999999999999" fill="none" stroke="#1a1718" stroke-width="5"/>
<rect x="1639.2" y="2045.1" width="4.6" height="21.5" fill="#1a1718"/>
<rect x="1450" y="1909.5" width="21.5" height="4.6" fill="#1a1718"/>
<rect x="1828.2" y="2045.1" width="4.6" height="21.5" fill="#1a1718"/>
<rect x="1450" y="1757.2" width="21.5" height="4.6" fill="#1a1718"/>
<rect x="2017.2" y="2045.1" width="4.6" height="21.5" fill="#1a1718"/>
<rect x="1450" y="1605.0" width="21.5" height="4.6" fill="#1a1718"/>
<rect x="2206.2" y="2045.1" width="4.6" height="21.5" fill="#1a1718"/>
<rect x="1450" y="1452.7" width="21.5" height="4.6" fill="#1a1718"/>
<text x="1489.7" transform="scale(0.975 1)" y="2139.6" font-size="68" text-anchor="middle">0.0</text>
<text x="1467.7" transform="scale(0.975 1)" y="2085.8" font-size="68" text-anchor="end">0.0</text>
<text x="1683.6" transform="scale(0.975 1)" y="2139.6" font-size="68" text-anchor="middle">0.2</text>
<text x="1467.7" transform="scale(0.975 1)" y="1933.5" font-size="68" text-anchor="end">0.2</text>
<text x="1877.4" transform="scale(0.975 1)" y="2139.6" font-size="68" text-anchor="middle">0.4</text>
<text x="1467.7" transform="scale(0.975 1)" y="1781.2" font-size="68" text-anchor="end">0.4</text>
<text x="2071.3" transform="scale(0.975 1)" y="2139.6" font-size="68" text-anchor="middle">0.6</text>
<text x="1467.7" transform="scale(0.975 1)" y="1629.0" font-size="68" text-anchor="end">0.6</text>
<text x="2265.1" transform="scale(0.975 1)" y="2139.6" font-size="68" text-anchor="middle">0.8</text>
<text x="1467.7" transform="scale(0.975 1)" y="1476.7" font-size="68" text-anchor="end">0.8</text>
<text x="2459.0" transform="scale(0.975 1)" y="2139.6" font-size="68" text-anchor="middle">1.0</text>
<text x="1467.7" transform="scale(0.975 1)" y="1324.4" font-size="68" text-anchor="end">1.0</text>
<text x="1489.7" transform="scale(0.975 1)" y="1188.5" font-size="68" text-anchor="middle">0</text>
<text x="1732.1" transform="scale(0.975 1)" y="1188.5" font-size="68" text-anchor="middle">1</text>
<text x="1974.4" transform="scale(0.975 1)" y="1188.5" font-size="68" text-anchor="middle">2</text>
<text x="2216.6" transform="scale(0.975 1)" y="1188.5" font-size="68" text-anchor="middle">3</text>
<text x="2459.0" transform="scale(0.975 1)" y="1188.5" font-size="68" text-anchor="middle">4</text>
<text x="1473.8" transform="scale(0.975 1)" y="1251.2" font-size="68" text-anchor="end"><tspan class="i">E</tspan><tspan font-size="36" dy="12.5">k</tspan><tspan dy="-12.5" dx="4">/10</tspan><tspan font-size="34" dy="-33">5</tspan></text>
<text class="i" x="1974.4" transform="scale(0.975 1)" y="2191.9" font-size="68" text-anchor="middle">x</text>
<text class="i" transform="translate(1311.0,1683.4) rotate(-90)" font-size="68" text-anchor="middle">z</text>
<text x="1974.4" transform="scale(0.975 1)" y="2252.8" font-size="68" text-anchor="middle">(b2) <tspan class="i">E</tspan><tspan font-size="36" dy="12.5">k</tspan></text>
<text x="1974.4" transform="scale(0.975 1)" y="2323.5" font-size="68" text-anchor="middle">(b) <tspan class="i">t</tspan> = 1.824</text>
<g filter="url(#cbb)">
<rect x="2722.20" y="1212.2" width="38.40" height="46.8" fill="#44356f"/>
<rect x="2760.00" y="1212.2" width="38.40" height="46.8" fill="#3f4088"/>
<rect x="2797.80" y="1212.2" width="38.40" height="46.8" fill="#404a90"/>
<rect x="2835.60" y="1212.2" width="38.40" height="46.8" fill="#424e93"/>
<rect x="2873.40" y="1212.2" width="38.40" height="46.8" fill="#455496"/>
<rect x="2911.20" y="1212.2" width="38.40" height="46.8" fill="#4a5e9f"/>
<rect x="2949.00" y="1212.2" width="38.40" height="46.8" fill="#5580b8"/>
<rect x="2986.80" y="1212.2" width="38.40" height="46.8" fill="#58a8d8"/>
<rect x="3024.60" y="1212.2" width="38.40" height="46.8" fill="#62bcdc"/>
<rect x="3062.40" y="1212.2" width="38.40" height="46.8" fill="#78c4cc"/>
<rect x="3100.20" y="1212.2" width="38.40" height="46.8" fill="#78c4b0"/>
<rect x="3138.00" y="1212.2" width="38.40" height="46.8" fill="#80c094"/>
<rect x="3175.80" y="1212.2" width="38.40" height="46.8" fill="#88c080"/>
<rect x="3213.60" y="1212.2" width="38.40" height="46.8" fill="#98c464"/>
<rect x="3251.40" y="1212.2" width="38.40" height="46.8" fill="#b0d048"/>
<rect x="3289.20" y="1212.2" width="38.40" height="46.8" fill="#d0dc38"/>
<rect x="3327.00" y="1212.2" width="38.40" height="46.8" fill="#f4e834"/>
<rect x="3364.80" y="1212.2" width="38.40" height="46.8" fill="#fcd034"/>
<rect x="3402.60" y="1212.2" width="38.40" height="46.8" fill="#f8a434"/>
<rect x="3440.40" y="1212.2" width="38.40" height="46.8" fill="#f08430"/>
<rect x="3478.20" y="1212.2" width="38.40" height="46.8" fill="#ec6c30"/>
<rect x="3516.00" y="1212.2" width="38.40" height="46.8" fill="#e85030"/>
<rect x="3553.80" y="1212.2" width="38.40" height="46.8" fill="#e43c2c"/>
<rect x="3591.60" y="1212.2" width="38.40" height="46.8" fill="#e4322e"/>
<rect x="3629.40" y="1212.2" width="38.40" height="46.8" fill="#d03430"/>
</g>
<rect x="2722.5" y="1212.2" width="945" height="46.799999999999955" fill="none" stroke="#1a1718" stroke-width="5"/>
<rect x="2956.4" y="1209.7" width="4.6" height="21.5" fill="#1a1718"/>
<rect x="3192.7" y="1209.7" width="4.6" height="21.5" fill="#1a1718"/>
<rect x="3428.9" y="1209.7" width="4.6" height="21.5" fill="#1a1718"/>
<g clip-path="url(#cp12)"><rect x="2720" y="1300.2" width="950" height="775" fill="#3f377b"/><path d="M2720 1409C2724.4 1407.3 2727.9 1406 2733.2 1403.8C2738.5 1401.5 2745.1 1400.2 2751.7 1395.8C2758.3 1391.4 2764.9 1384.1 2772.9 1377.3C2780.8 1370.5 2789.6 1361.5 2799.3 1354.8C2809 1348.2 2819.6 1342.5 2831 1337.7C2842.5 1332.8 2855.7 1328.8 2868.1 1325.8C2880.4 1322.7 2890.1 1321.1 2905.1 1319.2C2920 1317.2 2940.3 1315.2 2957.9 1313.9C2975.6 1312.5 2993.2 1311.9 3010.8 1311.2C3028.4 1310.6 3053.8 1310.3 3063.7 1309.9C3066.6 1309.8 3067.1 1308.3 3070 1308.6C3079.9 1309.7 3105.3 1313 3122.9 1316.5C3140.5 1320 3158.1 1324.4 3175.8 1329.7C3193.4 1335 3211.9 1341.2 3228.6 1348.2C3245.4 1355.3 3263 1362.8 3276.2 1372C3289.4 1381.3 3299.1 1392.3 3307.9 1403.8C3316.8 1415.2 3323.8 1427.5 3329.1 1440.8C3334.4 1454 3337.5 1469.4 3339.7 1483.1C3341.9 1496.7 3342.8 1509.5 3342.3 1522.7C3341.9 1535.9 3339.7 1549.2 3337 1562.4C3334.4 1575.6 3330.4 1588.8 3326.5 1602C3322.5 1615.3 3318.1 1628.5 3313.2 1641.7C3308.4 1654.9 3300.5 1672.2 3297.4 1681.4C3295.2 1687.9 3296.6 1689.8 3294.7 1696.4C3292.1 1705.6 3285.5 1722.9 3281.5 1736.1C3277.5 1749.3 3273.6 1762.5 3270.9 1775.8C3268.3 1789 3266.5 1802.2 3265.6 1815.4C3264.8 1828.6 3264.8 1842.7 3265.6 1855.1C3266.5 1867.4 3268.3 1879.3 3270.9 1889.4C3273.6 1899.6 3276.7 1908.4 3281.5 1915.9C3286.4 1923.4 3292.1 1929.5 3300 1934.4C3307.9 1939.2 3316.8 1942.3 3329.1 1945C3341.4 1947.6 3357.7 1949.1 3374 1950.2C3390.3 1951.3 3411.5 1952 3426.9 1951.6C3442.3 1951.1 3455.6 1950 3466.6 1947.6C3477.6 1945.2 3485.1 1941.9 3493 1937C3500.9 1932.2 3508.4 1926.5 3514.2 1918.5C3519.9 1910.6 3524.1 1900 3527.4 1889.4C3530.7 1878.9 3532.7 1867.4 3534 1855.1C3535.3 1842.7 3535.3 1828.6 3535.3 1815.4C3535.3 1802.2 3534.4 1787.7 3534 1775.8C3533.6 1763.9 3532 1752.8 3532.7 1744C3533.3 1735.2 3534.4 1729 3538 1722.9C3541.5 1716.7 3548.5 1711.9 3553.8 1707C3559.1 1702.2 3564.8 1698.6 3569.7 1693.8C3574.5 1688.9 3579.4 1684.4 3582.9 1677.9C3586.4 1671.5 3588.4 1663.2 3590.8 1654.9C3593.3 1646.7 3595.9 1639.5 3597.4 1628.5C3599 1617.5 3599.6 1602 3600.1 1588.8C3600.5 1575.6 3599.9 1562.4 3600.1 1549.2C3600.3 1535.9 3600.7 1521.4 3601.4 1509.5C3602.1 1497.6 3602.3 1485.7 3604.1 1477.8C3605.8 1470 3608.5 1466.8 3612 1461.9C3615.5 1457.1 3620.8 1453.1 3625.2 1448.7C3629.6 1444.3 3634.5 1439.4 3638.4 1435.5C3642.4 1431.6 3645.5 1428.8 3649 1425.4C3651.2 1427 3653.9 1426.9 3655.6 1430.2C3657.4 1433.6 3654.9 1441.6 3659.6 1446.1C3664.2 1450.5 3675.4 1453.1 3683.4 1456.6C3683.4 1615.9 3683.4 1775.1 3683.4 1934.4C3674.1 1934.4 3660.9 1930 3655.6 1934.4C3650.3 1938.8 3654.5 1951.1 3651.6 1960.8C3648.8 1970.5 3643.7 1983.3 3638.4 1992.5C3633.1 2001.8 3627.4 2008.9 3619.9 2016.3C3612.4 2023.8 3603.6 2031.8 3593.5 2037.5C3583.3 2043.2 3569.2 2047.6 3559.1 2050.7C3549 2053.8 3539.3 2052 3532.7 2056C3526.1 2060 3523.9 2068.3 3519.5 2074.5C3484.2 2074.5 3448.9 2074.5 3413.7 2074.5C3404.9 2066.6 3400.5 2056.4 3387.3 2050.7C3374 2045 3349.8 2044.1 3334.4 2040.1C3319 2036.2 3307.1 2031.8 3294.7 2026.9C3282.4 2022.1 3271.4 2016.3 3260.4 2011.1C3249.3 2005.8 3238.3 1999.2 3228.6 1995.2C3218.9 1991.2 3210.1 1988.8 3202.2 1987.3C3194.3 1985.7 3187.7 1985.5 3181 1985.9C3174.4 1986.4 3168.7 1987.5 3162.5 1989.9C3156.4 1992.3 3150.6 1996.5 3144 2000.5C3137.4 2004.4 3130.8 2009.3 3122.9 2013.7C3114.9 2018.1 3105.2 2023.2 3096.4 2026.9C3087.6 2030.7 3079.9 2033.1 3070 2036.2C3060.2 2039.3 3051.5 2042.6 3037.3 2045.4C3023 2048.3 2999.8 2051.4 2984.4 2053.4C2969 2055.3 2953.5 2053.8 2944.7 2057.3C2935.9 2060.8 2935.9 2068.8 2931.5 2074.5C2896.3 2074.5 2861 2074.5 2825.8 2074.5C2821.3 2066.6 2819.1 2057.3 2812.5 2050.7C2805.9 2044.1 2794.5 2041 2786.1 2034.8C2777.7 2028.7 2768.9 2021.6 2762.3 2013.7C2755.7 2005.8 2750.8 1996.1 2746.4 1987.3C2742 1978.4 2738.5 1969.6 2735.9 1960.8C2733.2 1952 2733.2 1940.6 2730.6 1934.4C2727.9 1928.2 2723.5 1927.3 2720 1923.8C2720 1752.2 2720 1580.6 2720 1409Z" fill="#4459a0" stroke="#2a1c3a" stroke-width="2.6" /><path d="M3259 1324.4C3257.7 1320.5 3261.1 1317.5 3265.6 1316.5C3273.8 1314.7 3292.1 1313.6 3307.9 1313.9C3323.8 1314.1 3343.2 1315.6 3360.8 1317.8C3378.4 1320 3396.1 1323.3 3413.7 1327.1C3431.3 1330.8 3449.8 1335 3466.6 1340.3C3483.3 1345.6 3500.9 1352.6 3514.2 1358.8C3527.4 1365 3537.5 1371.6 3545.9 1377.3C3554.3 1383 3562.2 1389 3564.4 1393.2C3566.6 1397.4 3563.1 1401.1 3559.1 1402.4C3555.1 1403.8 3548.8 1402.7 3540.6 1401.1C3531.8 1399.3 3518.6 1394.9 3506.2 1391.9C3493.9 1388.8 3482 1385 3466.6 1382.6C3451.2 1380.2 3431.3 1378.6 3413.7 1377.3C3396.1 1376 3375.8 1375.6 3360.8 1374.7C3345.8 1373.8 3334.4 1374.7 3323.8 1372C3313.2 1369.4 3305.7 1364.1 3297.4 1358.8C3289 1353.5 3280 1346 3273.6 1340.3C3267.2 1334.6 3260.4 1328.4 3259 1324.4Z" fill="#4459a0" stroke="#2a1c3a" stroke-width="2.6" /><ellipse cx="3364.8" cy="1335.0" rx="33.0" ry="7.4" transform="rotate(8.0 3364.8 1335.0)" fill="#5b9bd8" stroke="#2a1c3a" stroke-width="2.2" /><path d="M3092.8 2011.1C3091.5 2009.3 3090.5 2002.3 3084.8 2000.5C3077.8 1998.3 3066 1998 3050.5 1997.8C3033.7 1997.6 3004.2 1998.7 2984.4 1999.2C2964.6 1999.6 2949.1 2000 2931.5 2000.5C2913.9 2000.9 2894.1 2001.8 2878.6 2001.8C2863.2 2001.8 2850 2002.5 2839 2000.5C2828 1998.5 2819.1 1995.6 2812.5 1989.9C2805.9 1984.2 2802.2 1975.4 2799.3 1966.1C2796.5 1956.9 2796.2 1948.5 2795.3 1934.4C2794.5 1920.3 2793.8 1899.1 2794 1881.5C2794.2 1863.9 2795.3 1846.3 2796.7 1828.6C2798 1811 2799.3 1791.2 2802 1775.8C2804.6 1760.3 2808.6 1747.1 2812.5 1736.1C2816.5 1725.1 2822.2 1717.5 2825.8 1709.7C2829.3 1701.9 2829.3 1696.2 2833.7 1689.3C2838.1 1682.4 2846.5 1675.2 2852.2 1668.1C2857.9 1661.1 2864.1 1653.6 2868.1 1647C2872 1640.4 2875.3 1635.1 2876 1628.5C2876.6 1621.9 2874.2 1614.8 2872 1607.3C2869.8 1599.8 2865.6 1591.9 2862.8 1583.5C2859.9 1575.2 2856.8 1566.3 2854.8 1557.1C2852.9 1547.8 2851.1 1537.3 2850.9 1528C2850.6 1518.8 2851.5 1509.9 2853.5 1501.6C2855.5 1493.2 2858.6 1485.3 2862.8 1477.8C2867 1470.3 2871.6 1463.7 2878.6 1456.6C2885.7 1449.6 2894.9 1441.4 2905.1 1435.5C2915.2 1429.5 2927.1 1425.1 2939.4 1420.9C2951.8 1416.8 2965 1413.4 2979.1 1410.4C2993.2 1407.3 3009.1 1404.8 3024 1402.4C3039 1400.1 3054.4 1397.7 3069 1396.4C3083.5 1395 3098.1 1393.9 3111.3 1394.5C3124.5 1395.1 3137.7 1396.5 3148.3 1399.8C3158.9 1403.1 3168.6 1407.9 3174.7 1414.3C3180.9 1420.7 3183.1 1429.3 3185.3 1438.1C3187.5 1446.9 3188 1457.1 3188 1467.2C3188 1477.3 3186.2 1488.4 3185.3 1498.9C3184.4 1509.5 3182.7 1520.1 3182.7 1530.7C3182.7 1541.2 3184.4 1552.7 3185.3 1562.4C3186.2 1572.1 3188 1579.1 3188 1588.8C3188 1598.5 3187.5 1610 3185.3 1620.5C3183.1 1631.1 3178.7 1642.1 3174.7 1652.3C3170.8 1662.4 3168.6 1671.8 3161.5 1681.4C3154.5 1690.9 3139 1698.3 3132.4 1709.7C3125.8 1721 3124.9 1736.1 3121.9 1749.3C3118.8 1762.5 3116.4 1775.8 3113.9 1789C3111.5 1802.2 3109.1 1815.4 3107.3 1828.6C3105.6 1841.8 3104.2 1855.1 3103.4 1868.3C3102.5 1881.5 3101.6 1896.9 3102 1907.9C3102.5 1919 3103.6 1926 3106 1934.4C3108.4 1942.8 3112.2 1952 3116.6 1958.2C3121 1964.3 3127 1968.1 3132.4 1971.4C3137.9 1974.7 3142.1 1976.5 3149.3 1978C3156.5 1979.5 3166.9 1980.9 3175.8 1980.6C3184.6 1980.4 3193.4 1976 3202.2 1976.7C3211 1977.3 3219.8 1981.1 3228.6 1984.6C3237.4 1988.1 3245.4 1993 3255.1 1997.8C3264.8 2002.7 3275.8 2008.4 3286.8 2013.7C3297.8 2019 3308.8 2024.7 3321.2 2029.6C3333.5 2034.4 3347.6 2039 3360.8 2042.8C3374 2046.5 3390.3 2046.7 3400.5 2052C3410.6 2057.3 3414.6 2067 3421.6 2074.5C3448.9 2074.5 3476.3 2074.5 3503.6 2074.5C3508.9 2066.1 3511.5 2054.5 3519.5 2049.4C3527.4 2044.3 3540.2 2047 3551.2 2044.1C3562.2 2041.2 3575 2037.3 3585.5 2032.2C3596.1 2027.1 3606.3 2020.3 3614.6 2013.7C3623 2007.1 3630.1 2000 3635.8 1992.5C3641.5 1985.1 3645.7 1976.2 3649 1968.8C3652.3 1961.3 3649.9 1951.1 3655.6 1947.6C3661.3 1944.1 3674.1 1947.6 3683.4 1947.6C3683.4 1810.4 3683.4 1673.2 3683.4 1535.9C3674.1 1531.5 3660.9 1528.9 3655.6 1522.7C3650.3 1516.6 3653.8 1504.3 3651.6 1498.9C3649.5 1493.7 3645.5 1493.3 3642.4 1490.5C3639.3 1493.3 3636 1494.4 3633.1 1498.9C3630.3 1503.4 3627 1509.1 3625.2 1517.4C3623.4 1525.8 3623.2 1537.3 3622.6 1549.2C3621.9 1561.1 3622.1 1575.6 3621.2 1588.8C3620.4 1602 3619.3 1616.1 3617.3 1628.5C3615.3 1640.8 3612 1652.4 3609.3 1662.8C3606.7 1673.3 3604.9 1683.3 3601.4 1691.2C3597.9 1699 3593 1703.5 3588.2 1709.7C3583.3 1715.8 3577.2 1721.6 3572.3 1728.2C3567.5 1734.8 3562.2 1741.4 3559.1 1749.3C3556 1757.2 3554.9 1764.7 3553.8 1775.8C3552.7 1786.8 3553.2 1802.2 3552.5 1815.4C3551.8 1828.6 3551.4 1841.8 3549.9 1855.1C3548.3 1868.3 3546.5 1883.3 3543.2 1894.7C3539.9 1906.2 3535.8 1915.4 3530 1923.8C3524.3 1932.2 3517.2 1939.4 3508.9 1945C3500.5 1950.5 3491.2 1954 3479.8 1956.9C3468.3 1959.7 3455.6 1961.3 3440.1 1962.1C3424.7 1963 3404.9 1963.2 3387.3 1962.1C3369.6 1961 3348.9 1958.8 3334.4 1955.5C3319.8 1952.2 3309.7 1947.2 3300 1942.3C3290.3 1937.5 3282.8 1933.1 3276.2 1926.5C3269.6 1919.8 3264.3 1912.4 3260.4 1902.7C3256.4 1893 3254.2 1880.6 3252.4 1868.3C3250.7 1855.9 3249.8 1841.8 3249.8 1828.6C3249.8 1815.4 3250.7 1802.2 3252.4 1789C3254.2 1775.8 3256.8 1762.5 3260.4 1749.3C3263.9 1736.1 3269.6 1721 3273.6 1709.7C3277.5 1698.3 3280 1692.7 3284.1 1681.4C3288.3 1670 3294.1 1654.9 3298.7 1641.7C3303.3 1628.5 3307.9 1615.3 3311.9 1602C3315.9 1588.8 3319.8 1575.6 3322.5 1562.4C3325.1 1549.2 3327.1 1535.9 3327.8 1522.7C3328.4 1509.5 3328 1495.8 3326.5 1483.1C3324.9 1470.3 3322.9 1458 3318.5 1446.1C3314.1 1434.2 3307.9 1422.3 3300 1411.7C3292.1 1401.1 3282.8 1391 3270.9 1382.6C3259 1374.2 3244.5 1368.1 3228.6 1361.5C3212.8 1354.8 3190 1348.6 3175.8 1342.9C3161.5 1337.3 3155.1 1331.1 3143 1327.6C3130.9 1324.1 3116.6 1323.1 3103.4 1321.8C3090.1 1320.5 3079.1 1319.9 3063.7 1319.7C3048.3 1319.5 3028.4 1319.8 3010.8 1320.5C2993.2 1321.1 2974.7 1322.2 2957.9 1323.6C2941.2 1325.1 2924.9 1326.7 2910.4 1328.9C2895.8 1331.1 2883.5 1333.3 2870.7 1336.9C2857.9 1340.4 2845.1 1345 2833.7 1350.1C2822.2 1355.2 2811.7 1360.7 2802 1367.3C2792.3 1373.8 2783.5 1382.5 2775.5 1389.2C2767.6 1396 2761 1402.9 2754.4 1407.7C2747.8 1412.6 2741.6 1415.4 2735.9 1418.3C2730.1 1421.2 2725.3 1422.7 2720 1424.9C2720 1590.3 2720 1755.7 2720 1921.2C2725.3 1925.6 2731.7 1926.1 2735.9 1934.4C2740.3 1943.2 2741.2 1962.6 2746.4 1974C2751.7 1985.5 2759.7 1994.7 2767.6 2003.1C2775.5 2011.5 2784.3 2017.9 2794 2024.3C2803.7 2030.7 2811.7 2037.1 2825.8 2041.5C2839.9 2045.9 2861 2048.9 2878.6 2050.7C2896.3 2052.5 2913.9 2052.5 2931.5 2052C2949.1 2051.6 2966.8 2050 2984.4 2048.1C3002 2046.1 3022.7 2042.8 3037.3 2040.1C3051.8 2037.5 3062.8 2035.3 3071.6 2032.2C3080.4 2029.1 3086.6 2025.2 3090.1 2021.6C3093.6 2018.2 3091.9 2014.6 3092.8 2011.1C3092.8 2011.1 3092.8 2011.1 3092.8 2011.1Z" fill="#5b9bd8" stroke="#2a1c3a" stroke-width="2.6" /><path d="M2889.2 1654.9C2896.3 1647 2898.2 1640.4 2899.8 1633.8C2901.3 1627.2 2900.2 1621.9 2898.5 1615.3C2896.7 1608.6 2892.5 1601.6 2889.2 1594.1C2885.9 1586.6 2881.5 1578.7 2878.6 1570.3C2875.8 1561.9 2873.3 1552.7 2872 1543.9C2870.7 1535.1 2870 1525.8 2870.7 1517.4C2871.4 1509.1 2872.9 1501.1 2876 1493.6C2879.1 1486.2 2883 1479.1 2889.2 1472.5C2895.4 1465.9 2903.7 1459.3 2913 1454C2922.3 1448.7 2932.8 1444.7 2944.7 1440.8C2956.6 1436.8 2971.2 1433.3 2984.4 1430.2C2997.6 1427.1 3010.8 1424.7 3024 1422.3C3037.3 1419.8 3051.4 1417.2 3063.7 1415.7C3076 1414.1 3087.9 1412.8 3098.1 1413C3108.2 1413.2 3117.5 1414.1 3124.5 1417C3131.6 1419.8 3137.3 1424.5 3140.4 1430.2C3143.5 1435.9 3143.5 1443.4 3143 1451.3C3142.6 1459.3 3139.9 1469 3137.7 1477.8C3135.5 1486.6 3131.8 1495.4 3129.8 1504.2C3127.8 1513 3125.8 1521.8 3125.8 1530.7C3125.8 1539.5 3128 1548.3 3129.8 1557.1C3131.6 1565.9 3135.3 1574.7 3136.4 1583.5C3137.5 1592.3 3137.5 1600.7 3136.4 1610C3135.3 1619.2 3132.7 1629.4 3129.8 1639.1C3126.9 1648.7 3121.9 1659.5 3119.2 1668.1C3116.6 1676.8 3116.6 1682 3113.9 1691.2C3111.3 1700.3 3106.9 1711 3103.4 1722.9C3099.8 1734.8 3095.9 1749.3 3092.8 1762.5C3089.7 1775.8 3087.5 1789 3084.8 1802.2C3082.2 1815.4 3079.1 1828.6 3076.9 1841.8C3074.7 1855.1 3073.4 1868.7 3071.6 1881.5C3069.9 1894.3 3068.5 1907.9 3066.3 1918.5C3064.1 1929.1 3062.4 1937.5 3058.4 1945C3054.4 1952.4 3049.2 1958.2 3042.5 1963.5C3035.9 1968.8 3028.4 1972.9 3018.8 1976.7C3009.1 1980.4 2996.7 1983.5 2984.4 1985.9C2972 1988.4 2958.8 1989.9 2944.7 1991.2C2930.6 1992.5 2914.3 1993.9 2899.8 1993.9C2885.2 1993.9 2868.9 1993.6 2857.5 1991.2C2846 1988.8 2838.1 1984.8 2831 1979.3C2824 1973.8 2819.1 1966.5 2815.2 1958.2C2811.2 1949.8 2809 1939.7 2807.2 1929.1C2805.5 1918.5 2805 1907.1 2804.6 1894.7C2804.2 1882.4 2804.2 1868.3 2804.6 1855.1C2805 1841.8 2805.9 1828.6 2807.2 1815.4C2808.6 1802.2 2810.3 1788.1 2812.5 1775.8C2814.7 1763.4 2817.4 1752.4 2820.5 1741.4C2823.5 1730.4 2821.7 1721.4 2831 1709.7C2842.5 1695.2 2877.7 1667.6 2889.2 1654.9Z" fill="#3f377b" stroke="#2a1c3a" stroke-width="2.6" /><path d="M2963.2 1596.8C2964.8 1588.8 2968.5 1573 2973.8 1562.4C2979.1 1551.8 2987.5 1541.2 2995 1533.3C3002.4 1525.4 3010.4 1518.8 3018.8 1514.8C3027.1 1510.8 3036.8 1509.1 3045.2 1509.5C3053.6 1509.9 3062.8 1512.6 3069 1517.4C3075.2 1522.3 3080.9 1531.1 3082.2 1538.6C3083.5 1546.1 3080.9 1554 3076.9 1562.4C3073 1570.8 3065.9 1580.4 3058.4 1588.8C3050.9 1597.2 3041.2 1606.9 3032 1612.6C3022.7 1618.3 3012.1 1621.9 3002.9 1623.2C2993.6 1624.5 2982.8 1622.7 2976.5 1620.5C2970.1 1618.3 2966.8 1613.9 2964.6 1610C2962.4 1606 2962.1 1602.6 2963.2 1596.8Z" fill="#4459a0" stroke="#2a1c3a" stroke-width="2.6" /><path d="M2780.8 2000.5C2781.7 1996.1 2785 1985.1 2786.1 1974C2787.2 1963 2787.4 1949.8 2787.4 1934.4C2787.4 1919 2786.3 1899.1 2786.1 1881.5C2785.9 1863.9 2785.7 1846.3 2786.1 1828.6C2786.5 1811 2787 1791.2 2788.7 1775.8C2790.5 1760.3 2793.1 1748 2796.7 1736.1C2800.2 1724.2 2802.8 1713.9 2809.9 1704.4C2816.9 1694.8 2831.9 1687 2839 1678.7C2846 1670.5 2849.1 1662.8 2852.2 1654.9C2855.3 1647 2857.5 1639.1 2857.5 1631.1C2857.5 1623.2 2854.6 1615.3 2852.2 1607.3C2849.8 1599.4 2845.6 1591.9 2842.9 1583.5C2840.3 1575.2 2838.1 1566.3 2836.3 1557.1C2834.6 1547.8 2832.6 1537.7 2832.4 1528C2832.1 1518.3 2833 1508.2 2835 1498.9C2837 1489.7 2839.6 1480.9 2844.3 1472.5C2848.9 1464.1 2854.8 1456.2 2862.8 1448.7C2870.7 1441.2 2880.8 1433.7 2891.8 1427.5C2902.9 1421.4 2915.6 1416.1 2928.9 1411.7C2942.1 1407.3 2956.6 1404.2 2971.2 1401.1C2985.7 1398 3000.7 1395.5 3016.1 1393.2C3031.5 1390.9 3048.3 1388.7 3063.7 1387.4C3079.1 1386 3094.1 1384.9 3108.6 1385.2C3123.2 1385.6 3138.6 1386.6 3150.9 1389.2C3163.3 1391.9 3174.7 1395.2 3182.7 1401.1C3190.6 1407.1 3195 1415.7 3198.5 1424.9C3202.1 1434.2 3203.2 1445.2 3203.8 1456.6C3204.5 1468.1 3203.2 1481.3 3202.5 1493.6C3201.8 1506 3200.1 1519.2 3199.9 1530.7C3199.6 1542.1 3200.5 1552.7 3201.2 1562.4C3201.8 1572.1 3204 1579.1 3203.8 1588.8C3203.6 1598.5 3202.1 1610 3199.9 1620.5C3197.7 1631.1 3194.3 1642.1 3190.6 1652.3C3186.9 1662.4 3184.9 1671.8 3177.4 1681.4C3169.9 1690.9 3152.7 1698.3 3145.7 1709.7C3138.6 1721 3138.2 1736.1 3135.1 1749.3C3132 1762.5 3129.6 1775.8 3127.1 1789C3124.7 1802.2 3122.3 1815.4 3120.5 1828.6C3118.8 1841.8 3116.8 1855.1 3116.6 1868.3C3116.4 1881.5 3116.6 1896 3119.2 1907.9C3121.9 1919.8 3127.1 1931.5 3132.4 1939.7C3137.7 1947.8 3144.8 1953.1 3150.9 1956.9C3157.1 1960.6 3162.8 1961.7 3169.5 1962.1C3176.1 1962.6 3184 1962.4 3190.6 1959.5C3197.2 1956.6 3204.3 1951.3 3209.1 1945C3214 1938.6 3217 1931.7 3219.7 1921.2C3222.3 1910.6 3223.9 1894.7 3225 1881.5C3226.1 1868.3 3224.1 1855.1 3226.3 1841.8C3228.4 1828.6 3234.8 1815.4 3237.9 1802.2C3240.9 1789 3241.6 1775.8 3244.5 1762.5C3247.4 1749.3 3250.4 1736.4 3255.1 1722.9C3259.7 1709.3 3267 1694.9 3272.3 1681.4C3277.5 1667.8 3282.2 1654.9 3286.8 1641.7C3291.4 1628.5 3296 1615.3 3300 1602C3304 1588.8 3307.9 1575.6 3310.6 1562.4C3313.2 1549.2 3315.2 1535.9 3315.9 1522.7C3316.5 1509.5 3315.9 1495 3314.6 1483.1C3313.2 1471.2 3311.7 1461.9 3307.9 1451.3C3304.2 1440.8 3299.1 1429.3 3292.1 1419.6C3285 1409.9 3276.7 1401.1 3265.6 1393.2C3254.6 1385.2 3241 1378.6 3226 1372C3211 1365.4 3189.6 1359.3 3175.8 1353.5C3161.9 1347.7 3155.1 1340.9 3143 1337.1C3130.9 1333.4 3116.6 1332.4 3103.4 1331C3090.1 1329.7 3079.1 1329.2 3063.7 1328.9C3048.3 1328.7 3028.4 1328.9 3010.8 1329.7C2993.2 1330.5 2973.8 1332.1 2957.9 1333.7C2942.1 1335.2 2929.3 1336.6 2915.6 1339C2902 1341.4 2888.8 1344.5 2876 1348.2C2863.2 1352 2850.4 1356.4 2839 1361.5C2827.5 1366.5 2816.9 1372 2807.2 1378.6C2797.6 1385.2 2789.2 1393.8 2780.8 1401.1C2772.4 1408.4 2764.5 1416.5 2757 1422.3C2749.5 1428 2742 1432.4 2735.9 1435.5C2729.7 1438.6 2725.3 1439 2720 1440.8C2720 1593 2720 1745.2 2720 1897.4C2727.1 1900.9 2736.7 1900 2741.2 1907.9C2745.6 1915.9 2743.8 1933.9 2746.4 1945C2749.1 1956 2753 1965.7 2757 1974C2761 1982.4 2766.3 1990.8 2770.2 1995.2C2773.8 1999.1 2777.3 1998.7 2780.8 2000.5C2780.8 2000.5 2780.8 2000.5 2780.8 2000.5Z" fill="#6ecdd2" stroke="#2a1c3a" stroke-width="2.6" /><path d="M2823.1 2032.2C2823.5 2029.3 2825.8 2024.6 2831 2023C2838.1 2020.7 2849.9 2019.8 2865.4 2019C2882.2 2018.1 2911.7 2018 2931.5 2017.7C2951.3 2017.3 2969.8 2016.6 2984.4 2016.9C2998.9 2017.1 3010.8 2017.5 3018.8 2019C3025.3 2020.2 3031.1 2023.2 3032 2025.6C3032.9 2028 3028.8 2031.7 3024 2033.5C3018.3 2035.7 3009.6 2037.2 2997.6 2038.8C2984.4 2040.6 2962.4 2042.8 2944.7 2044.1C2927.1 2045.4 2908.2 2046.5 2891.8 2046.7C2875.5 2047 2857.5 2046.5 2846.9 2045.4C2838.3 2044.5 2832.4 2042.3 2828.4 2040.1C2824.6 2038.1 2822.7 2035.1 2823.1 2032.2Z" fill="#6ecdd2" stroke="#2a1c3a" stroke-width="2.6" /><path d="M2852.2 2038.8C2851.8 2037.2 2857.5 2034.2 2862.8 2033.5C2871.6 2032.3 2889.2 2032 2905.1 2031.7C2920.9 2031.4 2947.8 2030.9 2957.9 2031.7C2962 2032 2965.9 2034.7 2965.9 2036.2C2965.9 2037.7 2962 2040.2 2957.9 2040.7C2947.8 2041.8 2920.5 2042.3 2905.1 2042.8C2889.6 2043.2 2874.2 2044 2865.4 2043.3C2859.1 2042.8 2852.6 2040.4 2852.2 2038.8Z" fill="#8dc97d" stroke="#2a1c3a" stroke-width="2.6" /><path d="M3270.9 2000.5C3271.8 1997.4 3275.7 1993.6 3281.5 1992.5C3289.9 1991 3303.5 1991 3321.2 1991.2C3338.8 1991.4 3365.2 1993.4 3387.3 1993.9C3409.3 1994.3 3433.5 1994.7 3453.4 1993.9C3473.2 1993 3491.7 1991.9 3506.2 1988.6C3520.8 1985.3 3531.8 1980.9 3540.6 1974C3549.4 1967.2 3554.5 1958.6 3559.1 1947.6C3563.7 1936.6 3566.4 1923.4 3568.4 1907.9C3570.3 1892.5 3570.3 1872.7 3571 1855.1C3571.7 1837.4 3571.2 1817.6 3572.3 1802.2C3573.4 1786.8 3574.5 1773.5 3577.6 1762.5C3580.7 1751.5 3585.5 1744 3590.8 1736.1C3596.1 1728.2 3603.2 1721.6 3609.3 1714.9C3615.5 1708.3 3623 1702.2 3627.8 1696.4C3632.7 1690.7 3636.2 1688.9 3638.4 1680.6C3640.8 1671.5 3641.4 1654.8 3642.4 1641.7C3643.4 1628.6 3643.6 1615.3 3644.2 1602C3646.7 1610.9 3649.7 1617.5 3651.6 1628.5C3653.5 1639.5 3650.3 1656.8 3655.6 1668.1C3660.9 1679.5 3674.1 1687 3683.4 1696.4C3683.4 1771.3 3683.4 1846.3 3683.4 1921.2C3674.1 1921.2 3661.3 1916.3 3655.6 1921.2C3649.9 1926 3652.7 1940.6 3649 1950.2C3645.3 1959.9 3639.7 1970.5 3633.1 1979.3C3626.5 1988.1 3618.6 1995.6 3609.3 2003.1C3600.1 2010.6 3589.1 2018.3 3577.6 2024.3C3566.2 2030.2 3553.8 2035.3 3540.6 2038.8C3527.4 2042.3 3515 2044.1 3498.3 2045.4C3481.6 2046.7 3458.6 2047 3440.1 2046.7C3421.6 2046.5 3404.9 2045.9 3387.3 2044.1C3369.6 2042.3 3349.4 2039.5 3334.4 2036.2C3319.4 2032.9 3307.1 2028.5 3297.4 2024.3C3287.7 2020.1 3280.6 2015 3276.2 2011.1C3272.3 2007.5 3270 2003.6 3270.9 2000.5Z" fill="#6ecdd2" stroke="#2a1c3a" stroke-width="2.6" /><path d="M2764.9 1974C2766.3 1969.6 2770.9 1958.6 2772.9 1947.6C2774.9 1936.6 2776.4 1923.4 2776.8 1907.9C2777.3 1892.5 2776 1872.7 2775.5 1855.1C2775.1 1837.4 2774.2 1817.6 2774.2 1802.2C2774.2 1786.8 2774.2 1775.8 2775.5 1762.5C2776.8 1749.3 2773.8 1737.3 2782.1 1722.9C2790.5 1708.5 2816.7 1687.8 2825.8 1676.1C2832.9 1666.8 2833.9 1659.8 2836.3 1652.3C2838.8 1644.8 2840.3 1638.6 2840.3 1631.1C2840.3 1623.6 2838.3 1615.3 2836.3 1607.3C2834.3 1599.4 2830.8 1591.9 2828.4 1583.5C2826 1575.2 2823.3 1566.3 2821.8 1557.1C2820.2 1547.8 2819.1 1537.7 2819.1 1528C2819.1 1518.3 2819.6 1508.6 2821.8 1498.9C2824 1489.2 2827.3 1479.1 2832.4 1469.8C2837.4 1460.6 2843.6 1451.6 2852.2 1443.4C2860.8 1435.3 2872 1427.3 2883.9 1420.9C2895.8 1414.5 2909.5 1409.5 2923.6 1405.1C2937.7 1400.7 2953.1 1397.6 2968.5 1394.5C2983.9 1391.4 3000.2 1388.9 3016.1 1386.6C3032 1384.2 3049.2 1382 3063.7 1380.5C3078.2 1378.9 3091.9 1378.3 3103.4 1377.3C3114.8 1376.3 3124.1 1376.3 3132.4 1374.7C3140.8 1373 3146.5 1369.7 3153.6 1367.3C3153.6 1367.3 3153.6 1367.3 3153.6 1367.3C3146.5 1362.2 3140.8 1355.9 3132.4 1352.2C3124.1 1348.5 3114.8 1346.8 3103.4 1345.1C3091.9 1343.3 3079.1 1342.2 3063.7 1341.6C3048.3 1341.1 3028.4 1341.1 3010.8 1341.6C2993.2 1342.2 2973.4 1343.7 2957.9 1345.1C2942.5 1346.5 2931.5 1347.7 2918.3 1350.1C2905.1 1352.5 2891.4 1355.5 2878.6 1359.3C2865.9 1363.2 2853.1 1367.9 2841.6 1373.3C2830.2 1378.8 2819.6 1384.8 2809.9 1391.9C2800.2 1398.9 2791.8 1407.9 2783.5 1415.7C2775.1 1423.4 2767.1 1432 2759.7 1438.1C2752.2 1444.3 2745.1 1449.6 2738.5 1452.7C2731.9 1455.7 2726.2 1455.3 2720 1456.6C2720 1603.5 2720 1750.5 2720 1897.4C2727.1 1900.9 2736.3 1901.8 2741.2 1907.9C2746 1914.1 2746.4 1925.6 2749.1 1934.4C2751.7 1943.2 2754.4 1954.2 2757 1960.8C2759.6 1967.3 2762.3 1969.6 2764.9 1974C2764.9 1974 2764.9 1974 2764.9 1974Z" fill="#8dc97d" stroke="#2a1c3a" stroke-width="2.6" /><path d="M2720 1461.9C2725.3 1459.3 2730.1 1457.5 2735.9 1454C2741.6 1450.5 2747.3 1446.5 2754.4 1440.8C2761.4 1435 2769.4 1427.1 2778.2 1419.6C2787 1412.1 2797.6 1402.9 2807.2 1395.8C2816.9 1388.8 2826.2 1382.8 2836.3 1377.3C2846.5 1371.8 2856.6 1367 2868.1 1362.8C2879.5 1358.6 2892.3 1354.8 2905.1 1352.2C2917.8 1349.6 2931.5 1348.1 2944.7 1346.9C2957.9 1345.7 2969 1345.3 2984.4 1345.1C2999.8 1344.8 3022.7 1344.8 3037.3 1345.6C3051.8 1346.3 3063.5 1348 3071.6 1349.6C3078.5 1350.8 3081.3 1353.1 3086.2 1354.8C3081.3 1356.6 3078.5 1358.8 3071.6 1360.1C3063.5 1361.7 3051.8 1362.1 3037.3 1364.1C3022.7 1366.1 2999.8 1368.9 2984.4 1372C2969 1375.1 2957.9 1378.6 2944.7 1382.6C2931.5 1386.6 2917 1391 2905.1 1395.8C2893.2 1400.7 2883.5 1405.5 2873.3 1411.7C2863.2 1417.9 2852.2 1425.3 2844.3 1432.8C2836.3 1440.3 2830.6 1448.3 2825.8 1456.6C2820.9 1465 2817.6 1473.4 2815.2 1483.1C2812.8 1492.8 2811.9 1503.8 2811.2 1514.8C2810.6 1525.8 2811 1537.7 2811.2 1549.2C2811.4 1560.6 2813.6 1573.4 2812.5 1583.5C2811.4 1593.7 2809 1601.6 2804.6 1610C2800.2 1618.3 2793.1 1626.7 2786.1 1633.8C2779 1640.8 2767.6 1648.7 2762.3 1652.3C2759.2 1654.4 2757 1656.7 2754.4 1654.9C2751.7 1653.2 2748.4 1648.3 2746.4 1641.7C2744.5 1635.1 2746.9 1621.9 2742.5 1615.3C2738.1 1608.6 2727.5 1606.4 2720 1602C2720 1555.3 2720 1508.6 2720 1461.9Z" fill="#f2e636" stroke="#2a1c3a" stroke-width="2.6" /><path d="M2828.4 1409C2829.5 1406 2831.2 1400.5 2836.3 1395.8C2841.6 1391 2850.9 1384.6 2860.1 1380C2869.4 1375.3 2880 1371.6 2891.8 1368.1C2903.7 1364.5 2918.3 1361.1 2931.5 1358.8C2944.7 1356.5 2957.9 1355.2 2971.2 1354C2984.4 1352.9 3000.7 1352.3 3010.8 1352.2C3020.4 1352.1 3028 1352.6 3032 1353.5C3034.1 1354 3036.6 1356.6 3034.6 1357.5C3031.1 1359.2 3021.4 1361.4 3010.8 1363.6C3000.2 1365.8 2984.4 1368 2971.2 1370.7C2957.9 1373.4 2944.7 1376.4 2931.5 1380C2918.3 1383.5 2903.7 1387.9 2891.8 1391.9C2880 1395.8 2868.9 1400.2 2860.1 1403.8C2851.3 1407.3 2844 1411.2 2839 1413C2835 1414.4 2831.5 1415 2829.7 1414.3C2828 1413.7 2827.6 1411.4 2828.4 1409Z" fill="#f6a42e" stroke="#2a1c3a" stroke-width="2.6" /><path d="M2720 1454C2727.9 1452.7 2735 1451.3 2743.8 1450C2752.6 1448.7 2764.1 1446.9 2772.9 1446.1C2781.7 1445.2 2791.4 1443.9 2796.7 1444.7C2801.3 1445.5 2803.5 1446.8 2804.6 1451.3C2806.1 1457.7 2805.9 1471.2 2805.9 1483.1C2805.9 1495 2805.3 1509.5 2804.6 1522.7C2803.9 1535.9 2803.3 1551.4 2802 1562.4C2800.6 1573.4 2799.8 1580.9 2796.7 1588.8C2793.6 1596.8 2788.7 1603.8 2783.5 1610C2778.2 1616.1 2769.8 1622.7 2764.9 1625.8C2760.8 1628.5 2757.5 1630.2 2754.4 1628.5C2751.3 1626.7 2752.1 1619.2 2746.4 1615.3C2740.7 1611.3 2728.8 1608.2 2720 1604.7C2720 1554.5 2720 1504.2 2720 1454Z" fill="#f6a42e" stroke="#2a1c3a" stroke-width="2.6" /><path d="M2720 1480.4C2728.8 1479.5 2737.6 1478.7 2746.4 1477.8C2755.3 1476.9 2765.6 1474.7 2772.9 1475.1C2780.1 1475.6 2786.3 1475.6 2790.1 1480.4C2793.8 1485.3 2794.5 1495 2795.3 1504.2C2796.2 1513.5 2795.8 1525.4 2795.3 1535.9C2794.9 1546.5 2794.7 1558.9 2792.7 1567.7C2790.7 1576.5 2787.6 1582.7 2783.5 1588.8C2779.3 1595 2772.4 1601.8 2767.6 1604.7C2762.7 1607.5 2757.9 1607.8 2754.4 1606C2750.8 1604.2 2751.8 1597.6 2746.4 1594.1C2740.7 1590.4 2728.8 1587.1 2720 1583.5C2720 1549.2 2720 1514.8 2720 1480.4Z" fill="#ee5b2b" stroke="#2a1c3a" stroke-width="2.6" /><path d="M2720 1498.9C2728.8 1498.5 2738.5 1498 2746.4 1497.6C2754.4 1497.2 2761.9 1495.2 2767.6 1496.3C2773.3 1497.4 2777.9 1498.5 2780.8 1504.2C2783.7 1509.9 2784.3 1521.8 2784.8 1530.7C2785.2 1539.5 2784.8 1549.6 2783.5 1557.1C2782.1 1564.6 2779.9 1570.8 2776.8 1575.6C2773.8 1580.4 2768.7 1584.6 2764.9 1586.2C2761.2 1587.7 2757.5 1587.1 2754.4 1584.9C2751.3 1582.7 2751.8 1576.5 2746.4 1573C2740.7 1569.2 2728.8 1565.9 2720 1562.4C2720 1541.2 2720 1520.1 2720 1498.9Z" fill="#e4342a" stroke="#2a1c3a" stroke-width="2.6" /><path d="M2746.4 1509.5C2749.5 1505.5 2760.1 1505.5 2764.9 1506.9C2769.8 1508.2 2773.3 1511.7 2775.5 1517.4C2777.7 1523.2 2778.4 1533.7 2778.2 1541.2C2777.9 1548.7 2776.4 1556.7 2774.2 1562.4C2772 1568.1 2768.2 1573.8 2764.9 1575.6C2761.6 1577.4 2757.2 1576 2754.4 1573C2751.5 1569.9 2749.1 1564.1 2747.8 1557.1C2746.4 1550 2746.7 1538.6 2746.4 1530.7C2746.2 1522.7 2743.4 1513.5 2746.4 1509.5Z" fill="#dc3029" stroke="#2a1c3a" stroke-width="2.6" /><g filter="url(#bl3)" opacity=".85"><ellipse cx="2723" cy="1535" rx="13" ry="95" fill="#120c18"/></g><path d="M2747.8 1849.8C2748 1844.7 2750.4 1838.3 2751.7 1839.2C2753 1840.1 2754.7 1847.8 2755.7 1855.1C2756.8 1863 2757.9 1876.2 2758.3 1886.8C2758.8 1897.4 2758.8 1911.5 2758.3 1918.5C2758 1923.4 2756.8 1928.2 2755.7 1929.1C2754.6 1930 2752.3 1926.7 2751.7 1923.8C2750.6 1918.1 2749.7 1907.1 2749.1 1894.7C2748.4 1882.4 2747.3 1859 2747.8 1849.8Z" fill="#f2e636" stroke="#2a1c3a" stroke-width="2.6" /><path d="M3313.2 2016.3C3313.2 2013 3317.7 2008.7 3323.8 2007.1C3331.7 2005 3345.8 2004.2 3360.8 2003.7C3375.8 2003.1 3396.1 2003.5 3413.7 2003.7C3431.3 2003.8 3449.8 2003.9 3466.6 2004.4C3483.3 2005 3504.5 2005.5 3514.2 2007.1C3519.7 2008 3523.9 2010.4 3524.7 2013.7C3525.6 2017 3523.9 2023 3519.5 2026.9C3515 2030.9 3508.6 2035 3498.3 2037.5C3487.3 2040.1 3469.7 2042.1 3453.4 2042.8C3437.1 2043.4 3416.8 2042.6 3400.5 2041.5C3384.2 2040.4 3368.3 2038.6 3355.5 2036.2C3342.8 2033.7 3330.9 2030.2 3323.8 2026.9C3317.7 2024.1 3313.2 2019.6 3313.2 2016.3Z" fill="#8dc97d" stroke="#2a1c3a" stroke-width="2.6" /><path d="M3358.2 2025.6C3358.2 2023.2 3363.2 2019.8 3368.8 2019C3378 2017.7 3399.6 2017.8 3413.7 2017.7C3427.8 2017.6 3441.5 2017.6 3453.4 2018.5C3465.3 2019.3 3478.9 2021.1 3485.1 2023C3488.7 2024 3491.2 2027.4 3490.4 2029.6C3489.5 2031.8 3485.3 2035.1 3479.8 2036.2C3471.4 2037.8 3453.4 2039.2 3440.1 2039.6C3426.9 2040 3412.4 2039.8 3400.5 2038.8C3388.6 2037.8 3375.8 2035.7 3368.8 2033.5C3363.1 2031.8 3358.2 2028 3358.2 2025.6Z" fill="#f2e636" stroke="#2a1c3a" stroke-width="2.6" /><path d="M3641.1 1709.7C3639.3 1712.3 3638.4 1714.2 3635.8 1717.6C3632.7 1721.6 3627.4 1726.8 3622.6 1733.5C3617.7 1740.1 3611.8 1748 3606.7 1757.2C3601.6 1766.5 3596.3 1777.1 3592.2 1789C3588 1800.9 3584.7 1813.2 3581.6 1828.6C3578.5 1844.1 3575.9 1863.9 3573.6 1881.5C3571.4 1899.1 3569.5 1919 3568.4 1934.4C3567.3 1949.8 3566.4 1965.4 3567 1974C3567.5 1979.9 3568.8 1984.6 3572.3 1985.9C3575.9 1987.3 3582 1984.8 3588.2 1982C3594.4 1979.1 3602.7 1974 3609.3 1968.8C3615.9 1963.5 3622.6 1956.9 3627.8 1950.2C3633.1 1943.6 3637.1 1933.9 3641.1 1929.1C3644.8 1924.5 3646 1922.9 3651.6 1921.2C3658.7 1919 3672.8 1917.6 3683.4 1915.9C3683.4 1848 3683.4 1780.2 3683.4 1712.3C3669.3 1711.4 3655.2 1710.5 3641.1 1709.7Z" fill="#8dc97d" stroke="#2a1c3a" stroke-width="2.6" /><path d="M3642.4 1722.9C3638.4 1729.9 3634.7 1736.5 3630.5 1744C3626.3 1751.5 3621.7 1759 3617.3 1767.8C3612.9 1776.6 3607.8 1785.9 3604.1 1796.9C3600.3 1807.9 3597.2 1819.8 3594.8 1833.9C3592.4 1848 3590.6 1867 3589.5 1881.5C3588.4 1896 3588.2 1908.8 3588.2 1921.2C3588.2 1933.5 3588.2 1948.5 3589.5 1955.5C3590.4 1960.1 3592.4 1963 3596.1 1963.5C3599.9 1963.9 3606.7 1961.3 3612 1958.2C3617.3 1955.1 3623 1950.2 3627.8 1945C3632.7 1939.7 3632.6 1932.1 3641.1 1926.5C3650.3 1920.3 3669.3 1914.1 3683.4 1907.9C3683.4 1847.1 3683.4 1786.3 3683.4 1725.5C3669.7 1724.6 3656 1723.8 3642.4 1722.9Z" fill="#f2e636" stroke="#2a1c3a" stroke-width="2.6" /><path d="M3642.4 1746.7C3639.3 1752.8 3636.4 1758.1 3633.1 1765.2C3629.8 1772.2 3626.1 1779.7 3622.6 1789C3619 1798.2 3614.6 1809.7 3612 1820.7C3609.3 1831.7 3607.8 1842.7 3606.7 1855.1C3605.6 1867.4 3605.2 1882.4 3605.4 1894.7C3605.6 1907.1 3606.5 1921.2 3608 1929.1C3609.3 1935.6 3611.3 1941.4 3614.6 1942.3C3617.9 1943.2 3623.4 1938.3 3627.8 1934.4C3632.3 1930.4 3633 1923.1 3641.1 1918.5C3650.3 1913.2 3669.3 1907.9 3683.4 1902.7C3683.4 1851.5 3683.4 1800.4 3683.4 1749.3C3669.7 1748.4 3656 1747.6 3642.4 1746.7Z" fill="#f6a42e" stroke="#2a1c3a" stroke-width="2.6" /><path d="M3642.4 1770.5C3639.3 1776.6 3636 1781.9 3633.1 1789C3630.3 1796 3627.6 1804 3625.2 1812.8C3622.8 1821.6 3620.1 1831.3 3618.6 1841.8C3617.1 1852.4 3616.2 1865.2 3615.9 1876.2C3615.7 1887.2 3616.2 1900.5 3617.3 1907.9C3618.2 1914.3 3619.9 1919.8 3622.6 1921.2C3625.2 1922.5 3629.6 1919 3633.1 1915.9C3636.7 1912.8 3636.8 1905.9 3643.7 1902.7C3652.1 1898.7 3670.1 1895.6 3683.4 1892.1C3683.4 1852.4 3683.4 1812.8 3683.4 1773.1C3669.7 1772.2 3656 1771.3 3642.4 1770.5Z" fill="#ee5b2b" stroke="#2a1c3a" stroke-width="2.6" /><path d="M3641.1 1794.3C3638.4 1800.4 3635.3 1805.3 3633.1 1812.8C3630.9 1820.3 3629.2 1830 3627.8 1839.2C3626.5 1848.5 3625.4 1859.5 3625.2 1868.3C3625 1877.1 3625.4 1886.4 3626.5 1892.1C3627.5 1897.3 3629.8 1901.8 3631.8 1902.7C3633.8 1903.5 3636.3 1900.5 3638.4 1897.4C3640.8 1893.8 3639.5 1885.6 3646.4 1881.5C3653.8 1877.1 3671 1874.5 3683.4 1870.9C3683.4 1846.3 3683.4 1821.6 3683.4 1796.9C3669.3 1796 3655.2 1795.1 3641.1 1794.3Z" fill="#e4342a" stroke="#2a1c3a" stroke-width="2.6" /><g filter="url(#bl3)" opacity=".9"><rect x="3653" y="1690" width="14" height="230" fill="#120c18"/></g><g filter="url(#bl2)"><path d="M3169.1 1375.6L3172.2 1376.9L3175.1 1378.2L3177.8 1379.6L3180.4 1381L3182.8 1382.4L3185.2 1384L3187.4 1385.6L3189.5 1387.4L3191.6 1389.3L3193.6 1391.5L3195.5 1393.9L3197.4 1396.4L3199.3 1399.1L3201 1401.9L3202.7 1404.8L3204.4 1407.7L3205.9 1410.7L3207.4 1413.7L3208.8 1416.7L3210.1 1419.6L3211.3 1422.4L3212.5 1425.2L3213.6 1428L3214.6 1430.7L3215.5 1433.3L3216.3 1435.9L3217.1 1438.3L3217.8 1440.7L3218.4 1443L3219 1445.2L3219.7 1447.4L3220.3 1449.5L3220.9 1451.5L3221.5 1453.4L3222 1455.2L3222.6 1456.9L3223.1 1458.5L3223.7 1460.1L3224.3 1461.6L3225 1463.2L3225.6 1464.8L3226.3 1466.5L3226.9 1468.3L3227.5 1470.3L3228.1 1472.3L3228.6 1474.5L3229.1 1476.7L3229.6 1479L3230 1481.3L3230.4 1483.6L3230.7 1485.8L3231 1488L3231.3 1490.4L3231.4 1492.8L3231.6 1495.4L3231.7 1498L3231.8 1500.7L3231.8 1503.5L3231.8 1506.2L3231.8 1509L3231.8 1511.6L3231.7 1514.1L3231.5 1516.7L3231.3 1519.4L3231.1 1522.1L3230.9 1524.9L3230.6 1527.7L3230.2 1530.5L3229.9 1533.4L3229.5 1536.3L3229.1 1539.1L3228.7 1541.8L3228.2 1544.6L3227.8 1547.4L3227.2 1550.3L3226.7 1553.2L3226.1 1556.1L3225.5 1559.1L3224.8 1562.1L3224.2 1565.1L3223.5 1568.1L3222.9 1571.1L3222.2 1574L3221.5 1577L3220.8 1579.9L3220 1582.8L3219.3 1585.7L3218.5 1588.6L3217.7 1591.5L3216.9 1594.3L3216.1 1597.1L3215.2 1599.9L3214.3 1602.8L3213.3 1605.7L3212.3 1608.7L3211.3 1611.7L3210.3 1614.7L3209.2 1617.8L3208.1 1620.9L3207 1624L3205.9 1627.1L3204.8 1630L3203.8 1632.9L3202.7 1635.8L3201.7 1638.7L3200.6 1641.6L3199.4 1644.6L3198.2 1647.8L3196.9 1651L3195.6 1654.4L3194.2 1657.9L3192.7 1661.5L3191 1665.5L3189.2 1669.6L3187.4 1673.9L3185.5 1678.3L3183.6 1682.8L3181.7 1687.4L3179.9 1692L3178.1 1696.6L3176.5 1701L3175 1705.3L3173.5 1709.6L3172 1713.8L3170.6 1718L3169.3 1722.1L3167.9 1726.3L3166.6 1730.4L3165.4 1734.6L3164.1 1738.7L3162.8 1743L3161.6 1747.3L3160.4 1751.6L3159.3 1755.9L3158.1 1760.1L3157.1 1764.2L3156 1768.3L3155 1772.3L3154 1776.2L3153.1 1780L3152.1 1783.7L3151.2 1787.4L3150.4 1791.1L3149.5 1794.7L3148.6 1798.3L3147.8 1801.8L3147 1805.4L3146.2 1808.9L3145.5 1812.5L3144.8 1816.1L3144.1 1819.7L3143.4 1823.2L3142.7 1826.7L3142.1 1830.2L3141.6 1833.7L3141 1837.1L3140.5 1840.4L3140 1843.7L3139.5 1846.9L3139.1 1850.1L3138.7 1853.2L3138.3 1856.3L3138 1859.3L3137.6 1862.2L3137.4 1865.1L3137.1 1867.9L3136.9 1870.6L3136.6 1873.3L3136.4 1876L3136.2 1878.8L3136 1881.6L3135.8 1884.4L3135.6 1887.2L3135.5 1890L3135.3 1892.9L3135.2 1895.7L3135.1 1898.5L3135 1901.4L3134.9 1904.2L3135.1 1907.1L3135.4 1910L3135.9 1913L3136.6 1915.9L3137.6 1918.7L3138.7 1921.5L3140.1 1924.2L3141.8 1926.9L3143.7 1929.5L3146 1932L3148.6 1934.4L3151.8 1936.9L3155.9 1939.3L3161.9 1941.7L3181.7 1941.7L3187.7 1939.3L3191.7 1936.9L3194.9 1934.4L3197.6 1931.7L3199.8 1929.1L3201.7 1926.4L3203.3 1923.8L3204.7 1921.1L3205.8 1918.6L3206.8 1916L3207.5 1913.6L3208.1 1911.2L3208.5 1908.8L3208.8 1906.4L3208.9 1904L3209 1901.5L3209.1 1899L3209.2 1896.6L3209.4 1894.1L3209.5 1891.7L3209.7 1889.2L3209.8 1886.7L3210 1884.2L3210.2 1881.7L3210.4 1879.3L3210.6 1876.9L3210.8 1874.5L3211 1872.2L3211.2 1869.8L3211.5 1867.5L3211.8 1865.1L3212.1 1862.6L3212.4 1860L3212.8 1857.3L3213.2 1854.5L3213.6 1851.6L3214.1 1848.7L3214.6 1845.7L3215.1 1842.7L3215.6 1839.7L3216.2 1836.7L3216.7 1833.6L3217.3 1830.6L3217.9 1827.6L3218.6 1824.5L3219.3 1821.4L3220 1818.2L3220.7 1815L3221.5 1811.8L3222.3 1808.4L3223.1 1805L3224 1801.5L3224.9 1797.9L3225.8 1794.2L3226.8 1790.4L3227.7 1786.6L3228.7 1782.7L3229.7 1778.9L3230.7 1775L3231.8 1771.2L3232.8 1767.4L3233.9 1763.6L3235 1759.9L3236.1 1756.2L3237.3 1752.4L3238.5 1748.7L3239.7 1744.9L3240.9 1741.2L3242.1 1737.5L3243.4 1733.8L3244.7 1730.1L3246 1726.4L3247.4 1722.7L3248.8 1719L3250.3 1715.2L3252 1711.2L3253.7 1707.1L3255.5 1702.9L3257.3 1698.7L3259.1 1694.4L3260.9 1690.2L3262.7 1685.9L3264.3 1681.9L3265.8 1678.1L3267.2 1674.6L3268.5 1671.1L3269.8 1667.8L3271 1664.6L3272.1 1661.4L3273.3 1658.3L3274.4 1655.2L3275.6 1652L3276.7 1648.8L3277.9 1645.6L3279 1642.3L3280.1 1639.1L3281.3 1635.8L3282.4 1632.4L3283.6 1629L3284.7 1625.6L3285.8 1622.1L3286.9 1618.6L3287.9 1615.1L3288.9 1611.6L3289.9 1608.1L3290.8 1604.6L3291.7 1601.2L3292.6 1597.7L3293.4 1594.3L3294.2 1590.9L3295 1587.5L3295.8 1584.1L3296.5 1580.8L3297.2 1577.5L3297.9 1574.1L3298.6 1570.8L3299.3 1567.4L3300 1563.9L3300.6 1560.4L3301.2 1556.9L3301.8 1553.3L3302.3 1549.7L3302.8 1546.2L3303.3 1542.7L3303.7 1539.3L3304.1 1535.8L3304.5 1532.2L3304.8 1528.6L3305.1 1525L3305.4 1521.3L3305.6 1517.6L3305.7 1513.8L3305.8 1510L3305.8 1506.4L3305.8 1502.8L3305.8 1499.1L3305.7 1495.4L3305.5 1491.6L3305.3 1487.7L3305 1483.8L3304.6 1479.9L3304.1 1475.9L3303.5 1472L3302.9 1468.2L3302.2 1464.5L3301.4 1460.7L3300.5 1457L3299.5 1453.2L3298.5 1449.4L3297.3 1445.6L3296 1441.8L3294.6 1438L3293.1 1434.2L3291.4 1430.6L3289.6 1427L3287.6 1423.6L3285.4 1420.4L3283.1 1417.4L3280.7 1414.5L3278.2 1411.8L3275.5 1409.3L3272.8 1406.9L3269.9 1404.6L3266.9 1402.4L3263.7 1400.2L3260.5 1398.2L3257.2 1396.4L3253.8 1394.7L3250.4 1393.1L3247 1391.6L3243.5 1390.3L3240.1 1389.1L3236.6 1387.9L3233 1386.8L3229.4 1385.8L3225.7 1384.8L3222 1383.8L3218.3 1382.9L3214.6 1382L3210.9 1381.2L3207.3 1380.4L3203.7 1379.7L3200.3 1379L3196.9 1378.4L3193.7 1377.9L3190.7 1377.5L3187.7 1377.2L3184.8 1376.8L3181.9 1376.4L3179 1376L3176.1 1375.4L3173 1374.7L3169.8 1373.7Z" fill="#86b85e" stroke="#2a1c3a" stroke-width="2.2" stroke-linejoin="round" /><path d="M3196.4 1386.1L3199 1387.8L3201.6 1389.6L3204 1391.7L3206.4 1394L3208.7 1396.5L3210.8 1399L3212.8 1401.7L3214.7 1404.5L3216.4 1407.3L3218 1410.1L3219.5 1412.9L3220.9 1415.7L3222.2 1418.6L3223.4 1421.4L3224.5 1424.3L3225.4 1427.1L3226.3 1429.8L3227.1 1432.5L3227.7 1435.2L3228.3 1437.8L3228.9 1440.4L3229.4 1442.9L3229.8 1445.4L3230.2 1447.7L3230.5 1450L3230.8 1452.1L3231.1 1454.2L3231.3 1456.3L3231.5 1458.3L3231.7 1460.3L3232 1462.3L3232.3 1464.3L3232.7 1466.4L3233.3 1468.6L3233.8 1470.8L3234.4 1473L3235 1475.4L3235.5 1477.8L3235.9 1480.2L3236.3 1482.6L3236.7 1485L3237 1487.4L3237.2 1489.9L3237.4 1492.4L3237.6 1495.1L3237.7 1497.8L3237.8 1500.6L3237.8 1503.4L3237.8 1506.2L3237.8 1509.1L3237.8 1511.7L3237.7 1514.4L3237.5 1517.1L3237.3 1519.9L3237.1 1522.6L3236.8 1525.5L3236.5 1528.3L3236.2 1531.2L3235.8 1534.2L3235.5 1537.1L3235.1 1539.9L3234.6 1542.7L3234.2 1545.6L3233.7 1548.5L3233.1 1551.4L3232.6 1554.3L3232 1557.3L3231.4 1560.3L3230.7 1563.3L3230.1 1566.4L3229.4 1569.4L3228.7 1572.4L3228 1575.4L3227.3 1578.4L3226.6 1581.4L3225.9 1584.3L3225.1 1587.3L3224.3 1590.2L3223.5 1593.1L3222.7 1596L3221.8 1598.9L3220.9 1601.7L3220 1604.7L3219 1607.6L3218 1610.6L3217 1613.6L3215.9 1616.7L3214.8 1619.8L3213.7 1622.9L3212.6 1626L3211.5 1629.1L3210.5 1632.1L3209.4 1635L3208.4 1637.9L3207.3 1640.8L3206.2 1643.8L3205 1646.8L3203.8 1649.9L3202.5 1653.2L3201.2 1656.6L3199.7 1660.1L3198.2 1663.8L3196.5 1667.8L3194.8 1672L3192.9 1676.2L3191.1 1680.7L3189.2 1685.1L3187.3 1689.7L3185.5 1694.2L3183.8 1698.7L3182.2 1703.1L3180.6 1707.3L3179.1 1711.5L3177.7 1715.7L3176.3 1719.9L3175 1724L3173.6 1728.1L3172.4 1732.2L3171.1 1736.3L3169.8 1740.4L3168.6 1744.7L3167.4 1748.9L3166.2 1753.2L3165.1 1757.4L3163.9 1761.6L3162.9 1765.7L3161.8 1769.8L3160.8 1773.8L3159.8 1777.7L3158.9 1781.5L3158 1785.2L3157.1 1788.8L3156.2 1792.5L3155.3 1796.1L3154.5 1799.6L3153.7 1803.2L3152.9 1806.7L3152.1 1810.2L3151.4 1813.7L3150.6 1817.3L3150 1820.8L3149.3 1824.3L3148.7 1827.8L3148.1 1831.2L3147.5 1834.7L3146.9 1838L3146.4 1841.3L3145.9 1844.6L3145.5 1847.8L3145 1850.9L3144.6 1854L3144.3 1857L3143.9 1860L3143.6 1862.8L3143.3 1865.6L3143.1 1868.4L3142.8 1871.1L3142.6 1873.8L3142.4 1876.5L3142.2 1879.2L3142 1882L3141.8 1884.8L3141.6 1887.6L3141.5 1890.4L3141.3 1893.2L3141.2 1896L3141.1 1898.8L3141.1 1901.6L3141.4 1904.4L3141.8 1907.2L3142.5 1910.1L3143.5 1913L3144.7 1915.9L3146.3 1918.7L3148.2 1921.5L3150.5 1924.2L3153.5 1926.8L3157.3 1929.4L3163.2 1931.9L3180.4 1931.8L3186.2 1929.2L3190 1926.5L3192.9 1923.8L3195.2 1921.2L3197.1 1918.6L3198.7 1916L3199.9 1913.5L3200.9 1911.1L3201.7 1908.7L3202.3 1906.2L3202.8 1903.7L3203 1901.3L3203.1 1898.8L3203.2 1896.3L3203.4 1893.8L3203.5 1891.3L3203.7 1888.8L3203.8 1886.3L3204 1883.8L3204.2 1881.3L3204.4 1878.8L3204.6 1876.4L3204.8 1874L3205 1871.6L3205.3 1869.2L3205.5 1866.8L3205.8 1864.4L3206.1 1861.9L3206.5 1859.2L3206.9 1856.5L3207.3 1853.6L3207.7 1850.7L3208.2 1847.8L3208.7 1844.7L3209.2 1841.7L3209.7 1838.7L3210.3 1835.6L3210.8 1832.5L3211.4 1829.4L3212.1 1826.3L3212.7 1823.2L3213.4 1820.1L3214.1 1816.9L3214.9 1813.7L3215.6 1810.4L3216.4 1807L3217.3 1803.6L3218.1 1800.1L3219 1796.5L3220 1792.8L3220.9 1789L3221.9 1785.1L3222.9 1781.2L3223.9 1777.3L3224.9 1773.5L3226 1769.6L3227.1 1765.7L3228.1 1761.9L3229.3 1758.2L3230.4 1754.4L3231.6 1750.6L3232.7 1746.8L3233.9 1743.1L3235.2 1739.3L3236.4 1735.6L3237.7 1731.9L3239 1728.1L3240.4 1724.3L3241.8 1720.6L3243.2 1716.8L3244.8 1713L3246.4 1708.9L3248.2 1704.8L3250 1700.6L3251.8 1696.3L3253.6 1692.1L3255.4 1687.8L3257.1 1683.7L3258.7 1679.6L3260.2 1675.9L3261.6 1672.4L3262.9 1669L3264.1 1665.7L3265.4 1662.5L3266.5 1659.4L3267.7 1656.2L3268.8 1653.1L3269.9 1650L3271.1 1646.8L3272.2 1643.6L3273.3 1640.3L3274.5 1637.1L3275.6 1633.8L3276.7 1630.5L3277.9 1627.1L3279 1623.7L3280.1 1620.3L3281.1 1616.9L3282.2 1613.4L3283.2 1609.9L3284.1 1606.5L3285 1603.1L3285.9 1599.7L3286.8 1596.3L3287.6 1592.9L3288.4 1589.5L3289.2 1586.2L3289.9 1582.8L3290.6 1579.5L3291.4 1576.2L3292.1 1572.9L3292.7 1569.6L3293.4 1566.2L3294.1 1562.8L3294.7 1559.4L3295.3 1555.9L3295.9 1552.4L3296.4 1548.9L3296.9 1545.4L3297.3 1542L3297.8 1538.5L3298.2 1535.1L3298.5 1531.6L3298.9 1528.1L3299.1 1524.5L3299.4 1520.9L3299.6 1517.3L3299.7 1513.6L3299.8 1510L3299.8 1506.4L3299.8 1502.8L3299.8 1499.2L3299.7 1495.6L3299.5 1491.9L3299.3 1488.1L3299 1484.4L3298.6 1480.5L3298.1 1476.7L3297.6 1472.9L3297 1469.3L3296.3 1465.6L3295.5 1462L3294.7 1458.4L3293.7 1454.7L3292.7 1451.1L3291.4 1447.5L3289.9 1444L3288.2 1440.5L3286.3 1437.1L3284.3 1433.9L3282 1430.8L3279.7 1427.9L3277.2 1425.2L3274.6 1422.6L3272 1420.2L3269.3 1418L3266.5 1415.9L3263.6 1413.9L3260.7 1412L3257.6 1410.1L3254.5 1408.4L3251.3 1406.7L3248.1 1405.2L3244.9 1403.7L3241.6 1402.4L3238.4 1401L3235.1 1399.8L3231.9 1398.6L3228.6 1397.4L3225.4 1396.2L3222.1 1395L3218.9 1393.8L3215.6 1392.5L3212.4 1391.2L3209.2 1389.9L3206.1 1388.5L3203.1 1387.2L3200.2 1385.8L3197.4 1384.4Z" fill="#b9c940" stroke="#2a1c3a" stroke-width="2.2" stroke-linejoin="round" /><path d="M3209.9 1394.7L3212.5 1396.8L3214.9 1399L3217.2 1401.3L3219.4 1403.7L3221.4 1406.1L3223.3 1408.6L3225.1 1411.1L3226.7 1413.7L3228.3 1416.3L3229.7 1419L3231 1421.7L3232.3 1424.3L3233.3 1427L3234.3 1429.7L3235.2 1432.3L3236 1435L3236.7 1437.6L3237.4 1440.1L3237.9 1442.7L3238.4 1445.1L3238.7 1447.5L3239 1449.9L3239.3 1452.3L3239.5 1454.6L3239.6 1456.9L3239.7 1459.3L3239.8 1461.7L3240 1464.1L3240.1 1466.5L3240.2 1469L3240.4 1471.6L3240.7 1474.1L3241 1476.7L3241.4 1479.3L3241.8 1481.8L3242.1 1484.2L3242.5 1486.8L3242.7 1489.4L3242.9 1492L3243.1 1494.8L3243.2 1497.6L3243.3 1500.5L3243.3 1503.3L3243.3 1506.3L3243.3 1509.1L3243.3 1511.9L3243.2 1514.7L3243 1517.5L3242.8 1520.3L3242.6 1523.1L3242.3 1526L3242 1528.9L3241.7 1531.9L3241.3 1534.9L3240.9 1537.8L3240.5 1540.7L3240.1 1543.6L3239.6 1546.5L3239.1 1549.4L3238.5 1552.4L3238 1555.4L3237.4 1558.4L3236.7 1561.4L3236.1 1564.5L3235.4 1567.5L3234.8 1570.6L3234.1 1573.6L3233.4 1576.7L3232.7 1579.7L3231.9 1582.7L3231.2 1585.7L3230.4 1588.7L3229.6 1591.6L3228.8 1594.6L3227.9 1597.5L3227.1 1600.5L3226.2 1603.4L3225.2 1606.4L3224.2 1609.4L3223.2 1612.4L3222.2 1615.4L3221.1 1618.5L3220 1621.6L3218.9 1624.7L3217.8 1627.9L3216.7 1631L3215.7 1633.9L3214.6 1636.9L3213.5 1639.8L3212.4 1642.7L3211.3 1645.7L3210.1 1648.8L3208.9 1651.9L3207.6 1655.2L3206.3 1658.7L3204.8 1662.2L3203.3 1666L3201.6 1670L3199.8 1674.1L3198 1678.4L3196.1 1682.8L3194.2 1687.2L3192.4 1691.7L3190.6 1696.2L3188.9 1700.7L3187.3 1705L3185.8 1709.2L3184.3 1713.3L3182.9 1717.5L3181.5 1721.6L3180.2 1725.7L3178.9 1729.8L3177.6 1733.8L3176.4 1737.9L3175.1 1742L3173.9 1746.2L3172.7 1750.4L3171.5 1754.6L3170.4 1758.8L3169.3 1763L3168.2 1767.1L3167.2 1771.2L3166.1 1775.1L3165.2 1779L3164.2 1782.8L3163.3 1786.5L3162.4 1790.2L3161.5 1793.8L3160.7 1797.3L3159.8 1800.9L3159 1804.4L3158.2 1807.9L3157.5 1811.4L3156.7 1814.9L3156 1818.3L3155.4 1821.8L3154.7 1825.3L3154.1 1828.8L3153.5 1832.2L3152.9 1835.5L3152.4 1838.9L3151.9 1842.2L3151.4 1845.4L3150.9 1848.5L3150.5 1851.6L3150.1 1854.7L3149.7 1857.7L3149.4 1860.6L3149.1 1863.4L3148.8 1866.2L3148.5 1868.9L3148.3 1871.6L3148.1 1874.3L3147.9 1876.9L3147.7 1879.6L3147.5 1882.4L3147.3 1885.1L3147.1 1887.9L3147 1890.7L3146.8 1893.5L3146.8 1896.2L3146.9 1899L3147.4 1901.8L3148.1 1904.6L3149.1 1907.4L3150.5 1910.3L3152.2 1913.1L3154.6 1915.9L3157.8 1918.7L3162.6 1921.4L3180.8 1921.3L3185.6 1918.6L3188.8 1916L3191.2 1913.4L3193 1910.9L3194.5 1908.5L3195.6 1906L3196.5 1903.5L3197.1 1901L3197.6 1898.5L3197.8 1896L3197.9 1893.5L3198 1891L3198.2 1888.4L3198.4 1885.9L3198.5 1883.4L3198.7 1880.8L3198.9 1878.3L3199.1 1875.9L3199.3 1873.5L3199.6 1871.1L3199.8 1868.6L3200.1 1866.2L3200.4 1863.7L3200.7 1861.2L3201 1858.5L3201.4 1855.7L3201.8 1852.8L3202.3 1849.9L3202.7 1846.9L3203.2 1843.9L3203.7 1840.8L3204.3 1837.7L3204.8 1834.6L3205.4 1831.5L3206 1828.3L3206.7 1825.2L3207.3 1822.1L3208 1818.9L3208.8 1815.7L3209.5 1812.4L3210.3 1809.1L3211.1 1805.7L3211.9 1802.3L3212.8 1798.8L3213.7 1795.1L3214.6 1791.4L3215.6 1787.6L3216.6 1783.8L3217.6 1779.9L3218.6 1775.9L3219.6 1772L3220.7 1768.1L3221.8 1764.2L3222.9 1760.4L3224 1756.6L3225.1 1752.8L3226.3 1749L3227.5 1745.2L3228.7 1741.4L3230 1737.6L3231.2 1733.8L3232.5 1730.1L3233.8 1726.3L3235.2 1722.4L3236.6 1718.7L3238.1 1714.8L3239.7 1710.9L3241.3 1706.8L3243.1 1702.6L3244.9 1698.4L3246.7 1694.1L3248.5 1689.9L3250.3 1685.7L3252 1681.6L3253.6 1677.6L3255.1 1673.9L3256.5 1670.4L3257.8 1667L3259 1663.8L3260.2 1660.6L3261.4 1657.5L3262.5 1654.4L3263.6 1651.2L3264.8 1648.1L3265.9 1644.9L3267 1641.7L3268.1 1638.5L3269.3 1635.3L3270.4 1632L3271.5 1628.7L3272.7 1625.4L3273.8 1622L3274.8 1618.7L3275.9 1615.3L3276.9 1611.8L3277.9 1608.4L3278.8 1605L3279.7 1601.7L3280.6 1598.3L3281.4 1595L3282.3 1591.6L3283 1588.3L3283.8 1585L3284.6 1581.7L3285.3 1578.4L3286 1575.1L3286.7 1571.8L3287.4 1568.5L3288 1565.2L3288.7 1561.8L3289.3 1558.4L3289.9 1555L3290.4 1551.6L3291 1548.1L3291.4 1544.6L3291.9 1541.3L3292.3 1537.9L3292.7 1534.5L3293 1531.1L3293.4 1527.6L3293.7 1524.1L3293.9 1520.6L3294.1 1517L3294.2 1513.4L3294.3 1509.9L3294.3 1506.4L3294.3 1502.9L3294.3 1499.4L3294.2 1495.8L3294 1492.2L3293.8 1488.5L3293.5 1484.8L3293.1 1481.2L3292.7 1477.4L3292.1 1473.8L3291.5 1470.2L3290.8 1466.7L3289.8 1463.3L3288.7 1459.8L3287.3 1456.4L3285.9 1453.1L3284.2 1449.8L3282.4 1446.6L3280.5 1443.5L3278.4 1440.5L3276.3 1437.6L3274 1434.8L3271.7 1432.3L3269.3 1429.8L3266.8 1427.5L3264.3 1425.3L3261.7 1423.2L3259.1 1421.2L3256.5 1419.3L3253.8 1417.5L3251 1415.7L3248.2 1413.9L3245.3 1412.2L3242.5 1410.6L3239.6 1409L3236.7 1407.5L3233.8 1405.9L3231 1404.4L3228.1 1402.9L3225.3 1401.4L3222.5 1399.9L3219.6 1398.2L3216.7 1396.6L3213.9 1394.8L3211.1 1393Z" fill="#f2e636" stroke="#2a1c3a" stroke-width="2.2" stroke-linejoin="round" /><path d="M3229.6 1410.6L3231.7 1412.8L3233.7 1415L3235.5 1417.3L3237.2 1419.7L3238.8 1422.2L3240.3 1424.7L3241.6 1427.2L3242.8 1429.8L3243.9 1432.3L3244.9 1434.9L3245.8 1437.4L3246.6 1440L3247.3 1442.6L3247.8 1445.2L3248.3 1447.7L3248.7 1450.4L3249 1453L3249.1 1455.6L3249.3 1458.3L3249.3 1461.1L3249.3 1463.8L3249.3 1466.6L3249.2 1469.4L3249.1 1472.2L3249 1475.1L3248.9 1477.9L3248.9 1480.7L3248.8 1483.4L3248.7 1486.1L3248.6 1488.8L3248.6 1491.7L3248.6 1494.5L3248.7 1497.4L3248.8 1500.3L3248.8 1503.3L3248.8 1506.3L3248.8 1509.2L3248.8 1512.1L3248.6 1514.9L3248.5 1517.8L3248.3 1520.7L3248.1 1523.6L3247.8 1526.6L3247.5 1529.5L3247.1 1532.5L3246.7 1535.5L3246.4 1538.6L3245.9 1541.5L3245.5 1544.5L3245 1547.4L3244.5 1550.4L3243.9 1553.4L3243.4 1556.4L3242.8 1559.5L3242.1 1562.5L3241.5 1565.6L3240.8 1568.7L3240.1 1571.8L3239.4 1574.9L3238.7 1577.9L3238 1581L3237.3 1584L3236.5 1587L3235.7 1590.1L3234.9 1593.1L3234.1 1596.1L3233.2 1599.1L3232.3 1602.1L3231.4 1605L3230.5 1608L3229.5 1611.1L3228.4 1614.1L3227.4 1617.2L3226.3 1620.3L3225.2 1623.4L3224.1 1626.6L3223 1629.7L3221.9 1632.8L3220.8 1635.8L3219.8 1638.8L3218.7 1641.7L3217.6 1644.7L3216.5 1647.7L3215.3 1650.7L3214 1653.9L3212.7 1657.3L3211.4 1660.7L3209.9 1664.3L3208.3 1668.1L3206.7 1672.1L3204.9 1676.3L3203 1680.6L3201.2 1684.9L3199.3 1689.4L3197.5 1693.8L3195.7 1698.2L3194.1 1702.6L3192.5 1706.8L3191 1711L3189.5 1715.1L3188.1 1719.2L3186.8 1723.3L3185.4 1727.4L3184.1 1731.4L3182.9 1735.5L3181.6 1739.5L3180.4 1743.6L3179.2 1747.7L3178 1751.9L3176.8 1756.1L3175.7 1760.3L3174.6 1764.4L3173.5 1768.5L3172.5 1772.5L3171.5 1776.5L3170.5 1780.4L3169.6 1784.1L3168.6 1787.8L3167.7 1791.5L3166.9 1795.1L3166 1798.6L3165.2 1802.1L3164.4 1805.6L3163.6 1809.1L3162.9 1812.5L3162.1 1816L3161.4 1819.4L3160.8 1822.9L3160.1 1826.3L3159.5 1829.7L3158.9 1833.1L3158.3 1836.4L3157.8 1839.7L3157.3 1843L3156.8 1846.2L3156.4 1849.3L3155.9 1852.4L3155.5 1855.4L3155.2 1858.3L3154.8 1861.2L3154.5 1864L3154.3 1866.7L3154 1869.4L3153.8 1872.1L3153.6 1874.7L3153.4 1877.3L3153.2 1880L3153 1882.8L3152.8 1885.5L3152.6 1888.2L3152.5 1891L3152.7 1893.7L3153.3 1896.5L3154.2 1899.3L3155.5 1902.1L3157.3 1904.9L3160 1907.7L3164.3 1910.5L3179.2 1910.7L3183.6 1908.2L3186.4 1905.7L3188.4 1903.2L3189.9 1900.7L3191 1898.2L3191.8 1895.7L3192.3 1893.2L3192.5 1890.6L3192.7 1888.1L3192.9 1885.5L3193.1 1883L3193.2 1880.4L3193.4 1877.9L3193.7 1875.4L3193.9 1873L3194.1 1870.5L3194.3 1868.1L3194.6 1865.6L3194.9 1863.1L3195.2 1860.5L3195.6 1857.8L3196 1854.9L3196.4 1852L3196.8 1849L3197.3 1846L3197.8 1843L3198.3 1839.9L3198.9 1836.7L3199.4 1833.6L3200 1830.4L3200.7 1827.3L3201.3 1824.1L3202 1820.9L3202.7 1817.7L3203.4 1814.5L3204.2 1811.2L3204.9 1807.9L3205.8 1804.5L3206.6 1801L3207.5 1797.4L3208.4 1793.8L3209.3 1790.1L3210.3 1786.3L3211.2 1782.4L3212.3 1778.5L3213.3 1774.6L3214.3 1770.6L3215.4 1766.7L3216.5 1762.8L3217.6 1758.9L3218.7 1755L3219.9 1751.2L3221.1 1747.3L3222.3 1743.5L3223.5 1739.7L3224.7 1735.9L3226 1732.1L3227.3 1728.3L3228.7 1724.4L3230.1 1720.6L3231.5 1716.7L3233 1712.8L3234.6 1708.8L3236.3 1704.7L3238 1700.5L3239.8 1696.2L3241.7 1692L3243.5 1687.8L3245.2 1683.6L3246.9 1679.5L3248.5 1675.6L3250 1671.9L3251.3 1668.4L3252.6 1665.1L3253.9 1661.8L3255 1658.7L3256.2 1655.6L3257.3 1652.5L3258.5 1649.4L3259.6 1646.3L3260.7 1643.1L3261.8 1639.9L3263 1636.7L3264.1 1633.5L3265.2 1630.2L3266.3 1627L3267.4 1623.7L3268.5 1620.4L3269.6 1617L3270.6 1613.7L3271.6 1610.3L3272.6 1606.9L3273.5 1603.6L3274.4 1600.3L3275.3 1596.9L3276.1 1593.6L3276.9 1590.3L3277.7 1587L3278.4 1583.7L3279.2 1580.5L3279.9 1577.2L3280.6 1573.9L3281.3 1570.7L3282 1567.4L3282.6 1564.1L3283.3 1560.8L3283.9 1557.4L3284.4 1554.1L3285 1550.7L3285.5 1547.3L3286 1543.9L3286.4 1540.6L3286.8 1537.2L3287.2 1533.9L3287.6 1530.5L3287.9 1527.1L3288.2 1523.7L3288.4 1520.3L3288.6 1516.8L3288.7 1513.3L3288.8 1509.8L3288.8 1506.4L3288.8 1502.9L3288.8 1499.5L3288.7 1496L3288.5 1492.4L3288.1 1488.9L3287.6 1485.4L3286.9 1481.8L3286.1 1478.3L3285.1 1474.9L3284 1471.6L3282.7 1468.3L3281.3 1465.1L3279.9 1462L3278.3 1458.9L3276.6 1455.8L3274.9 1452.8L3273 1449.9L3271.1 1447.1L3269.1 1444.4L3267.1 1441.8L3265 1439.4L3262.9 1437L3260.7 1434.8L3258.6 1432.6L3256.4 1430.5L3254.2 1428.5L3251.9 1426.5L3249.7 1424.6L3247.4 1422.6L3245.1 1420.7L3242.7 1418.7L3240.4 1416.8L3238 1414.9L3235.7 1413L3233.3 1411L3231 1409.1Z" fill="#f6a42e" stroke="#2a1c3a" stroke-width="2.2" stroke-linejoin="round" /><path d="M3245.4 1427.8L3247.1 1430L3248.6 1432.4L3249.9 1434.7L3251.2 1437.2L3252.3 1439.6L3253.4 1442.2L3254.3 1444.8L3255.1 1447.4L3255.7 1450.1L3256.3 1452.9L3256.8 1455.7L3257.1 1458.6L3257.4 1461.5L3257.5 1464.4L3257.6 1467.4L3257.7 1470.4L3257.6 1473.4L3257.5 1476.3L3257.4 1479.3L3257.2 1482.2L3256.9 1485.2L3256.6 1488.1L3256.3 1491.1L3256 1494.1L3255.6 1497.2L3255.3 1500.2L3255 1503.2L3254.7 1506.3L3254.5 1509.3L3254.3 1512.2L3254.1 1515.2L3254 1518.1L3253.8 1521.1L3253.5 1524.1L3253.2 1527.1L3252.9 1530.1L3252.6 1533.2L3252.2 1536.2L3251.8 1539.3L3251.4 1542.3L3250.9 1545.3L3250.4 1548.3L3249.9 1551.4L3249.3 1554.4L3248.8 1557.5L3248.1 1560.6L3247.5 1563.7L3246.9 1566.8L3246.2 1569.9L3245.5 1573L3244.8 1576.1L3244.1 1579.2L3243.4 1582.3L3242.6 1585.3L3241.8 1588.4L3241 1591.5L3240.2 1594.5L3239.4 1597.6L3238.5 1600.6L3237.6 1603.6L3236.7 1606.7L3235.7 1609.7L3234.7 1612.8L3233.6 1615.9L3232.6 1619L3231.5 1622.1L3230.4 1625.3L3229.3 1628.4L3228.2 1631.6L3227.1 1634.7L3226 1637.7L3224.9 1640.7L3223.8 1643.6L3222.7 1646.6L3221.6 1649.6L3220.4 1652.7L3219.2 1655.9L3217.9 1659.3L3216.5 1662.8L3215 1666.4L3213.4 1670.2L3211.7 1674.3L3209.9 1678.4L3208.1 1682.7L3206.3 1687.1L3204.4 1691.5L3202.6 1695.9L3200.8 1700.2L3199.2 1704.5L3197.7 1708.7L3196.2 1712.8L3194.7 1716.9L3193.3 1721L3192 1725L3190.7 1729.1L3189.4 1733.1L3188.1 1737.1L3186.9 1741.1L3185.7 1745.2L3184.4 1749.3L3183.3 1753.4L3182.1 1757.5L3181 1761.7L3179.9 1765.8L3178.8 1769.9L3177.8 1773.9L3176.8 1777.8L3175.8 1781.7L3174.9 1785.5L3174 1789.1L3173.1 1792.8L3172.2 1796.3L3171.4 1799.9L3170.6 1803.4L3169.8 1806.8L3169 1810.3L3168.2 1813.7L3167.5 1817.1L3166.8 1820.5L3166.2 1823.9L3165.5 1827.3L3164.9 1830.7L3164.3 1834L3163.8 1837.3L3163.2 1840.6L3162.7 1843.8L3162.3 1847L3161.8 1850.1L3161.4 1853.1L3161 1856.1L3160.6 1859L3160.3 1861.8L3160 1864.5L3159.7 1867.2L3159.5 1869.9L3159.3 1872.5L3159.1 1875.1L3158.9 1877.8L3158.7 1880.4L3158.8 1883.2L3159.3 1885.9L3160.2 1888.7L3161.6 1891.5L3163.7 1894.3L3167.8 1897.2L3176.5 1897.6L3180.8 1895.2L3183.3 1892.7L3185 1890.2L3186.2 1887.7L3187 1885.1L3187.5 1882.6L3187.8 1880L3188 1877.5L3188.2 1875L3188.4 1872.5L3188.6 1870L3188.9 1867.5L3189.1 1865L3189.4 1862.4L3189.8 1859.8L3190.1 1857L3190.5 1854.2L3190.9 1851.2L3191.4 1848.2L3191.9 1845.2L3192.4 1842.1L3192.9 1838.9L3193.5 1835.8L3194 1832.6L3194.6 1829.4L3195.3 1826.2L3195.9 1823L3196.6 1819.8L3197.3 1816.5L3198 1813.3L3198.8 1809.9L3199.6 1806.6L3200.4 1803.2L3201.3 1799.7L3202.1 1796.1L3203 1792.5L3204 1788.7L3204.9 1784.9L3205.9 1781L3206.9 1777.1L3208 1773.2L3209 1769.2L3210.1 1765.2L3211.2 1761.3L3212.3 1757.3L3213.4 1753.5L3214.6 1749.6L3215.8 1745.7L3217 1741.9L3218.2 1738L3219.5 1734.2L3220.8 1730.3L3222.1 1726.4L3223.5 1722.6L3224.9 1718.7L3226.3 1714.8L3227.8 1710.8L3229.5 1706.8L3231.2 1702.6L3233 1698.4L3234.8 1694.1L3236.6 1689.8L3238.4 1685.6L3240.2 1681.5L3241.8 1677.4L3243.4 1673.5L3244.9 1669.9L3246.2 1666.4L3247.5 1663.1L3248.7 1659.9L3249.9 1656.7L3251 1653.7L3252.2 1650.6L3253.3 1647.5L3254.4 1644.4L3255.5 1641.3L3256.6 1638.1L3257.8 1634.9L3258.9 1631.7L3260 1628.4L3261.1 1625.2L3262.2 1621.9L3263.3 1618.7L3264.3 1615.4L3265.4 1612.1L3266.3 1608.8L3267.3 1605.4L3268.2 1602.2L3269.1 1598.9L3269.9 1595.6L3270.8 1592.3L3271.6 1589L3272.3 1585.8L3273.1 1582.5L3273.8 1579.3L3274.5 1576L3275.2 1572.8L3275.9 1569.6L3276.6 1566.3L3277.2 1563L3277.8 1559.8L3278.4 1556.5L3279 1553.2L3279.6 1549.8L3280.1 1546.5L3280.5 1543.2L3281 1539.9L3281.4 1536.6L3281.8 1533.3L3282.1 1530L3282.4 1526.6L3282.7 1523.3L3282.9 1519.9L3283.1 1516.5L3283.2 1513.1L3283.1 1509.7L3283 1506.4L3282.7 1503L3282.3 1499.6L3281.8 1496.2L3281.1 1492.8L3280.4 1489.4L3279.6 1486.1L3278.7 1482.8L3277.7 1479.5L3276.6 1476.3L3275.4 1473.1L3274.1 1470.1L3272.8 1467L3271.5 1464L3270 1461.1L3268.6 1458.2L3267.1 1455.3L3265.5 1452.6L3263.9 1449.9L3262.3 1447.3L3260.7 1444.8L3259 1442.4L3257.4 1440L3255.7 1437.7L3254 1435.4L3252.3 1433.2L3250.5 1431L3248.8 1428.8L3247 1426.5Z" fill="#ee5b2b" stroke="#2a1c3a" stroke-width="2.2" stroke-linejoin="round" /></g><g filter="url(#bl3)" opacity=".62"><path d="M3261.3 1478.7L3258.2 1482.1L3256 1485.3L3254.2 1488.3L3252.7 1491.4L3251.4 1494.4L3250.1 1497.4L3249 1500.3L3247.9 1503.3L3246.9 1506.3L3245.9 1509.2L3245 1512L3244.1 1514.7L3243.2 1517.5L3242.3 1520.2L3241.4 1523L3240.5 1525.8L3239.6 1528.7L3238.7 1531.5L3237.9 1534.4L3237 1537.3L3236.2 1540.1L3235.4 1542.9L3234.5 1545.7L3233.7 1548.5L3232.9 1551.3L3232 1554.2L3231.2 1557.1L3230.3 1560.1L3229.5 1563.1L3228.7 1566.1L3227.9 1569.1L3227 1572L3226.3 1575L3225.5 1577.9L3224.7 1580.9L3223.9 1583.8L3223.2 1586.7L3222.4 1589.7L3221.6 1592.6L3220.7 1595.4L3219.9 1598.3L3219 1601.1L3218.1 1604L3217.1 1607L3216.1 1610L3215.1 1613L3214 1616L3213 1619.1L3211.9 1622.2L3210.7 1625.4L3209.7 1628.4L3208.6 1631.4L3207.5 1634.3L3206.5 1637.2L3205.4 1640.1L3204.3 1643.1L3203.1 1646.1L3201.9 1649.2L3200.7 1652.5L3199.4 1655.9L3198 1659.4L3196.6 1663.2L3195 1667.2L3193.4 1671.4L3191.8 1675.7L3190.1 1680.2L3188.4 1684.8L3186.8 1689.5L3185.3 1694.2L3183.9 1698.8L3182.6 1703.2L3181.4 1707.6L3180.3 1711.9L3179.3 1716.2L3178.3 1720.5L3177.5 1724.8L3176.6 1729.1L3175.9 1733.3L3175.2 1737.6L3174.6 1741.9L3174 1746.2L3173.5 1750.7L3173.1 1755.1L3172.8 1759.5L3172.6 1763.9L3172.5 1768.2L3172.5 1772.5L3172.6 1776.8L3172.9 1780.9L3173.2 1785L3173.7 1789.1L3174.4 1793.1L3175.4 1797.1L3176.7 1801.1L3179 1805.3L3190.4 1808L3194.2 1805.3L3197.3 1802.4L3199.9 1799.4L3202.4 1796.2L3204.7 1792.9L3207 1789.5L3209.1 1786L3211.2 1782.4L3213.2 1778.7L3215.2 1775.1L3217.2 1771.4L3219.1 1767.7L3220.9 1764L3222.7 1760.4L3224.5 1756.8L3226.3 1753.1L3228 1749.5L3229.7 1745.9L3231.4 1742.3L3233.1 1738.7L3234.8 1735.1L3236.5 1731.5L3238.2 1727.8L3240 1724.2L3241.7 1720.5L3243.4 1716.9L3245.2 1713.2L3247.2 1709.2L3249.1 1705.2L3251.1 1701.1L3253.1 1696.9L3255.1 1692.7L3257 1688.5L3258.8 1684.4L3260.5 1680.4L3262 1676.6L3263.4 1673.1L3264.8 1669.7L3266 1666.4L3267.2 1663.2L3268.4 1660.1L3269.5 1656.9L3270.7 1653.8L3271.8 1650.6L3272.9 1647.4L3274.1 1644.2L3275.2 1641L3276.4 1637.7L3277.5 1634.5L3278.6 1631.1L3279.8 1627.8L3280.9 1624.4L3282 1620.9L3283.1 1617.4L3284.1 1613.9L3285.1 1610.5L3286.1 1607L3287 1603.6L3287.9 1600.2L3288.7 1596.8L3289.4 1593.3L3290.2 1590L3290.8 1586.6L3291.5 1583.2L3292 1579.8L3292.6 1576.5L3293.1 1573.1L3293.5 1569.7L3293.9 1566.3L3294.3 1562.9L3294.6 1559.4L3294.9 1555.8L3295.1 1552.3L3295.2 1548.7L3295.3 1545.2L3295.3 1541.7L3295.2 1538.2L3295.1 1534.8L3294.9 1531.3L3294.6 1527.7L3294.2 1524.2L3293.7 1520.6L3293.2 1517L3292.5 1513.4L3291.7 1509.8L3290.8 1506.4L3289.8 1502.9L3288.6 1499.5L3287.2 1496L3285.7 1492.6L3284 1489.2L3282 1485.9L3279.6 1482.7L3276.7 1479.6L3272.6 1476.9Z" fill="#1f0d06"  /></g><path d="M3263.3 1462.9L3264 1465.8L3264.6 1468.8L3265 1471.9L3265.4 1474.9L3265.6 1478L3265.8 1481.1L3265.8 1484.2L3265.7 1487.3L3265.5 1490.5L3265.3 1493.6L3264.9 1496.8L3264.6 1500L3264.1 1503.2L3263.7 1506.3L3263.2 1509.4L3262.6 1512.5L3262.1 1515.5L3261.5 1518.6L3260.9 1521.6L3260.2 1524.7L3259.6 1527.7L3259 1530.8L3258.4 1533.9L3257.9 1537L3257.3 1540L3256.8 1543.1L3256.4 1546.2L3255.9 1549.3L3255.3 1552.3L3254.7 1555.4L3254.2 1558.5L3253.5 1561.7L3252.9 1564.8L3252.2 1567.9L3251.6 1571L3250.9 1574.2L3250.2 1577.3L3249.5 1580.4L3248.7 1583.5L3248 1586.7L3247.2 1589.8L3246.4 1592.9L3245.5 1596L3244.7 1599.1L3243.8 1602.2L3242.9 1605.2L3241.9 1608.3L3240.9 1611.4L3239.9 1614.5L3238.9 1617.7L3237.8 1620.8L3236.7 1623.9L3235.6 1627.1L3234.5 1630.2L3233.4 1633.4L3232.3 1636.5L3231.2 1639.5L3230.1 1642.5L3229 1645.5L3227.9 1648.5L3226.7 1651.6L3225.5 1654.7L3224.3 1657.9L3223 1661.3L3221.6 1664.8L3220.1 1668.5L3218.5 1672.4L3216.8 1676.4L3215 1680.6L3213.2 1684.9L3211.3 1689.2L3209.5 1693.6L3207.7 1697.9L3206 1702.3L3204.3 1706.5L3202.8 1710.6L3201.3 1714.7L3199.9 1718.7L3198.5 1722.8L3197.2 1726.8L3195.9 1730.8L3194.6 1734.8L3193.4 1738.7L3192.1 1742.7L3190.9 1746.7L3189.7 1750.8L3188.6 1754.9L3187.4 1759L3186.3 1763.1L3185.2 1767.2L3184.2 1771.2L3183.1 1775.2L3182.1 1779.2L3181.2 1783L3180.2 1786.8L3179.3 1790.5L3178.4 1794.1L3177.6 1797.6L3176.7 1801.1L3175.9 1804.6L3175.1 1808L3174.4 1811.4L3173.6 1814.8L3172.9 1818.2L3172.2 1821.6L3171.6 1824.9L3170.9 1828.3L3170.3 1831.6L3169.7 1835L3169.2 1838.2L3168.7 1841.5L3168.2 1844.7L3167.7 1847.8L3167.4 1850.9L3167.6 1854L3168.3 1857L3169.8 1860.1L3180.2 1861.3L3182.4 1858.8L3183.9 1856.2L3184.9 1853.4L3185.5 1850.4L3186 1847.4L3186.4 1844.3L3186.9 1841.2L3187.5 1838L3188 1834.8L3188.6 1831.6L3189.2 1828.3L3189.9 1825.1L3190.5 1821.9L3191.2 1818.6L3191.9 1815.3L3192.7 1812L3193.4 1808.7L3194.2 1805.3L3195.1 1801.9L3195.9 1798.4L3196.8 1794.8L3197.7 1791.2L3198.6 1787.4L3199.6 1783.6L3200.6 1779.7L3201.6 1775.7L3202.6 1771.8L3203.7 1767.8L3204.8 1763.8L3205.9 1759.8L3207 1755.8L3208.2 1751.9L3209.4 1748L3210.6 1744.1L3211.8 1740.2L3213 1736.3L3214.3 1732.4L3215.6 1728.5L3216.9 1724.6L3218.3 1720.7L3219.7 1716.8L3221.2 1712.8L3222.7 1708.8L3224.4 1704.7L3226.1 1700.5L3227.9 1696.2L3229.7 1691.9L3231.5 1687.7L3233.3 1683.5L3235.1 1679.3L3236.8 1675.3L3238.3 1671.5L3239.7 1667.9L3241.1 1664.4L3242.4 1661.1L3243.6 1657.9L3244.7 1654.8L3245.9 1651.7L3247 1648.7L3248.1 1645.7L3249.2 1642.6L3250.3 1639.4L3251.5 1636.2L3252.6 1633L3253.7 1629.9L3254.8 1626.6L3255.9 1623.4L3257 1620.2L3258.1 1617L3259.1 1613.7L3260.1 1610.5L3261.1 1607.2L3262 1604L3262.9 1600.7L3263.8 1597.5L3264.6 1594.2L3265.4 1591L3266.2 1587.8L3267 1584.5L3267.7 1581.3L3268.4 1578.1L3269.2 1574.9L3269.8 1571.7L3270.5 1568.4L3271.2 1565.2L3271.8 1562L3272.4 1558.8L3273 1555.5L3273.6 1552.2L3274.1 1549L3274.6 1545.7L3275 1542.4L3275.3 1539.2L3275.5 1535.9L3275.7 1532.6L3275.7 1529.3L3275.7 1526.1L3275.6 1522.8L3275.4 1519.5L3275.2 1516.2L3274.9 1512.9L3274.5 1509.6L3274 1506.3L3273.5 1503.1L3273 1499.8L3272.4 1496.6L3271.8 1493.3L3271.2 1490.1L3270.5 1486.9L3269.8 1483.7L3269.1 1480.6L3268.3 1477.6L3267.5 1474.5L3266.7 1471.5L3265.9 1468.5L3265.1 1465.6L3264.3 1462.6Z" fill="#e4342a" stroke="#3a0d08" stroke-width="2.0" stroke-linejoin="round" /></g>
<rect x="2722.5" y="1302.7" width="945" height="761.3999999999999" fill="none" stroke="#1a1718" stroke-width="5"/>
<rect x="2909.2" y="2045.1" width="4.6" height="21.5" fill="#1a1718"/>
<rect x="2720" y="1909.5" width="21.5" height="4.6" fill="#1a1718"/>
<rect x="3098.2" y="2045.1" width="4.6" height="21.5" fill="#1a1718"/>
<rect x="2720" y="1757.2" width="21.5" height="4.6" fill="#1a1718"/>
<rect x="3287.2" y="2045.1" width="4.6" height="21.5" fill="#1a1718"/>
<rect x="2720" y="1605.0" width="21.5" height="4.6" fill="#1a1718"/>
<rect x="3476.2" y="2045.1" width="4.6" height="21.5" fill="#1a1718"/>
<rect x="2720" y="1452.7" width="21.5" height="4.6" fill="#1a1718"/>
<text x="2792.3" transform="scale(0.975 1)" y="2139.6" font-size="68" text-anchor="middle">0.0</text>
<text x="2770.3" transform="scale(0.975 1)" y="2085.8" font-size="68" text-anchor="end">0.0</text>
<text x="2986.2" transform="scale(0.975 1)" y="2139.6" font-size="68" text-anchor="middle">0.2</text>
<text x="2770.3" transform="scale(0.975 1)" y="1933.5" font-size="68" text-anchor="end">0.2</text>
<text x="3180.0" transform="scale(0.975 1)" y="2139.6" font-size="68" text-anchor="middle">0.4</text>
<text x="2770.3" transform="scale(0.975 1)" y="1781.2" font-size="68" text-anchor="end">0.4</text>
<text x="3373.8" transform="scale(0.975 1)" y="2139.6" font-size="68" text-anchor="middle">0.6</text>
<text x="2770.3" transform="scale(0.975 1)" y="1629.0" font-size="68" text-anchor="end">0.6</text>
<text x="3567.7" transform="scale(0.975 1)" y="2139.6" font-size="68" text-anchor="middle">0.8</text>
<text x="2770.3" transform="scale(0.975 1)" y="1476.7" font-size="68" text-anchor="end">0.8</text>
<text x="3761.5" transform="scale(0.975 1)" y="2139.6" font-size="68" text-anchor="middle">1.0</text>
<text x="2770.3" transform="scale(0.975 1)" y="1324.4" font-size="68" text-anchor="end">1.0</text>
<text x="2792.3" transform="scale(0.975 1)" y="1188.5" font-size="68" text-anchor="middle">0</text>
<text x="3034.7" transform="scale(0.975 1)" y="1188.5" font-size="68" text-anchor="middle">1</text>
<text x="3276.9" transform="scale(0.975 1)" y="1188.5" font-size="68" text-anchor="middle">2</text>
<text x="3519.2" transform="scale(0.975 1)" y="1188.5" font-size="68" text-anchor="middle">3</text>
<text x="3761.5" transform="scale(0.975 1)" y="1188.5" font-size="68" text-anchor="middle">4</text>
<text x="2776.4" transform="scale(0.975 1)" y="1251.2" font-size="68" text-anchor="end"><tspan class="i">E</tspan><tspan font-size="36" dy="12.5">k</tspan><tspan dy="-12.5" dx="4">/10</tspan><tspan font-size="34" dy="-33">5</tspan></text>
<text class="i" x="3276.9" transform="scale(0.975 1)" y="2191.9" font-size="68" text-anchor="middle">x</text>
<text class="i" transform="translate(2581.0,1683.4) rotate(-90)" font-size="68" text-anchor="middle">z</text>
<text x="3276.9" transform="scale(0.975 1)" y="2252.8" font-size="68" text-anchor="middle">(c2) <tspan class="i">E</tspan><tspan font-size="36" dy="12.5">k</tspan></text>
<text x="3276.9" transform="scale(0.975 1)" y="2323.5" font-size="68" text-anchor="middle">(c) <tspan class="i">t</tspan> = 1.825</text>
</svg></body></html>
